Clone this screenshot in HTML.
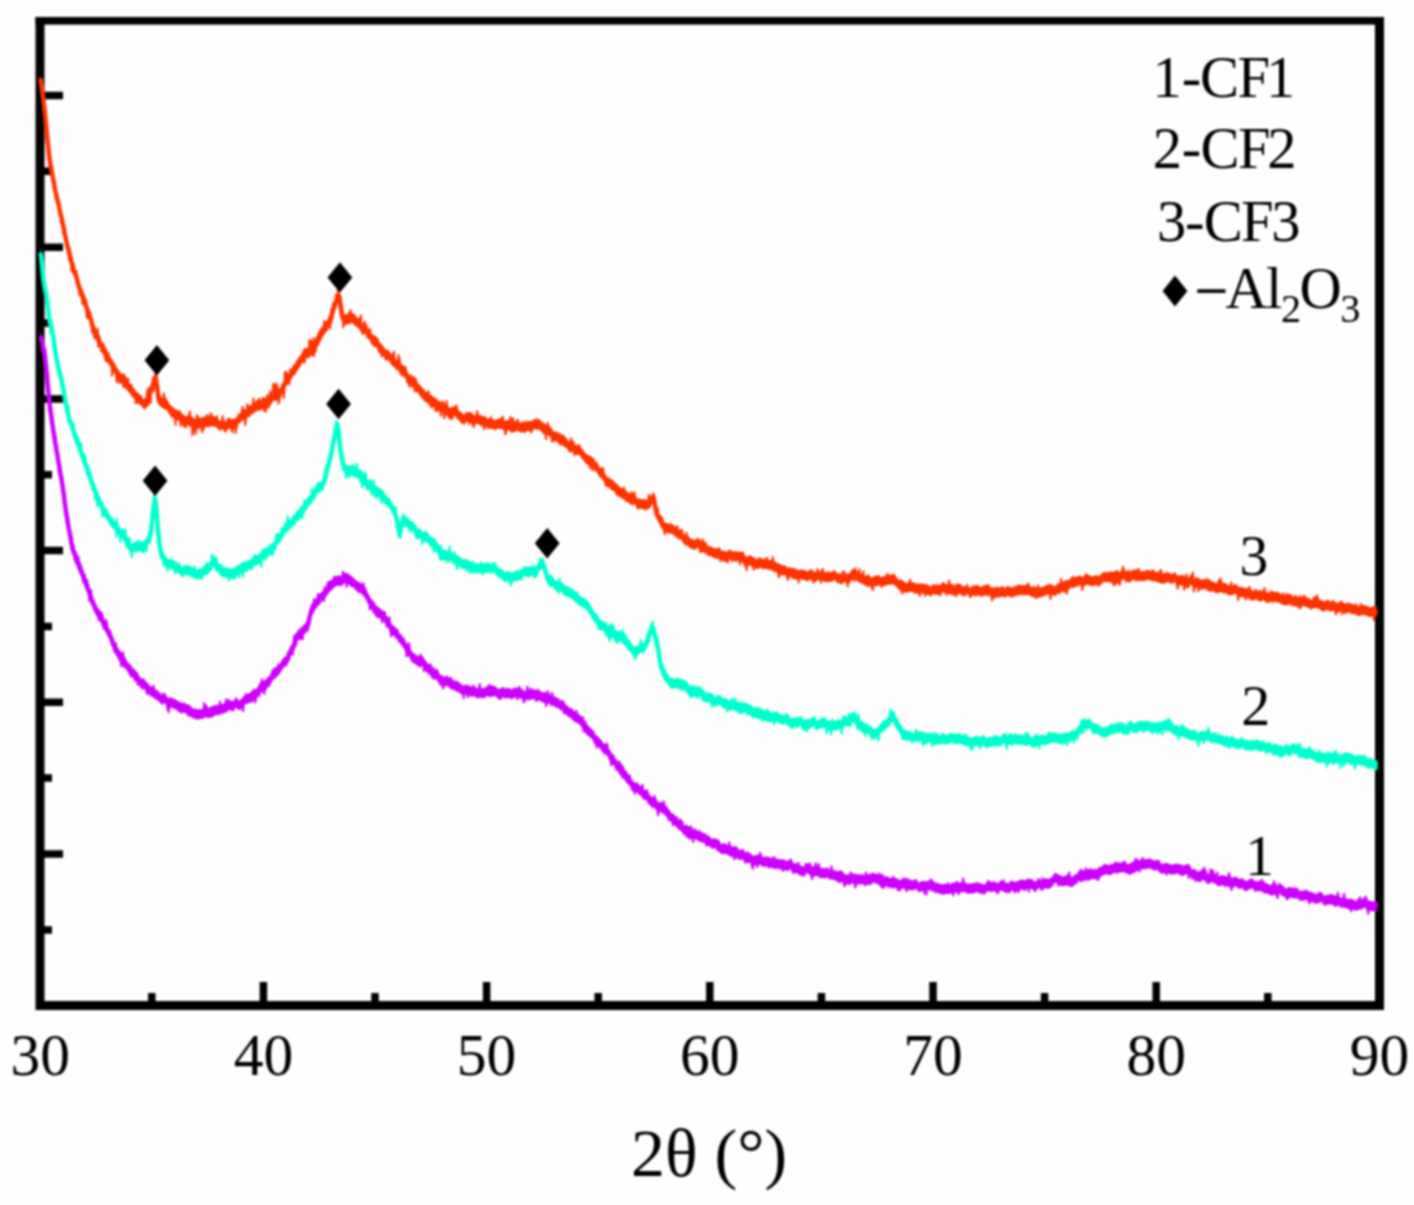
<!DOCTYPE html><html><head><meta charset="utf-8"><style>html,body{margin:0;padding:0;background:#fefefe;width:1414px;height:1205px;overflow:hidden}svg{position:absolute;left:0;top:0;will-change:transform;filter:blur(0.8px)}text{font-family:"Liberation Serif",serif}</style></head><body>
<svg width="1414" height="1205" viewBox="0 0 1414 1205">
<path d="M40 17V1009.9M1379.5 17V1009.9M35.5 1005.4H1384" fill="none" stroke="#000" stroke-width="9"/>
<rect x="35.5" y="17" width="1348.5" height="7.6" fill="#000"/>
<path d="M44 95.5H63 M44 171.3H52 M44 247.2H63 M44 323.0H52 M44 398.9H63 M44 474.8H52 M44 550.6H63 M44 626.4H52 M44 702.3H63 M44 778.1H52 M44 854.0H63 M44 929.9H52 M263.4 1001V982 M486.6 1001V982 M709.8 1001V982 M933.0 1001V982 M1156.2 1001V982 M151.8 1001V993 M375.0 1001V993 M598.2 1001V993 M821.4 1001V993 M1044.6 1001V993 M1267.8 1001V993" stroke="#000" stroke-width="7.5" fill="none"/>
<path d="M40.5 73.3 L40.7 75.6 L41.0 77.1 L41.2 78.1 L41.4 80.2 L41.6 80.9 L41.8 82.7 L42.1 84.2 L42.3 86.7 L42.5 86.7 L42.7 89.1 L42.9 90.7 L43.1 92.0 L43.3 93.8 L43.4 94.4 L43.6 95.4 L43.8 98.1 L44.0 99.2 L44.2 101.1 L44.4 102.2 L44.5 104.6 L44.7 106.0 L44.9 106.9 L45.1 109.0 L45.2 110.2 L45.4 111.6 L45.5 113.2 L45.7 114.6 L45.8 116.4 L45.9 117.8 L46.1 119.0 L46.2 121.0 L46.4 121.9 L46.5 123.7 L46.6 125.3 L46.8 127.2 L46.9 127.9 L47.0 130.3 L47.2 131.2 L47.3 132.1 L47.4 133.4 L47.6 135.4 L47.7 136.6 L47.8 137.7 L48.0 139.2 L48.1 140.9 L48.3 142.3 L48.4 144.5 L48.6 146.1 L48.7 147.4 L48.9 148.7 L49.1 149.9 L49.2 151.6 L49.4 153.4 L49.6 155.4 L49.8 156.4 L50.1 157.4 L50.3 159.0 L50.5 160.3 L50.8 160.2 L51.0 161.9 L51.3 163.5 L51.5 165.7 L51.8 166.4 L52.0 168.4 L52.3 170.1 L52.6 170.9 L52.9 173.0 L53.2 174.1 L53.5 175.1 L53.8 176.8 L54.1 178.2 L54.4 181.6 L54.7 183.0 L55.0 184.6 L55.3 186.2 L55.7 187.2 L56.0 189.0 L56.3 189.8 L56.7 192.0 L57.0 193.6 L57.4 194.9 L57.7 196.0 L58.0 197.6 L58.4 198.5 L58.7 200.2 L59.0 201.9 L59.3 203.6 L59.7 204.8 L60.0 207.2 L60.3 207.6 L60.6 209.5 L60.9 211.1 L61.2 211.1 L61.5 212.3 L61.8 213.6 L62.1 215.6 L62.4 217.5 L62.8 218.6 L63.1 220.0 L63.4 221.3 L63.7 223.1 L64.0 223.5 L64.3 226.9 L64.6 228.3 L65.0 229.2 L65.3 232.1 L65.6 232.1 L65.9 233.7 L66.2 235.1 L66.6 237.5 L66.9 238.2 L67.2 240.3 L67.6 241.7 L67.9 242.9 L68.3 243.7 L68.6 245.4 L69.0 247.8 L69.3 248.1 L69.7 249.7 L70.1 251.4 L70.5 253.3 L70.8 254.5 L71.2 256.1 L71.6 256.8 L72.0 259.1 L72.4 260.4 L72.9 260.9 L73.3 263.6 L73.7 265.4 L74.1 265.6 L74.6 267.1 L75.0 269.1 L75.5 269.4 L75.9 270.6 L76.4 272.3 L76.8 274.0 L77.3 275.4 L77.7 277.3 L78.2 279.1 L78.7 279.9 L79.2 282.1 L79.7 284.0 L80.1 285.2 L80.6 286.5 L81.1 287.5 L81.6 288.2 L82.1 288.8 L82.6 290.9 L83.1 292.0 L83.6 293.9 L84.1 295.1 L84.6 295.9 L85.1 298.3 L85.6 300.1 L86.1 300.6 L86.6 302.3 L87.0 303.6 L87.5 304.7 L88.0 307.1 L88.5 308.4 L89.0 309.6 L89.5 310.8 L90.0 312.1 L90.4 313.7 L90.9 314.7 L91.4 316.8 L91.9 319.2 L92.4 320.6 L92.9 321.4 L93.4 323.1 L93.9 324.4 L94.4 326.6 L94.9 326.8 L95.5 327.4 L96.0 329.7 L96.6 331.7 L97.1 332.6 L97.7 334.1 L98.3 334.8 L99.0 335.4 L99.6 336.8 L100.2 338.4 L100.9 340.2 L101.6 341.7 L102.2 342.8 L102.9 343.7 L103.6 345.5 L104.4 346.3 L105.1 347.5 L105.8 349.9 L106.6 350.5 L107.3 351.1 L108.1 353.0 L108.9 355.0 L109.7 355.0 L110.5 357.4 L111.3 358.6 L112.1 359.2 L113.0 360.4 L113.8 362.1 L114.7 363.3 L115.6 366.6 L116.4 367.5 L117.3 367.9 L118.3 369.4 L119.2 370.9 L120.1 372.6 L121.0 373.2 L121.9 374.3 L122.8 373.0 L123.7 373.4 L124.6 374.5 L125.5 375.8 L126.4 377.4 L127.3 379.7 L128.2 379.4 L129.1 382.8 L130.1 383.4 L131.0 385.2 L131.9 386.6 L132.9 387.1 L133.9 388.6 L134.9 389.7 L135.9 391.3 L136.9 393.0 L137.9 393.7 L139.1 394.2 L140.3 394.9 L141.6 395.6 L142.9 398.5 L144.4 398.7 L145.8 399.8 L146.7 395.3 L147.4 393.2 L148.0 391.7 L148.5 391.2 L149.1 388.3 L149.6 388.2 L150.2 387.3 L150.7 385.2 L151.2 383.9 L151.7 382.6 L152.1 381.5 L152.6 379.9 L153.0 380.7 L153.4 379.4 L153.7 377.7 L154.0 376.6 L154.3 374.4 L154.7 372.7 L155.5 371.9 L155.8 373.4 L156.1 374.1 L156.3 376.2 L156.5 377.4 L156.7 378.5 L156.9 379.8 L157.2 381.5 L157.4 383.1 L157.5 384.5 L157.7 385.6 L157.8 387.5 L158.0 389.6 L158.2 389.8 L158.3 392.1 L158.6 392.8 L159.1 395.1 L159.9 396.0 L161.0 396.6 L162.2 398.3 L163.5 398.7 L164.6 399.0 L165.6 400.5 L166.7 400.1 L167.7 400.3 L168.8 402.4 L169.9 404.8 L171.0 405.4 L172.1 407.3 L173.2 408.0 L174.4 408.7 L175.5 410.2 L176.7 409.2 L177.9 410.7 L179.2 410.9 L180.4 412.8 L181.7 412.9 L183.0 414.6 L184.4 415.3 L185.8 416.4 L187.2 415.2 L188.6 415.8 L190.1 416.7 L191.5 416.4 L193.0 417.4 L194.5 418.7 L195.9 418.7 L197.4 419.1 L198.9 418.7 L200.4 418.5 L201.8 417.5 L203.2 416.6 L204.6 416.8 L206.0 416.9 L207.5 417.1 L209.0 417.1 L210.5 415.5 L212.0 416.3 L213.5 417.1 L214.9 416.8 L216.3 417.1 L217.6 419.2 L218.9 419.3 L220.3 421.4 L221.8 419.1 L223.3 420.2 L224.8 421.4 L226.3 420.9 L227.8 418.8 L229.3 419.0 L230.8 418.1 L232.2 420.0 L233.6 419.4 L235.0 418.2 L236.3 417.6 L237.5 416.9 L238.5 414.0 L239.6 413.5 L240.7 411.7 L241.8 411.5 L242.9 410.6 L244.0 409.4 L245.1 409.5 L246.3 408.5 L247.4 407.7 L248.6 406.5 L249.9 405.8 L251.2 404.8 L252.6 402.7 L253.9 402.7 L255.3 401.9 L256.6 400.7 L258.0 400.7 L259.4 400.4 L260.7 400.4 L262.1 399.0 L263.5 398.4 L264.8 397.5 L266.1 398.2 L267.4 397.3 L268.7 397.2 L269.9 396.0 L271.2 394.6 L272.4 391.9 L273.6 390.7 L274.8 390.4 L275.9 391.4 L277.0 390.0 L278.1 388.6 L279.2 388.5 L280.2 387.7 L281.1 385.8 L282.0 383.9 L282.8 382.6 L283.6 381.1 L284.4 379.8 L285.1 378.8 L285.9 376.6 L286.6 375.3 L287.3 374.6 L288.1 373.1 L288.8 373.8 L289.5 371.4 L290.3 369.8 L291.1 369.6 L292.0 368.4 L292.8 366.0 L293.7 364.5 L294.7 363.9 L295.6 362.7 L296.6 362.1 L297.5 360.2 L298.5 359.8 L299.4 356.7 L300.2 356.2 L301.0 355.6 L301.8 353.6 L302.5 351.7 L303.3 349.8 L304.1 348.5 L305.2 347.2 L306.4 348.6 L307.8 347.5 L309.1 347.3 L310.5 345.4 L311.7 344.9 L312.7 345.1 L313.5 344.4 L314.1 343.2 L314.7 340.8 L315.2 339.2 L315.8 337.5 L316.4 336.9 L317.1 335.0 L317.9 333.5 L318.8 332.5 L319.8 328.7 L320.8 327.9 L321.8 327.9 L322.7 326.9 L323.7 325.6 L324.5 323.9 L325.3 323.3 L326.0 322.4 L326.6 321.7 L327.3 320.9 L327.9 319.3 L328.4 318.3 L329.0 316.7 L329.6 315.1 L330.2 313.4 L330.7 312.4 L331.3 310.7 L331.8 309.5 L332.3 308.1 L332.8 307.0 L333.3 303.9 L333.8 302.6 L334.3 301.7 L334.8 299.8 L335.3 298.4 L335.8 297.4 L336.3 295.7 L336.7 294.8 L337.1 293.4 L337.5 291.4 L338.0 290.7 L338.9 290.9 L339.3 292.1 L339.6 292.7 L339.8 295.3 L340.0 296.3 L340.2 298.1 L340.4 299.7 L340.6 300.7 L340.9 303.2 L341.1 304.1 L341.4 305.9 L341.7 307.3 L341.9 309.1 L342.2 310.5 L342.4 310.9 L342.7 313.0 L343.1 313.6 L344.2 315.0 L345.6 314.9 L346.9 314.6 L348.2 314.0 L349.6 312.9 L351.1 312.8 L352.5 313.3 L353.8 314.3 L354.9 315.3 L356.0 315.6 L357.1 318.1 L358.1 317.7 L359.2 318.6 L360.2 321.3 L361.2 322.5 L362.3 323.4 L363.3 324.0 L364.4 323.0 L365.4 323.6 L366.3 325.3 L367.3 328.3 L368.2 328.4 L369.1 329.7 L370.0 330.9 L371.0 332.7 L371.9 333.8 L372.9 335.1 L373.8 334.5 L374.8 336.1 L375.8 337.6 L376.9 337.6 L377.9 340.7 L379.0 342.0 L380.0 342.9 L381.1 343.0 L382.2 344.9 L383.2 345.7 L384.3 348.0 L385.4 348.4 L386.5 350.6 L387.5 350.0 L388.6 350.7 L389.7 351.9 L390.7 353.6 L391.8 355.7 L392.9 355.9 L394.0 356.9 L395.0 357.6 L396.1 359.8 L397.1 360.2 L398.2 360.5 L399.2 362.3 L400.2 362.8 L401.2 363.4 L402.2 364.7 L403.1 364.7 L404.1 366.5 L405.0 366.6 L406.0 368.3 L406.9 369.9 L407.8 373.1 L408.8 375.5 L409.7 375.8 L410.7 376.6 L411.7 376.5 L412.7 378.0 L413.7 378.2 L414.8 379.3 L415.8 379.9 L416.8 382.0 L417.9 382.6 L418.9 384.2 L420.0 385.9 L421.1 386.0 L422.2 387.1 L423.3 389.0 L424.4 389.2 L425.5 391.7 L426.7 392.2 L427.8 392.9 L428.9 393.3 L430.1 394.4 L431.3 395.1 L432.4 395.9 L433.6 396.8 L434.8 397.4 L436.1 398.2 L437.3 399.2 L438.6 401.1 L439.9 400.9 L441.2 402.7 L442.6 401.7 L443.9 401.8 L445.2 404.6 L446.6 405.5 L448.0 406.1 L449.3 407.6 L450.7 408.3 L452.0 406.2 L453.4 406.4 L454.7 406.3 L456.1 406.6 L457.5 407.6 L458.9 410.7 L460.3 411.7 L461.7 412.2 L463.1 414.1 L464.5 415.3 L466.0 411.4 L467.4 412.5 L468.9 412.0 L470.4 412.1 L471.9 412.9 L473.3 414.4 L474.8 415.2 L476.3 413.4 L477.8 414.2 L479.2 414.6 L480.6 415.3 L482.1 415.7 L483.5 416.1 L484.9 417.3 L486.3 417.8 L487.8 418.3 L489.2 419.3 L490.7 418.8 L492.2 418.8 L493.7 419.5 L495.2 420.4 L496.7 418.7 L498.2 419.0 L499.7 418.4 L501.2 419.4 L502.7 419.3 L504.1 420.4 L505.6 420.7 L507.1 420.0 L508.5 420.1 L510.0 421.3 L511.4 422.8 L512.9 422.6 L514.4 421.5 L515.9 421.1 L517.4 421.1 L518.9 421.0 L520.4 423.1 L521.9 422.1 L523.4 421.5 L524.9 421.2 L526.4 421.3 L527.9 421.1 L529.4 421.1 L530.8 421.0 L532.3 421.1 L533.8 418.7 L535.3 419.2 L536.8 420.2 L538.3 419.3 L539.7 420.1 L541.1 421.8 L542.3 421.9 L543.6 423.5 L544.7 423.4 L545.9 424.2 L547.0 425.4 L548.1 425.0 L549.2 426.6 L550.4 427.4 L551.6 430.4 L552.9 430.6 L554.2 431.6 L555.5 431.3 L556.8 432.1 L558.1 432.6 L559.4 433.1 L560.7 433.7 L561.9 434.9 L563.2 436.0 L564.5 437.1 L565.8 438.1 L567.0 438.3 L568.3 440.8 L569.5 442.8 L570.8 442.7 L572.0 441.3 L573.3 442.3 L574.5 444.6 L575.7 444.4 L576.9 445.6 L578.1 444.5 L579.3 445.4 L580.5 445.5 L581.7 449.3 L582.9 449.1 L584.0 451.3 L585.2 453.2 L586.3 454.1 L587.5 454.4 L588.6 455.2 L589.8 455.5 L590.9 456.3 L592.0 457.1 L593.1 458.2 L594.2 459.6 L595.2 461.7 L596.3 461.6 L597.3 463.3 L598.4 465.4 L599.4 466.2 L600.4 467.4 L601.5 467.7 L602.4 469.8 L603.4 469.9 L604.3 471.8 L605.2 474.7 L606.2 476.1 L607.1 476.7 L608.0 478.0 L609.0 477.0 L609.9 478.2 L610.9 480.0 L612.0 479.9 L613.1 480.8 L614.2 481.3 L615.3 483.3 L616.5 484.5 L617.7 484.8 L618.9 485.9 L620.1 487.6 L621.3 488.0 L622.5 488.8 L623.8 489.3 L625.1 490.3 L626.3 491.1 L627.6 492.5 L628.9 492.7 L630.2 494.4 L631.5 494.0 L632.9 493.3 L634.2 494.5 L635.4 494.9 L636.7 497.7 L638.0 498.8 L639.2 498.6 L640.6 498.4 L642.0 499.4 L643.5 499.2 L645.0 498.9 L646.4 500.5 L647.7 499.2 L648.9 498.4 L650.0 498.2 L650.8 497.2 L651.3 495.4 L651.8 494.7 L652.5 492.3 L653.5 492.1 L653.9 492.6 L654.2 494.4 L654.4 496.1 L654.6 498.3 L654.8 499.3 L655.0 500.2 L655.2 502.4 L655.5 503.3 L655.7 504.5 L655.9 506.2 L656.3 507.5 L656.8 509.3 L657.4 510.1 L658.1 511.8 L658.7 513.2 L659.5 513.4 L660.3 514.5 L661.2 515.5 L662.1 517.3 L663.2 521.2 L664.2 522.4 L665.4 523.0 L666.6 522.6 L667.8 523.0 L669.1 524.2 L670.5 523.3 L671.8 523.7 L673.2 525.0 L674.5 525.6 L675.7 526.8 L676.9 527.9 L678.1 528.2 L679.2 530.1 L680.3 529.3 L681.4 530.0 L682.6 531.7 L683.7 534.0 L685.0 534.9 L686.2 535.4 L687.6 535.7 L689.0 536.3 L690.4 539.0 L691.8 538.5 L693.2 539.3 L694.6 539.7 L696.0 539.5 L697.4 537.0 L698.7 539.2 L700.0 538.3 L701.4 542.3 L702.7 542.4 L704.0 541.6 L705.3 541.8 L706.7 542.9 L708.1 546.5 L709.5 546.1 L711.0 546.6 L712.4 546.9 L713.8 548.3 L715.3 547.7 L716.7 548.8 L718.2 547.6 L719.7 547.4 L721.1 549.8 L722.6 551.3 L724.1 550.6 L725.6 551.3 L727.0 552.1 L728.5 549.7 L730.0 549.2 L731.5 551.1 L732.9 551.2 L734.4 551.1 L735.9 552.0 L737.4 550.5 L738.8 552.6 L740.3 551.5 L741.7 552.1 L743.0 552.2 L744.4 556.9 L745.8 556.8 L747.1 557.1 L748.5 555.2 L750.0 555.6 L751.4 556.8 L752.9 557.0 L754.4 557.6 L755.8 558.9 L757.3 558.9 L758.8 557.3 L760.3 557.4 L761.7 558.4 L763.2 559.4 L764.7 558.8 L766.2 559.0 L767.7 559.6 L769.1 559.7 L770.6 560.1 L772.0 560.3 L773.4 560.4 L774.8 560.9 L776.2 562.5 L777.6 562.7 L779.0 563.5 L780.4 564.2 L781.8 565.0 L783.2 565.3 L784.6 565.2 L786.0 566.4 L787.5 567.2 L788.9 567.8 L790.4 567.0 L791.8 568.0 L793.3 569.0 L794.7 569.8 L796.2 569.0 L797.7 569.7 L799.1 569.8 L800.6 569.6 L802.1 569.4 L803.6 570.0 L805.1 570.2 L806.6 571.3 L808.1 571.2 L809.6 569.6 L811.0 570.3 L812.5 571.3 L814.0 571.2 L815.5 572.2 L817.1 570.6 L818.6 570.0 L820.1 571.4 L821.6 570.3 L823.1 571.3 L824.6 572.0 L826.1 571.9 L827.6 571.9 L829.0 572.1 L830.5 571.7 L832.0 571.8 L833.5 570.5 L835.0 570.0 L836.5 572.6 L838.0 573.5 L839.5 573.2 L841.0 573.7 L842.5 574.1 L844.0 572.1 L845.5 572.3 L846.9 574.7 L848.3 573.5 L849.6 573.2 L850.9 571.1 L852.3 570.2 L853.8 569.2 L855.3 569.1 L856.7 570.6 L858.1 571.9 L859.4 572.6 L860.7 572.8 L862.0 574.0 L863.3 574.1 L864.7 575.7 L866.1 575.7 L867.6 574.3 L869.1 574.6 L870.6 577.8 L872.1 579.0 L873.5 575.4 L875.0 576.2 L876.5 576.7 L878.0 575.6 L879.5 575.2 L881.0 577.9 L882.5 576.7 L884.0 575.6 L885.5 576.2 L887.0 574.9 L888.3 574.5 L889.7 575.2 L891.2 574.3 L892.6 574.5 L894.0 575.0 L895.2 576.1 L896.4 576.5 L897.6 578.8 L898.7 579.4 L900.0 580.2 L901.3 579.0 L902.7 580.5 L904.2 582.4 L905.6 582.7 L907.1 582.8 L908.6 581.7 L910.1 581.8 L911.6 582.0 L913.1 582.2 L914.5 583.1 L916.0 583.0 L917.5 584.0 L919.0 583.3 L920.5 583.9 L922.0 583.2 L923.5 584.1 L925.0 584.0 L926.4 584.2 L927.9 584.4 L929.3 585.3 L930.8 587.0 L932.3 584.4 L933.8 584.3 L935.3 584.9 L936.8 584.4 L938.2 585.3 L939.6 584.8 L941.1 584.2 L942.6 581.7 L944.1 582.6 L945.6 584.0 L947.1 584.2 L948.5 584.0 L950.0 584.4 L951.5 584.8 L953.0 585.3 L954.5 586.3 L956.0 583.4 L957.5 583.9 L959.0 584.5 L960.5 584.0 L962.0 585.6 L963.5 586.6 L965.0 586.7 L966.5 583.7 L968.0 584.4 L969.5 588.2 L971.0 588.0 L972.5 585.4 L974.0 585.2 L975.5 585.6 L977.0 584.6 L978.5 585.6 L980.0 586.5 L981.5 587.0 L983.0 585.2 L984.5 585.7 L986.0 584.3 L987.5 584.7 L989.0 583.9 L990.5 587.4 L991.9 587.2 L993.4 587.2 L994.9 588.1 L996.4 586.6 L997.9 587.1 L999.4 587.7 L1000.9 587.1 L1002.4 586.5 L1003.9 587.3 L1005.4 587.7 L1006.9 586.3 L1008.4 585.8 L1009.9 587.0 L1011.4 587.4 L1012.9 587.6 L1014.4 585.4 L1015.9 586.5 L1017.4 585.2 L1018.9 585.6 L1020.4 585.0 L1021.9 584.7 L1023.4 585.3 L1024.9 585.1 L1026.4 584.9 L1027.9 585.6 L1029.4 585.0 L1030.9 586.7 L1032.4 586.9 L1033.9 586.0 L1035.3 586.8 L1036.8 588.0 L1038.3 588.1 L1039.8 587.1 L1041.3 587.6 L1042.8 586.5 L1044.3 585.9 L1045.7 585.8 L1047.2 584.6 L1048.6 584.6 L1050.1 583.8 L1051.6 584.7 L1053.1 584.9 L1054.5 586.5 L1056.0 585.2 L1057.5 583.4 L1058.9 583.0 L1060.4 583.6 L1061.8 581.2 L1063.3 581.9 L1064.7 580.7 L1066.0 580.4 L1067.4 579.7 L1068.8 580.4 L1070.2 578.3 L1071.6 577.1 L1073.0 577.9 L1074.4 577.2 L1075.8 576.9 L1077.2 576.5 L1078.6 575.7 L1080.1 575.2 L1081.6 576.7 L1083.1 576.7 L1084.6 575.6 L1086.1 575.1 L1087.6 575.0 L1089.1 575.2 L1090.6 575.8 L1092.1 576.1 L1093.6 576.4 L1095.1 575.1 L1096.5 575.2 L1098.0 575.8 L1099.4 575.7 L1100.9 574.5 L1102.4 572.4 L1103.8 572.4 L1105.3 571.7 L1106.8 572.3 L1108.3 571.8 L1109.8 572.2 L1111.3 571.0 L1112.8 571.7 L1114.3 571.8 L1115.8 570.5 L1117.3 569.7 L1118.8 571.5 L1120.3 571.7 L1121.8 570.0 L1123.2 569.4 L1124.7 569.4 L1126.3 571.9 L1127.8 572.6 L1129.3 571.6 L1130.8 570.8 L1132.3 569.8 L1133.8 570.6 L1135.3 570.8 L1136.8 569.2 L1138.3 570.3 L1139.8 571.6 L1141.3 571.1 L1142.8 571.1 L1144.3 571.1 L1145.8 570.6 L1147.3 569.8 L1148.8 570.0 L1150.3 570.7 L1151.7 570.5 L1153.2 571.7 L1154.7 571.0 L1156.2 571.9 L1157.7 572.0 L1159.2 573.1 L1160.7 573.2 L1162.2 573.8 L1163.7 573.0 L1165.2 573.1 L1166.7 572.2 L1168.2 572.6 L1169.7 573.0 L1171.2 573.7 L1172.6 573.8 L1174.1 572.2 L1175.6 572.4 L1177.0 575.6 L1178.5 575.4 L1180.0 575.0 L1181.5 575.4 L1182.9 576.1 L1184.4 576.8 L1185.9 577.0 L1187.3 577.8 L1188.8 578.0 L1190.3 574.7 L1191.8 575.0 L1193.2 578.6 L1194.7 578.0 L1196.2 577.8 L1197.6 577.4 L1199.1 577.7 L1200.6 580.0 L1202.1 579.8 L1203.5 578.9 L1205.0 579.1 L1206.5 579.7 L1208.0 581.1 L1209.4 581.6 L1210.9 581.9 L1212.4 581.1 L1213.9 582.0 L1215.4 582.4 L1216.9 583.4 L1218.4 582.5 L1219.8 583.0 L1221.3 581.9 L1222.8 582.4 L1224.3 582.9 L1225.8 582.7 L1227.2 584.8 L1228.7 585.2 L1230.2 585.0 L1231.7 585.0 L1233.1 585.5 L1234.6 583.7 L1236.1 584.0 L1237.5 586.5 L1239.0 586.7 L1240.5 587.3 L1241.9 587.1 L1243.4 587.5 L1244.8 588.1 L1246.3 588.2 L1247.7 587.8 L1249.2 588.7 L1250.6 588.5 L1252.1 590.1 L1253.5 591.3 L1255.0 589.6 L1256.5 589.1 L1258.0 591.2 L1259.5 590.9 L1261.0 591.9 L1262.5 590.2 L1264.0 590.6 L1265.5 592.3 L1267.0 591.6 L1268.5 592.9 L1270.0 592.2 L1271.5 591.2 L1272.9 591.2 L1274.4 591.5 L1275.9 592.4 L1277.4 592.5 L1278.9 592.4 L1280.4 593.4 L1281.9 594.6 L1283.3 595.1 L1284.8 595.4 L1286.3 594.1 L1287.8 595.4 L1289.2 594.0 L1290.7 593.6 L1292.2 596.0 L1293.7 596.5 L1295.1 596.3 L1296.6 596.2 L1298.1 597.0 L1299.5 599.8 L1301.0 599.0 L1302.5 595.3 L1304.0 595.9 L1305.4 596.9 L1306.9 597.4 L1308.4 597.8 L1309.9 598.7 L1311.4 600.1 L1312.9 598.3 L1314.3 597.9 L1315.8 598.1 L1317.3 598.9 L1318.8 598.2 L1320.3 599.9 L1321.8 600.0 L1323.3 601.0 L1324.8 601.4 L1326.3 599.8 L1327.8 600.2 L1329.3 601.5 L1330.8 601.5 L1332.3 601.1 L1333.8 601.1 L1335.3 601.9 L1336.7 602.5 L1338.2 603.0 L1339.7 601.8 L1341.2 602.1 L1342.7 602.0 L1344.2 603.0 L1345.6 604.8 L1347.1 602.7 L1348.6 602.3 L1350.1 603.4 L1351.6 603.9 L1353.1 603.8 L1354.5 604.5 L1356.0 604.2 L1357.5 605.7 L1359.0 606.1 L1360.5 605.6 L1361.9 605.1 L1363.4 605.1 L1364.9 605.3 L1366.4 605.6 L1367.9 606.4 L1369.4 607.1 L1370.9 607.2 L1372.4 606.5 L1373.9 605.7 L1375.4 606.8 L1376.9 606.2 L1376.9 616.2 L1375.4 616.8 L1373.9 615.7 L1372.4 616.5 L1370.9 617.2 L1369.4 617.1 L1367.9 616.4 L1366.4 615.6 L1364.9 615.3 L1363.4 615.1 L1361.9 615.1 L1360.5 615.6 L1359.0 616.1 L1357.5 615.7 L1356.0 614.2 L1354.5 614.5 L1353.1 613.8 L1351.6 613.9 L1350.1 613.4 L1348.6 612.3 L1347.1 612.7 L1345.6 614.8 L1344.2 613.0 L1342.7 612.0 L1341.2 612.1 L1339.7 611.8 L1338.2 613.0 L1336.7 612.5 L1335.3 611.9 L1333.8 611.1 L1332.3 611.1 L1330.8 611.5 L1329.3 611.5 L1327.8 610.2 L1326.3 609.8 L1324.8 611.4 L1323.3 611.0 L1321.8 610.0 L1320.3 609.9 L1318.8 608.2 L1317.3 608.9 L1315.8 608.1 L1314.3 607.9 L1312.9 608.3 L1311.4 610.1 L1309.9 608.7 L1308.4 607.8 L1306.9 607.4 L1305.4 606.9 L1304.0 605.9 L1302.5 605.3 L1301.0 609.0 L1299.5 609.8 L1298.1 607.0 L1296.6 606.2 L1295.1 606.3 L1293.7 606.5 L1292.2 606.0 L1290.7 603.6 L1289.2 604.0 L1287.8 605.4 L1286.3 604.1 L1284.8 605.4 L1283.3 605.1 L1281.9 604.6 L1280.4 603.4 L1278.9 602.4 L1277.4 602.5 L1275.9 602.4 L1274.4 601.5 L1272.9 601.2 L1271.5 601.2 L1270.0 602.2 L1268.5 602.9 L1267.0 601.6 L1265.5 602.3 L1264.0 600.6 L1262.5 600.2 L1261.0 601.9 L1259.5 600.9 L1258.0 601.2 L1256.5 599.1 L1255.0 599.6 L1253.5 601.3 L1252.1 600.1 L1250.6 598.5 L1249.2 598.7 L1247.7 597.8 L1246.3 598.2 L1244.8 598.1 L1243.4 597.5 L1241.9 597.1 L1240.5 597.3 L1239.0 596.7 L1237.5 596.5 L1236.1 594.0 L1234.6 593.7 L1233.1 595.5 L1231.7 595.0 L1230.2 595.0 L1228.7 595.2 L1227.2 594.8 L1225.8 592.7 L1224.3 592.9 L1222.8 592.4 L1221.3 591.9 L1219.8 593.0 L1218.4 592.5 L1216.9 593.4 L1215.4 592.4 L1213.9 592.0 L1212.4 591.1 L1210.9 591.9 L1209.4 591.6 L1208.0 591.1 L1206.5 589.7 L1205.0 589.1 L1203.5 588.9 L1202.1 589.8 L1200.6 590.0 L1199.1 587.7 L1197.6 587.4 L1196.2 587.8 L1194.7 588.0 L1193.2 588.6 L1191.8 585.0 L1190.3 584.7 L1188.8 588.0 L1187.3 587.8 L1185.9 587.0 L1184.4 586.8 L1182.9 586.1 L1181.5 585.4 L1180.0 585.0 L1178.5 585.4 L1177.0 585.6 L1175.6 582.4 L1174.1 582.2 L1172.6 583.8 L1171.2 583.7 L1169.7 583.0 L1168.2 582.6 L1166.7 582.2 L1165.2 583.1 L1163.7 583.0 L1162.2 583.8 L1160.7 583.2 L1159.2 583.1 L1157.7 582.0 L1156.2 581.9 L1154.7 581.0 L1153.2 581.7 L1151.7 580.5 L1150.3 580.7 L1148.8 580.0 L1147.3 579.8 L1145.8 580.6 L1144.3 581.1 L1142.8 581.1 L1141.3 581.1 L1139.8 581.6 L1138.3 580.3 L1136.8 579.2 L1135.3 580.8 L1133.8 580.6 L1132.3 579.8 L1130.8 580.8 L1129.3 581.6 L1127.8 582.6 L1126.3 581.9 L1124.7 579.4 L1123.2 579.4 L1121.8 580.0 L1120.3 581.7 L1118.8 581.5 L1117.3 579.7 L1115.8 580.5 L1114.3 581.8 L1112.8 581.7 L1111.3 581.0 L1109.8 582.2 L1108.3 581.8 L1106.8 582.3 L1105.3 581.7 L1103.8 582.4 L1102.4 582.4 L1100.9 584.5 L1099.4 585.7 L1098.0 585.8 L1096.5 585.2 L1095.1 585.1 L1093.6 586.4 L1092.1 586.1 L1090.6 585.8 L1089.1 585.2 L1087.6 585.0 L1086.1 585.1 L1084.6 585.6 L1083.1 586.7 L1081.6 586.7 L1080.1 585.2 L1078.6 585.7 L1077.2 586.5 L1075.8 586.9 L1074.4 587.2 L1073.0 587.9 L1071.6 587.1 L1070.2 588.3 L1068.8 590.4 L1067.4 589.7 L1066.0 590.4 L1064.7 590.7 L1063.3 591.9 L1061.8 591.2 L1060.4 593.6 L1058.9 593.0 L1057.5 593.4 L1056.0 595.2 L1054.5 596.5 L1053.1 594.9 L1051.6 594.7 L1050.1 593.8 L1048.6 594.6 L1047.2 594.6 L1045.7 595.8 L1044.3 595.9 L1042.8 596.5 L1041.3 597.6 L1039.8 597.1 L1038.3 598.1 L1036.8 598.0 L1035.3 596.8 L1033.9 596.0 L1032.4 596.9 L1030.9 596.7 L1029.4 595.0 L1027.9 595.6 L1026.4 594.9 L1024.9 595.1 L1023.4 595.3 L1021.9 594.7 L1020.4 595.0 L1018.9 595.6 L1017.4 595.2 L1015.9 596.5 L1014.4 595.4 L1012.9 597.6 L1011.4 597.4 L1009.9 597.0 L1008.4 595.8 L1006.9 596.3 L1005.4 597.7 L1003.9 597.3 L1002.4 596.5 L1000.9 597.1 L999.4 597.7 L997.9 597.1 L996.4 596.6 L994.9 598.1 L993.4 597.2 L991.9 597.2 L990.5 597.4 L989.0 593.9 L987.5 594.7 L986.0 594.3 L984.5 595.7 L983.0 595.2 L981.5 597.0 L980.0 596.5 L978.5 595.6 L977.0 594.6 L975.5 595.6 L974.0 595.2 L972.5 595.4 L971.0 598.0 L969.5 598.2 L968.0 594.4 L966.5 593.7 L965.0 596.7 L963.5 596.6 L962.0 595.6 L960.5 594.0 L959.0 594.5 L957.5 593.9 L956.0 593.4 L954.5 596.3 L953.0 595.3 L951.5 594.8 L950.0 594.4 L948.5 594.0 L947.1 594.2 L945.6 594.0 L944.1 592.6 L942.6 591.7 L941.1 594.2 L939.6 594.8 L938.2 595.3 L936.8 594.4 L935.3 594.9 L933.8 594.3 L932.3 594.4 L930.8 597.0 L929.3 595.3 L927.9 594.4 L926.4 594.2 L925.0 594.0 L923.5 594.1 L922.0 593.2 L920.5 593.9 L919.0 593.3 L917.5 594.0 L916.0 593.0 L914.5 593.1 L913.1 592.2 L911.6 592.0 L910.1 591.8 L908.6 591.7 L907.1 592.8 L905.6 592.7 L904.2 592.4 L902.7 590.5 L901.3 589.0 L900.0 590.2 L898.7 589.4 L897.6 588.8 L896.4 586.5 L895.2 586.1 L894.0 585.0 L892.6 584.5 L891.2 584.3 L889.7 585.2 L888.3 584.5 L887.0 584.9 L885.5 586.2 L884.0 585.6 L882.5 586.7 L881.0 587.9 L879.5 585.2 L878.0 585.6 L876.5 586.7 L875.0 586.2 L873.5 585.4 L872.1 589.0 L870.6 587.8 L869.1 584.6 L867.6 584.3 L866.1 585.7 L864.7 585.7 L863.3 584.1 L862.0 584.0 L860.7 582.8 L859.4 582.6 L858.1 581.9 L856.7 580.6 L855.3 579.1 L853.8 579.2 L852.3 580.2 L850.9 581.1 L849.6 583.2 L848.3 583.5 L846.9 584.7 L845.5 582.3 L844.0 582.1 L842.5 584.1 L841.0 583.7 L839.5 583.2 L838.0 583.5 L836.5 582.6 L835.0 580.0 L833.5 580.5 L832.0 581.8 L830.5 581.7 L829.0 582.1 L827.6 581.9 L826.1 581.9 L824.6 582.0 L823.1 581.3 L821.6 580.3 L820.1 581.4 L818.6 580.0 L817.1 580.6 L815.5 582.2 L814.0 581.2 L812.5 581.3 L811.0 580.3 L809.6 579.6 L808.1 581.2 L806.6 581.3 L805.1 580.2 L803.6 580.0 L802.1 579.4 L800.6 579.6 L799.1 579.8 L797.7 579.7 L796.2 579.0 L794.7 579.8 L793.3 579.0 L791.8 578.0 L790.4 577.0 L788.9 577.8 L787.5 577.2 L786.0 576.4 L784.6 575.2 L783.2 575.3 L781.8 575.0 L780.4 574.2 L779.0 573.5 L777.6 572.7 L776.2 572.5 L774.8 570.9 L773.4 570.4 L772.0 570.3 L770.6 570.1 L769.1 569.7 L767.7 569.6 L766.2 569.0 L764.7 568.8 L763.2 569.4 L761.7 568.4 L760.3 567.4 L758.8 567.3 L757.3 568.9 L755.8 568.9 L754.4 567.6 L752.9 567.0 L751.4 566.8 L750.0 565.6 L748.5 565.2 L747.1 567.1 L745.8 566.8 L744.4 566.9 L743.0 562.2 L741.7 562.1 L740.3 561.5 L738.8 562.6 L737.4 560.5 L735.9 562.0 L734.4 561.1 L732.9 561.2 L731.5 561.1 L730.0 559.2 L728.5 559.7 L727.0 562.1 L725.6 561.3 L724.1 560.6 L722.6 561.3 L721.1 559.8 L719.7 557.4 L718.2 557.6 L716.7 558.8 L715.3 557.7 L713.8 558.3 L712.4 556.9 L711.0 556.6 L709.5 556.1 L708.1 556.5 L706.7 552.9 L705.3 551.8 L704.0 551.6 L702.7 552.4 L701.4 552.3 L700.0 548.3 L698.7 549.2 L697.4 547.0 L696.0 549.5 L694.6 549.7 L693.2 549.3 L691.8 548.5 L690.4 549.0 L689.0 546.3 L687.6 545.7 L686.2 545.4 L685.0 544.9 L683.7 544.0 L682.6 541.7 L681.4 540.0 L680.3 539.3 L679.2 540.1 L678.1 538.2 L676.9 537.9 L675.7 536.8 L674.5 535.6 L673.2 535.0 L671.8 533.7 L670.5 533.3 L669.1 534.2 L667.8 533.0 L666.6 532.6 L665.4 533.0 L664.2 532.4 L663.2 531.2 L662.1 527.3 L661.2 525.5 L660.3 524.5 L659.5 523.4 L658.7 523.2 L658.1 521.8 L657.4 520.1 L656.8 519.3 L656.3 517.5 L655.9 516.2 L655.7 514.5 L655.5 513.3 L655.2 512.4 L655.0 510.2 L654.8 509.3 L654.6 508.3 L654.4 506.1 L654.2 504.4 L653.9 502.6 L653.5 502.1 L652.5 502.3 L651.8 504.7 L651.3 505.4 L650.8 507.2 L650.0 508.2 L648.9 508.4 L647.7 509.2 L646.4 510.5 L645.0 508.9 L643.5 509.2 L642.0 509.4 L640.6 508.4 L639.2 508.6 L638.0 508.8 L636.7 507.7 L635.4 504.9 L634.2 504.5 L632.9 503.3 L631.5 504.0 L630.2 504.4 L628.9 502.7 L627.6 502.5 L626.3 501.1 L625.1 500.3 L623.8 499.3 L622.5 498.8 L621.3 498.0 L620.1 497.6 L618.9 495.9 L617.7 494.8 L616.5 494.5 L615.3 493.3 L614.2 491.3 L613.1 490.8 L612.0 489.9 L610.9 490.0 L609.9 488.2 L609.0 487.0 L608.0 488.0 L607.1 486.7 L606.2 486.1 L605.2 484.7 L604.3 481.8 L603.4 479.9 L602.4 479.8 L601.5 477.7 L600.4 477.4 L599.4 476.2 L598.4 475.4 L597.3 473.3 L596.3 471.6 L595.2 471.7 L594.2 469.6 L593.1 468.2 L592.0 467.1 L590.9 466.3 L589.8 465.5 L588.6 465.2 L587.5 464.4 L586.3 464.1 L585.2 463.2 L584.0 461.3 L582.9 459.1 L581.7 459.3 L580.5 455.5 L579.3 455.4 L578.1 454.5 L576.9 455.6 L575.7 454.4 L574.5 454.6 L573.3 452.3 L572.0 451.3 L570.8 452.7 L569.5 452.8 L568.3 450.8 L567.0 448.3 L565.8 448.1 L564.5 447.1 L563.2 446.0 L561.9 444.9 L560.7 443.7 L559.4 443.1 L558.1 442.6 L556.8 442.1 L555.5 441.3 L554.2 441.6 L552.9 440.6 L551.6 440.4 L550.4 437.4 L549.2 436.6 L548.1 435.0 L547.0 435.4 L545.9 434.2 L544.7 433.4 L543.6 433.5 L542.3 431.9 L541.1 431.8 L539.7 430.1 L538.3 429.3 L536.8 430.2 L535.3 429.2 L533.8 428.7 L532.3 431.1 L530.8 431.0 L529.4 431.1 L527.9 431.1 L526.4 431.3 L524.9 431.2 L523.4 431.5 L521.9 432.1 L520.4 433.1 L518.9 431.0 L517.4 431.1 L515.9 431.1 L514.4 431.5 L512.9 432.6 L511.4 432.8 L510.0 431.3 L508.5 430.1 L507.1 430.0 L505.6 430.7 L504.1 430.4 L502.7 429.3 L501.2 429.4 L499.7 428.4 L498.2 429.0 L496.7 428.7 L495.2 430.4 L493.7 429.5 L492.2 428.8 L490.7 428.8 L489.2 429.3 L487.8 428.3 L486.3 427.8 L484.9 427.3 L483.5 426.1 L482.1 425.7 L480.6 425.3 L479.2 424.6 L477.8 424.2 L476.3 423.4 L474.8 425.2 L473.3 424.4 L471.9 422.9 L470.4 422.1 L468.9 422.0 L467.4 422.5 L466.0 421.4 L464.5 425.3 L463.1 424.1 L461.7 422.2 L460.3 421.7 L458.9 420.7 L457.5 417.6 L456.1 416.6 L454.7 416.3 L453.4 416.4 L452.0 416.2 L450.7 418.3 L449.3 417.6 L448.0 416.1 L446.6 415.5 L445.2 414.6 L443.9 411.8 L442.6 411.7 L441.2 412.7 L439.9 410.9 L438.6 411.1 L437.3 409.2 L436.1 408.2 L434.8 407.4 L433.6 406.8 L432.4 405.9 L431.3 405.1 L430.1 404.4 L428.9 403.3 L427.8 402.9 L426.7 402.2 L425.5 401.7 L424.4 399.2 L423.3 399.0 L422.2 397.1 L421.1 396.0 L420.0 395.9 L418.9 394.2 L417.9 392.6 L416.8 392.0 L415.8 389.9 L414.8 389.3 L413.7 388.2 L412.7 388.0 L411.7 386.5 L410.7 386.6 L409.7 385.8 L408.8 385.5 L407.8 383.1 L406.9 379.9 L406.0 378.3 L405.0 376.6 L404.1 376.5 L403.1 374.7 L402.2 374.7 L401.2 373.4 L400.2 372.8 L399.2 372.3 L398.2 370.5 L397.1 370.2 L396.1 369.8 L395.0 367.6 L394.0 366.9 L392.9 365.9 L391.8 365.7 L390.7 363.6 L389.7 361.9 L388.6 360.7 L387.5 360.0 L386.5 360.6 L385.4 358.4 L384.3 358.0 L383.2 355.7 L382.2 354.9 L381.1 353.0 L380.0 352.9 L379.0 352.0 L377.9 350.7 L376.9 347.6 L375.8 347.6 L374.8 346.1 L373.8 344.5 L372.9 345.1 L371.9 343.8 L371.0 342.7 L370.0 340.9 L369.1 339.7 L368.2 338.4 L367.3 338.3 L366.3 335.3 L365.4 333.6 L364.4 333.0 L363.3 334.0 L362.3 333.4 L361.2 332.5 L360.2 331.3 L359.2 328.6 L358.1 327.7 L357.1 328.1 L356.0 325.6 L354.9 325.3 L353.8 324.3 L352.5 323.3 L351.1 322.8 L349.6 322.9 L348.2 324.0 L346.9 324.6 L345.6 324.9 L344.2 325.0 L343.1 323.6 L342.7 323.0 L342.4 320.9 L342.2 320.5 L341.9 319.1 L341.7 317.3 L341.4 315.9 L341.1 314.1 L340.9 313.2 L340.6 310.7 L340.4 309.7 L340.2 308.1 L340.0 306.3 L339.8 305.3 L339.6 302.7 L339.3 302.1 L338.9 300.9 L338.0 300.7 L337.5 301.4 L337.1 303.4 L336.7 304.8 L336.3 305.7 L335.8 307.4 L335.3 308.4 L334.8 309.8 L334.3 311.7 L333.8 312.6 L333.3 313.9 L332.8 317.0 L332.3 318.1 L331.8 319.5 L331.3 320.7 L330.7 322.4 L330.2 323.4 L329.6 325.1 L329.0 326.7 L328.4 328.3 L327.9 329.3 L327.3 330.9 L326.6 331.7 L326.0 332.4 L325.3 333.3 L324.5 333.9 L323.7 335.6 L322.7 336.9 L321.8 337.9 L320.8 337.9 L319.8 338.7 L318.8 342.5 L317.9 343.5 L317.1 345.0 L316.4 346.9 L315.8 347.5 L315.2 349.2 L314.7 350.8 L314.1 353.2 L313.5 354.4 L312.7 355.1 L311.7 354.9 L310.5 355.4 L309.1 357.3 L307.8 357.5 L306.4 358.6 L305.2 357.2 L304.1 358.5 L303.3 359.8 L302.5 361.7 L301.8 363.6 L301.0 365.6 L300.2 366.2 L299.4 366.7 L298.5 369.8 L297.5 370.2 L296.6 372.1 L295.6 372.7 L294.7 373.9 L293.7 374.5 L292.8 376.0 L292.0 378.4 L291.1 379.6 L290.3 379.8 L289.5 381.4 L288.8 383.8 L288.1 383.1 L287.3 384.6 L286.6 385.3 L285.9 386.6 L285.1 388.8 L284.4 389.8 L283.6 391.1 L282.8 392.6 L282.0 393.9 L281.1 395.8 L280.2 397.7 L279.2 398.5 L278.1 398.6 L277.0 400.0 L275.9 401.4 L274.8 400.4 L273.6 400.7 L272.4 401.9 L271.2 404.6 L269.9 406.0 L268.7 407.2 L267.4 407.3 L266.1 408.2 L264.8 407.5 L263.5 408.4 L262.1 409.0 L260.7 410.4 L259.4 410.4 L258.0 410.7 L256.6 410.7 L255.3 411.9 L253.9 412.7 L252.6 412.7 L251.2 414.8 L249.9 415.8 L248.6 416.5 L247.4 417.7 L246.3 418.5 L245.1 419.5 L244.0 419.4 L242.9 420.6 L241.8 421.5 L240.7 421.7 L239.6 423.5 L238.5 424.0 L237.5 426.9 L236.3 427.6 L235.0 428.2 L233.6 429.4 L232.2 430.0 L230.8 428.1 L229.3 429.0 L227.8 428.8 L226.3 430.9 L224.8 431.4 L223.3 430.2 L221.8 429.1 L220.3 431.4 L218.9 429.3 L217.6 429.2 L216.3 427.1 L214.9 426.8 L213.5 427.1 L212.0 426.3 L210.5 425.5 L209.0 427.1 L207.5 427.1 L206.0 426.9 L204.6 426.8 L203.2 426.6 L201.8 427.5 L200.4 428.5 L198.9 428.7 L197.4 429.1 L195.9 428.7 L194.5 428.7 L193.0 427.4 L191.5 426.4 L190.1 426.7 L188.6 425.8 L187.2 425.2 L185.8 426.4 L184.4 425.3 L183.0 424.6 L181.7 422.9 L180.4 422.8 L179.2 420.9 L177.9 420.7 L176.7 419.2 L175.5 420.2 L174.4 418.7 L173.2 418.0 L172.1 417.3 L171.0 415.4 L169.9 414.8 L168.8 412.4 L167.7 410.3 L166.7 410.1 L165.6 410.5 L164.6 409.0 L163.5 408.7 L162.2 408.3 L161.0 406.6 L159.9 406.0 L159.1 405.1 L158.6 402.8 L158.3 402.1 L158.2 399.8 L158.0 399.6 L157.8 397.5 L157.7 395.6 L157.5 394.5 L157.4 393.1 L157.2 391.5 L156.9 389.8 L156.7 388.5 L156.5 387.4 L156.3 386.2 L156.1 384.1 L155.8 383.4 L155.5 381.9 L154.7 382.7 L154.3 384.4 L154.0 386.6 L153.7 387.7 L153.4 389.4 L153.0 390.7 L152.6 389.9 L152.1 391.5 L151.7 392.6 L151.2 393.9 L150.7 395.2 L150.2 397.3 L149.6 398.2 L149.1 398.3 L148.5 401.2 L148.0 401.7 L147.4 403.2 L146.7 405.3 L145.8 409.8 L144.4 408.7 L142.9 408.5 L141.6 405.6 L140.3 404.9 L139.1 404.2 L137.9 403.7 L136.9 403.0 L135.9 401.3 L134.9 399.7 L133.9 398.6 L132.9 397.1 L131.9 396.6 L131.0 395.2 L130.1 393.4 L129.1 392.8 L128.2 389.4 L127.3 389.7 L126.4 387.4 L125.5 385.8 L124.6 384.5 L123.7 383.4 L122.8 383.0 L121.9 384.3 L121.0 383.2 L120.1 382.6 L119.2 380.9 L118.3 379.4 L117.3 377.9 L116.4 377.5 L115.6 376.6 L114.7 373.3 L113.8 372.1 L113.0 370.4 L112.1 369.2 L111.3 368.6 L110.5 367.4 L109.7 365.0 L108.9 365.0 L108.1 363.0 L107.3 361.1 L106.6 360.5 L105.8 359.9 L105.1 357.5 L104.4 356.3 L103.6 355.5 L102.9 353.7 L102.2 352.8 L101.6 351.7 L100.9 350.2 L100.2 348.4 L99.6 346.8 L99.0 345.4 L98.3 344.8 L97.7 344.1 L97.1 342.6 L96.6 341.7 L96.0 339.7 L95.5 337.4 L94.9 336.8 L94.4 336.6 L93.9 334.4 L93.4 333.1 L92.9 331.4 L92.4 330.6 L91.9 329.2 L91.4 326.8 L90.9 324.7 L90.4 323.7 L90.0 322.1 L89.5 320.8 L89.0 319.6 L88.5 318.4 L88.0 317.1 L87.5 314.7 L87.0 313.6 L86.6 312.3 L86.1 310.6 L85.6 310.1 L85.1 308.3 L84.6 305.9 L84.1 305.1 L83.6 303.9 L83.1 302.0 L82.6 300.9 L82.1 298.8 L81.6 298.2 L81.1 297.5 L80.6 296.5 L80.1 295.2 L79.7 294.0 L79.2 292.1 L78.7 289.9 L78.2 289.1 L77.7 287.3 L77.3 285.4 L76.8 284.0 L76.4 282.3 L75.9 280.6 L75.5 279.4 L75.0 279.1 L74.6 277.1 L74.1 275.6 L73.7 275.4 L73.3 273.6 L72.9 270.9 L72.4 270.4 L72.0 269.1 L71.6 266.8 L71.2 266.1 L70.8 264.5 L70.5 263.3 L70.1 261.4 L69.7 259.7 L69.3 258.1 L69.0 257.8 L68.6 255.4 L68.3 253.7 L67.9 252.9 L67.6 251.7 L67.2 250.3 L66.9 248.2 L66.6 247.5 L66.2 245.1 L65.9 243.7 L65.6 242.1 L65.3 242.1 L65.0 239.2 L64.6 238.3 L64.3 236.9 L64.0 233.5 L63.7 233.1 L63.4 231.3 L63.1 230.0 L62.8 228.6 L62.4 227.5 L62.1 225.6 L61.8 223.6 L61.5 222.3 L61.2 221.1 L60.9 221.1 L60.6 219.5 L60.3 217.6 L60.0 217.2 L59.7 214.8 L59.3 213.6 L59.0 211.9 L58.7 210.2 L58.4 208.5 L58.0 207.6 L57.7 206.0 L57.4 204.9 L57.0 203.6 L56.7 202.0 L56.3 199.8 L56.0 199.0 L55.7 197.2 L55.3 196.2 L55.0 194.6 L54.7 193.0 L54.4 191.6 L54.1 188.2 L53.8 186.8 L53.5 185.1 L53.2 184.1 L52.9 183.0 L52.6 180.9 L52.3 180.1 L52.0 178.4 L51.8 176.4 L51.5 175.7 L51.3 173.5 L51.0 171.9 L50.8 170.2 L50.5 170.3 L50.3 169.0 L50.1 167.4 L49.8 166.4 L49.6 165.4 L49.4 163.4 L49.2 161.6 L49.1 159.9 L48.9 158.7 L48.7 157.4 L48.6 156.1 L48.4 154.5 L48.3 152.3 L48.1 150.9 L48.0 149.2 L47.8 147.7 L47.7 146.6 L47.6 145.4 L47.4 143.4 L47.3 142.1 L47.2 141.2 L47.0 140.3 L46.9 137.9 L46.8 137.2 L46.6 135.3 L46.5 133.7 L46.4 131.9 L46.2 131.0 L46.1 129.0 L45.9 127.8 L45.8 126.4 L45.7 124.6 L45.5 123.2 L45.4 121.6 L45.2 120.2 L45.1 119.0 L44.9 116.9 L44.7 116.0 L44.5 114.6 L44.4 112.2 L44.2 111.1 L44.0 109.2 L43.8 108.1 L43.6 105.4 L43.4 104.4 L43.3 103.8 L43.1 102.0 L42.9 100.7 L42.7 99.1 L42.5 96.7 L42.3 96.7 L42.1 94.2 L41.8 92.7 L41.6 90.9 L41.4 90.2 L41.2 88.1 L41.0 87.1 L40.7 85.6 L40.5 83.3Z" fill="#ff3300"/>
<path d="M40.5 78.3 L40.7 80.6 L41.0 82.1 L41.2 83.1 L41.4 85.2 L41.6 85.9 L41.8 87.7 L42.1 89.2 L42.3 91.7 L42.5 91.7 L42.7 94.1 L42.9 95.7 L43.1 97.0 L43.3 98.8 L43.4 99.4 L43.6 100.4 L43.8 103.1 L44.0 104.2 L44.2 106.1 L44.4 107.2 L44.5 109.6 L44.7 111.0 L44.9 111.9 L45.1 114.0 L45.2 115.2 L45.4 116.6 L45.5 118.2 L45.7 119.6 L45.8 121.4 L45.9 122.8 L46.1 124.0 L46.2 126.0 L46.4 126.9 L46.5 128.7 L46.6 130.3 L46.8 132.2 L46.9 132.9 L47.0 135.3 L47.2 136.2 L47.3 137.1 L47.4 138.4 L47.6 140.4 L47.7 141.6 L47.8 142.7 L48.0 144.2 L48.1 145.9 L48.3 147.3 L48.4 149.5 L48.6 151.1 L48.7 152.4 L48.9 153.7 L49.1 154.9 L49.2 156.6 L49.4 158.4 L49.6 160.4 L49.8 161.4 L50.1 162.4 L50.3 164.0 L50.5 165.3 L50.8 165.2 L51.0 166.9 L51.3 168.5 L51.5 170.7 L51.8 171.4 L52.0 173.4 L52.3 175.1 L52.6 175.9 L52.9 178.0 L53.2 179.1 L53.5 180.1 L53.8 181.8 L54.1 183.2 L54.4 186.6 L54.7 188.0 L55.0 189.6 L55.3 191.2 L55.7 192.2 L56.0 194.0 L56.3 194.8 L56.7 197.0 L57.0 198.6 L57.4 199.9 L57.7 201.0 L58.0 202.6 L58.4 203.5 L58.7 205.2 L59.0 206.9 L59.3 208.6 L59.7 209.8 L60.0 212.2 L60.3 212.6 L60.6 214.5 L60.9 216.1 L61.2 216.1 L61.5 217.3 L61.8 218.6 L62.1 220.6 L62.4 222.5 L62.8 223.6 L63.1 225.0 L63.4 226.3 L63.7 228.1 L64.0 228.5 L64.3 231.9 L64.6 233.3 L65.0 234.2 L65.3 237.1 L65.6 237.1 L65.9 238.7 L66.2 240.1 L66.6 242.5 L66.9 243.2 L67.2 245.3 L67.6 246.7 L67.9 247.9 L68.3 248.7 L68.6 250.4 L69.0 252.8 L69.3 253.1 L69.7 254.7 L70.1 256.4 L70.5 258.3 L70.8 259.5 L71.2 261.1 L71.6 261.8 L72.0 264.1 L72.4 265.4 L72.9 265.9 L73.3 268.6 L73.7 270.4 L74.1 270.6 L74.6 272.1 L75.0 274.1 L75.5 274.4 L75.9 275.6 L76.4 277.3 L76.8 279.0 L77.3 280.4 L77.7 282.3 L78.2 284.1 L78.7 284.9 L79.2 287.1 L79.7 289.0 L80.1 290.2 L80.6 291.5 L81.1 292.5 L81.6 293.2 L82.1 293.8 L82.6 295.9 L83.1 297.0 L83.6 298.9 L84.1 300.1 L84.6 300.9 L85.1 303.3 L85.6 305.1 L86.1 305.6 L86.6 307.3 L87.0 308.6 L87.5 309.7 L88.0 312.1 L88.5 313.4 L89.0 314.6 L89.5 315.8 L90.0 317.1 L90.4 318.7 L90.9 319.7 L91.4 321.8 L91.9 324.2 L92.4 325.6 L92.9 326.4 L93.4 328.1 L93.9 329.4 L94.4 331.6 L94.9 331.8 L95.5 332.4 L96.0 334.7 L96.6 336.7 L97.1 337.6 L97.7 339.1 L98.3 339.8 L99.0 340.4 L99.6 341.8 L100.2 343.4 L100.9 345.2 L101.6 346.7 L102.2 347.8 L102.9 348.7 L103.6 350.5 L104.4 351.3 L105.1 352.5 L105.8 354.9 L106.6 355.5 L107.3 356.1 L108.1 358.0 L108.9 360.0 L109.7 360.0 L110.5 362.4 L111.3 363.6 L112.1 364.2 L113.0 365.4 L113.8 367.1 L114.7 368.3 L115.6 371.6 L116.4 372.5 L117.3 372.9 L118.3 374.4 L119.2 375.9 L120.1 377.6 L121.0 378.2 L121.9 379.3 L122.8 378.0 L123.7 378.4 L124.6 379.5 L125.5 380.8 L126.4 382.4 L127.3 384.7 L128.2 384.4 L129.1 387.8 L130.1 388.4 L131.0 390.2 L131.9 391.6 L132.9 392.1 L133.9 393.6 L134.9 394.7 L135.9 396.3 L136.9 398.0 L137.9 398.7 L139.1 399.2 L140.3 399.9 L141.6 400.6 L142.9 403.5 L144.4 403.7 L145.8 404.8 L146.7 400.3 L147.4 398.2 L148.0 396.7 L148.5 396.2 L149.1 393.3 L149.6 393.2 L150.2 392.3 L150.7 390.2 L151.2 388.9 L151.7 387.6 L152.1 386.5 L152.6 384.9 L153.0 385.7 L153.4 384.4 L153.7 382.7 L154.0 381.6 L154.3 379.4 L154.7 377.7 L155.5 376.9 L155.8 378.4 L156.1 379.1 L156.3 381.2 L156.5 382.4 L156.7 383.5 L156.9 384.8 L157.2 386.5 L157.4 388.1 L157.5 389.5 L157.7 390.6 L157.8 392.5 L158.0 394.6 L158.2 394.8 L158.3 397.1 L158.6 397.8 L159.1 400.1 L159.9 401.0 L161.0 401.6 L162.2 403.3 L163.5 403.7 L164.6 404.0 L165.6 405.5 L166.7 405.1 L167.7 405.3 L168.8 407.4 L169.9 409.8 L171.0 410.4 L172.1 412.3 L173.2 413.0 L174.4 413.7 L175.5 415.2 L176.7 414.2 L177.9 415.7 L179.2 415.9 L180.4 417.8 L181.7 417.9 L183.0 419.6 L184.4 420.3 L185.8 421.4 L187.2 420.2 L188.6 420.8 L190.1 421.7 L191.5 421.4 L193.0 422.4 L194.5 423.7 L195.9 423.7 L197.4 424.1 L198.9 423.7 L200.4 423.5 L201.8 422.5 L203.2 421.6 L204.6 421.8 L206.0 421.9 L207.5 422.1 L209.0 422.1 L210.5 420.5 L212.0 421.3 L213.5 422.1 L214.9 421.8 L216.3 422.1 L217.6 424.2 L218.9 424.3 L220.3 426.4 L221.8 424.1 L223.3 425.2 L224.8 426.4 L226.3 425.9 L227.8 423.8 L229.3 424.0 L230.8 423.1 L232.2 425.0 L233.6 424.4 L235.0 423.2 L236.3 422.6 L237.5 421.9 L238.5 419.0 L239.6 418.5 L240.7 416.7 L241.8 416.5 L242.9 415.6 L244.0 414.4 L245.1 414.5 L246.3 413.5 L247.4 412.7 L248.6 411.5 L249.9 410.8 L251.2 409.8 L252.6 407.7 L253.9 407.7 L255.3 406.9 L256.6 405.7 L258.0 405.7 L259.4 405.4 L260.7 405.4 L262.1 404.0 L263.5 403.4 L264.8 402.5 L266.1 403.2 L267.4 402.3 L268.7 402.2 L269.9 401.0 L271.2 399.6 L272.4 396.9 L273.6 395.7 L274.8 395.4 L275.9 396.4 L277.0 395.0 L278.1 393.6 L279.2 393.5 L280.2 392.7 L281.1 390.8 L282.0 388.9 L282.8 387.6 L283.6 386.1 L284.4 384.8 L285.1 383.8 L285.9 381.6 L286.6 380.3 L287.3 379.6 L288.1 378.1 L288.8 378.8 L289.5 376.4 L290.3 374.8 L291.1 374.6 L292.0 373.4 L292.8 371.0 L293.7 369.5 L294.7 368.9 L295.6 367.7 L296.6 367.1 L297.5 365.2 L298.5 364.8 L299.4 361.7 L300.2 361.2 L301.0 360.6 L301.8 358.6 L302.5 356.7 L303.3 354.8 L304.1 353.5 L305.2 352.2 L306.4 353.6 L307.8 352.5 L309.1 352.3 L310.5 350.4 L311.7 349.9 L312.7 350.1 L313.5 349.4 L314.1 348.2 L314.7 345.8 L315.2 344.2 L315.8 342.5 L316.4 341.9 L317.1 340.0 L317.9 338.5 L318.8 337.5 L319.8 333.7 L320.8 332.9 L321.8 332.9 L322.7 331.9 L323.7 330.6 L324.5 328.9 L325.3 328.3 L326.0 327.4 L326.6 326.7 L327.3 325.9 L327.9 324.3 L328.4 323.3 L329.0 321.7 L329.6 320.1 L330.2 318.4 L330.7 317.4 L331.3 315.7 L331.8 314.5 L332.3 313.1 L332.8 312.0 L333.3 308.9 L333.8 307.6 L334.3 306.7 L334.8 304.8 L335.3 303.4 L335.8 302.4 L336.3 300.7 L336.7 299.8 L337.1 298.4 L337.5 296.4 L338.0 295.7 L338.9 295.9 L339.3 297.1 L339.6 297.7 L339.8 300.3 L340.0 301.3 L340.2 303.1 L340.4 304.7 L340.6 305.7 L340.9 308.2 L341.1 309.1 L341.4 310.9 L341.7 312.3 L341.9 314.1 L342.2 315.5 L342.4 315.9 L342.7 318.0 L343.1 318.6 L344.2 320.0 L345.6 319.9 L346.9 319.6 L348.2 319.0 L349.6 317.9 L351.1 317.8 L352.5 318.3 L353.8 319.3 L354.9 320.3 L356.0 320.6 L357.1 323.1 L358.1 322.7 L359.2 323.6 L360.2 326.3 L361.2 327.5 L362.3 328.4 L363.3 329.0 L364.4 328.0 L365.4 328.6 L366.3 330.3 L367.3 333.3 L368.2 333.4 L369.1 334.7 L370.0 335.9 L371.0 337.7 L371.9 338.8 L372.9 340.1 L373.8 339.5 L374.8 341.1 L375.8 342.6 L376.9 342.6 L377.9 345.7 L379.0 347.0 L380.0 347.9 L381.1 348.0 L382.2 349.9 L383.2 350.7 L384.3 353.0 L385.4 353.4 L386.5 355.6 L387.5 355.0 L388.6 355.7 L389.7 356.9 L390.7 358.6 L391.8 360.7 L392.9 360.9 L394.0 361.9 L395.0 362.6 L396.1 364.8 L397.1 365.2 L398.2 365.5 L399.2 367.3 L400.2 367.8 L401.2 368.4 L402.2 369.7 L403.1 369.7 L404.1 371.5 L405.0 371.6 L406.0 373.3 L406.9 374.9 L407.8 378.1 L408.8 380.5 L409.7 380.8 L410.7 381.6 L411.7 381.5 L412.7 383.0 L413.7 383.2 L414.8 384.3 L415.8 384.9 L416.8 387.0 L417.9 387.6 L418.9 389.2 L420.0 390.9 L421.1 391.0 L422.2 392.1 L423.3 394.0 L424.4 394.2 L425.5 396.7 L426.7 397.2 L427.8 397.9 L428.9 398.3 L430.1 399.4 L431.3 400.1 L432.4 400.9 L433.6 401.8 L434.8 402.4 L436.1 403.2 L437.3 404.2 L438.6 406.1 L439.9 405.9 L441.2 407.7 L442.6 406.7 L443.9 406.8 L445.2 409.6 L446.6 410.5 L448.0 411.1 L449.3 412.6 L450.7 413.3 L452.0 411.2 L453.4 411.4 L454.7 411.3 L456.1 411.6 L457.5 412.6 L458.9 415.7 L460.3 416.7 L461.7 417.2 L463.1 419.1 L464.5 420.3 L466.0 416.4 L467.4 417.5 L468.9 417.0 L470.4 417.1 L471.9 417.9 L473.3 419.4 L474.8 420.2 L476.3 418.4 L477.8 419.2 L479.2 419.6 L480.6 420.3 L482.1 420.7 L483.5 421.1 L484.9 422.3 L486.3 422.8 L487.8 423.3 L489.2 424.3 L490.7 423.8 L492.2 423.8 L493.7 424.5 L495.2 425.4 L496.7 423.7 L498.2 424.0 L499.7 423.4 L501.2 424.4 L502.7 424.3 L504.1 425.4 L505.6 425.7 L507.1 425.0 L508.5 425.1 L510.0 426.3 L511.4 427.8 L512.9 427.6 L514.4 426.5 L515.9 426.1 L517.4 426.1 L518.9 426.0 L520.4 428.1 L521.9 427.1 L523.4 426.5 L524.9 426.2 L526.4 426.3 L527.9 426.1 L529.4 426.1 L530.8 426.0 L532.3 426.1 L533.8 423.7 L535.3 424.2 L536.8 425.2 L538.3 424.3 L539.7 425.1 L541.1 426.8 L542.3 426.9 L543.6 428.5 L544.7 428.4 L545.9 429.2 L547.0 430.4 L548.1 430.0 L549.2 431.6 L550.4 432.4 L551.6 435.4 L552.9 435.6 L554.2 436.6 L555.5 436.3 L556.8 437.1 L558.1 437.6 L559.4 438.1 L560.7 438.7 L561.9 439.9 L563.2 441.0 L564.5 442.1 L565.8 443.1 L567.0 443.3 L568.3 445.8 L569.5 447.8 L570.8 447.7 L572.0 446.3 L573.3 447.3 L574.5 449.6 L575.7 449.4 L576.9 450.6 L578.1 449.5 L579.3 450.4 L580.5 450.5 L581.7 454.3 L582.9 454.1 L584.0 456.3 L585.2 458.2 L586.3 459.1 L587.5 459.4 L588.6 460.2 L589.8 460.5 L590.9 461.3 L592.0 462.1 L593.1 463.2 L594.2 464.6 L595.2 466.7 L596.3 466.6 L597.3 468.3 L598.4 470.4 L599.4 471.2 L600.4 472.4 L601.5 472.7 L602.4 474.8 L603.4 474.9 L604.3 476.8 L605.2 479.7 L606.2 481.1 L607.1 481.7 L608.0 483.0 L609.0 482.0 L609.9 483.2 L610.9 485.0 L612.0 484.9 L613.1 485.8 L614.2 486.3 L615.3 488.3 L616.5 489.5 L617.7 489.8 L618.9 490.9 L620.1 492.6 L621.3 493.0 L622.5 493.8 L623.8 494.3 L625.1 495.3 L626.3 496.1 L627.6 497.5 L628.9 497.7 L630.2 499.4 L631.5 499.0 L632.9 498.3 L634.2 499.5 L635.4 499.9 L636.7 502.7 L638.0 503.8 L639.2 503.6 L640.6 503.4 L642.0 504.4 L643.5 504.2 L645.0 503.9 L646.4 505.5 L647.7 504.2 L648.9 503.4 L650.0 503.2 L650.8 502.2 L651.3 500.4 L651.8 499.7 L652.5 497.3 L653.5 497.1 L653.9 497.6 L654.2 499.4 L654.4 501.1 L654.6 503.3 L654.8 504.3 L655.0 505.2 L655.2 507.4 L655.5 508.3 L655.7 509.5 L655.9 511.2 L656.3 512.5 L656.8 514.3 L657.4 515.1 L658.1 516.8 L658.7 518.2 L659.5 518.4 L660.3 519.5 L661.2 520.5 L662.1 522.3 L663.2 526.2 L664.2 527.4 L665.4 528.0 L666.6 527.6 L667.8 528.0 L669.1 529.2 L670.5 528.3 L671.8 528.7 L673.2 530.0 L674.5 530.6 L675.7 531.8 L676.9 532.9 L678.1 533.2 L679.2 535.1 L680.3 534.3 L681.4 535.0 L682.6 536.7 L683.7 539.0 L685.0 539.9 L686.2 540.4 L687.6 540.7 L689.0 541.3 L690.4 544.0 L691.8 543.5 L693.2 544.3 L694.6 544.7 L696.0 544.5 L697.4 542.0 L698.7 544.2 L700.0 543.3 L701.4 547.3 L702.7 547.4 L704.0 546.6 L705.3 546.8 L706.7 547.9 L708.1 551.5 L709.5 551.1 L711.0 551.6 L712.4 551.9 L713.8 553.3 L715.3 552.7 L716.7 553.8 L718.2 552.6 L719.7 552.4 L721.1 554.8 L722.6 556.3 L724.1 555.6 L725.6 556.3 L727.0 557.1 L728.5 554.7 L730.0 554.2 L731.5 556.1 L732.9 556.2 L734.4 556.1 L735.9 557.0 L737.4 555.5 L738.8 557.6 L740.3 556.5 L741.7 557.1 L743.0 557.2 L744.4 561.9 L745.8 561.8 L747.1 562.1 L748.5 560.2 L750.0 560.6 L751.4 561.8 L752.9 562.0 L754.4 562.6 L755.8 563.9 L757.3 563.9 L758.8 562.3 L760.3 562.4 L761.7 563.4 L763.2 564.4 L764.7 563.8 L766.2 564.0 L767.7 564.6 L769.1 564.7 L770.6 565.1 L772.0 565.3 L773.4 565.4 L774.8 565.9 L776.2 567.5 L777.6 567.7 L779.0 568.5 L780.4 569.2 L781.8 570.0 L783.2 570.3 L784.6 570.2 L786.0 571.4 L787.5 572.2 L788.9 572.8 L790.4 572.0 L791.8 573.0 L793.3 574.0 L794.7 574.8 L796.2 574.0 L797.7 574.7 L799.1 574.8 L800.6 574.6 L802.1 574.4 L803.6 575.0 L805.1 575.2 L806.6 576.3 L808.1 576.2 L809.6 574.6 L811.0 575.3 L812.5 576.3 L814.0 576.2 L815.5 577.2 L817.1 575.6 L818.6 575.0 L820.1 576.4 L821.6 575.3 L823.1 576.3 L824.6 577.0 L826.1 576.9 L827.6 576.9 L829.0 577.1 L830.5 576.7 L832.0 576.8 L833.5 575.5 L835.0 575.0 L836.5 577.6 L838.0 578.5 L839.5 578.2 L841.0 578.7 L842.5 579.1 L844.0 577.1 L845.5 577.3 L846.9 579.7 L848.3 578.5 L849.6 578.2 L850.9 576.1 L852.3 575.2 L853.8 574.2 L855.3 574.1 L856.7 575.6 L858.1 576.9 L859.4 577.6 L860.7 577.8 L862.0 579.0 L863.3 579.1 L864.7 580.7 L866.1 580.7 L867.6 579.3 L869.1 579.6 L870.6 582.8 L872.1 584.0 L873.5 580.4 L875.0 581.2 L876.5 581.7 L878.0 580.6 L879.5 580.2 L881.0 582.9 L882.5 581.7 L884.0 580.6 L885.5 581.2 L887.0 579.9 L888.3 579.5 L889.7 580.2 L891.2 579.3 L892.6 579.5 L894.0 580.0 L895.2 581.1 L896.4 581.5 L897.6 583.8 L898.7 584.4 L900.0 585.2 L901.3 584.0 L902.7 585.5 L904.2 587.4 L905.6 587.7 L907.1 587.8 L908.6 586.7 L910.1 586.8 L911.6 587.0 L913.1 587.2 L914.5 588.1 L916.0 588.0 L917.5 589.0 L919.0 588.3 L920.5 588.9 L922.0 588.2 L923.5 589.1 L925.0 589.0 L926.4 589.2 L927.9 589.4 L929.3 590.3 L930.8 592.0 L932.3 589.4 L933.8 589.3 L935.3 589.9 L936.8 589.4 L938.2 590.3 L939.6 589.8 L941.1 589.2 L942.6 586.7 L944.1 587.6 L945.6 589.0 L947.1 589.2 L948.5 589.0 L950.0 589.4 L951.5 589.8 L953.0 590.3 L954.5 591.3 L956.0 588.4 L957.5 588.9 L959.0 589.5 L960.5 589.0 L962.0 590.6 L963.5 591.6 L965.0 591.7 L966.5 588.7 L968.0 589.4 L969.5 593.2 L971.0 593.0 L972.5 590.4 L974.0 590.2 L975.5 590.6 L977.0 589.6 L978.5 590.6 L980.0 591.5 L981.5 592.0 L983.0 590.2 L984.5 590.7 L986.0 589.3 L987.5 589.7 L989.0 588.9 L990.5 592.4 L991.9 592.2 L993.4 592.2 L994.9 593.1 L996.4 591.6 L997.9 592.1 L999.4 592.7 L1000.9 592.1 L1002.4 591.5 L1003.9 592.3 L1005.4 592.7 L1006.9 591.3 L1008.4 590.8 L1009.9 592.0 L1011.4 592.4 L1012.9 592.6 L1014.4 590.4 L1015.9 591.5 L1017.4 590.2 L1018.9 590.6 L1020.4 590.0 L1021.9 589.7 L1023.4 590.3 L1024.9 590.1 L1026.4 589.9 L1027.9 590.6 L1029.4 590.0 L1030.9 591.7 L1032.4 591.9 L1033.9 591.0 L1035.3 591.8 L1036.8 593.0 L1038.3 593.1 L1039.8 592.1 L1041.3 592.6 L1042.8 591.5 L1044.3 590.9 L1045.7 590.8 L1047.2 589.6 L1048.6 589.6 L1050.1 588.8 L1051.6 589.7 L1053.1 589.9 L1054.5 591.5 L1056.0 590.2 L1057.5 588.4 L1058.9 588.0 L1060.4 588.6 L1061.8 586.2 L1063.3 586.9 L1064.7 585.7 L1066.0 585.4 L1067.4 584.7 L1068.8 585.4 L1070.2 583.3 L1071.6 582.1 L1073.0 582.9 L1074.4 582.2 L1075.8 581.9 L1077.2 581.5 L1078.6 580.7 L1080.1 580.2 L1081.6 581.7 L1083.1 581.7 L1084.6 580.6 L1086.1 580.1 L1087.6 580.0 L1089.1 580.2 L1090.6 580.8 L1092.1 581.1 L1093.6 581.4 L1095.1 580.1 L1096.5 580.2 L1098.0 580.8 L1099.4 580.7 L1100.9 579.5 L1102.4 577.4 L1103.8 577.4 L1105.3 576.7 L1106.8 577.3 L1108.3 576.8 L1109.8 577.2 L1111.3 576.0 L1112.8 576.7 L1114.3 576.8 L1115.8 575.5 L1117.3 574.7 L1118.8 576.5 L1120.3 576.7 L1121.8 575.0 L1123.2 574.4 L1124.7 574.4 L1126.3 576.9 L1127.8 577.6 L1129.3 576.6 L1130.8 575.8 L1132.3 574.8 L1133.8 575.6 L1135.3 575.8 L1136.8 574.2 L1138.3 575.3 L1139.8 576.6 L1141.3 576.1 L1142.8 576.1 L1144.3 576.1 L1145.8 575.6 L1147.3 574.8 L1148.8 575.0 L1150.3 575.7 L1151.7 575.5 L1153.2 576.7 L1154.7 576.0 L1156.2 576.9 L1157.7 577.0 L1159.2 578.1 L1160.7 578.2 L1162.2 578.8 L1163.7 578.0 L1165.2 578.1 L1166.7 577.2 L1168.2 577.6 L1169.7 578.0 L1171.2 578.7 L1172.6 578.8 L1174.1 577.2 L1175.6 577.4 L1177.0 580.6 L1178.5 580.4 L1180.0 580.0 L1181.5 580.4 L1182.9 581.1 L1184.4 581.8 L1185.9 582.0 L1187.3 582.8 L1188.8 583.0 L1190.3 579.7 L1191.8 580.0 L1193.2 583.6 L1194.7 583.0 L1196.2 582.8 L1197.6 582.4 L1199.1 582.7 L1200.6 585.0 L1202.1 584.8 L1203.5 583.9 L1205.0 584.1 L1206.5 584.7 L1208.0 586.1 L1209.4 586.6 L1210.9 586.9 L1212.4 586.1 L1213.9 587.0 L1215.4 587.4 L1216.9 588.4 L1218.4 587.5 L1219.8 588.0 L1221.3 586.9 L1222.8 587.4 L1224.3 587.9 L1225.8 587.7 L1227.2 589.8 L1228.7 590.2 L1230.2 590.0 L1231.7 590.0 L1233.1 590.5 L1234.6 588.7 L1236.1 589.0 L1237.5 591.5 L1239.0 591.7 L1240.5 592.3 L1241.9 592.1 L1243.4 592.5 L1244.8 593.1 L1246.3 593.2 L1247.7 592.8 L1249.2 593.7 L1250.6 593.5 L1252.1 595.1 L1253.5 596.3 L1255.0 594.6 L1256.5 594.1 L1258.0 596.2 L1259.5 595.9 L1261.0 596.9 L1262.5 595.2 L1264.0 595.6 L1265.5 597.3 L1267.0 596.6 L1268.5 597.9 L1270.0 597.2 L1271.5 596.2 L1272.9 596.2 L1274.4 596.5 L1275.9 597.4 L1277.4 597.5 L1278.9 597.4 L1280.4 598.4 L1281.9 599.6 L1283.3 600.1 L1284.8 600.4 L1286.3 599.1 L1287.8 600.4 L1289.2 599.0 L1290.7 598.6 L1292.2 601.0 L1293.7 601.5 L1295.1 601.3 L1296.6 601.2 L1298.1 602.0 L1299.5 604.8 L1301.0 604.0 L1302.5 600.3 L1304.0 600.9 L1305.4 601.9 L1306.9 602.4 L1308.4 602.8 L1309.9 603.7 L1311.4 605.1 L1312.9 603.3 L1314.3 602.9 L1315.8 603.1 L1317.3 603.9 L1318.8 603.2 L1320.3 604.9 L1321.8 605.0 L1323.3 606.0 L1324.8 606.4 L1326.3 604.8 L1327.8 605.2 L1329.3 606.5 L1330.8 606.5 L1332.3 606.1 L1333.8 606.1 L1335.3 606.9 L1336.7 607.5 L1338.2 608.0 L1339.7 606.8 L1341.2 607.1 L1342.7 607.0 L1344.2 608.0 L1345.6 609.8 L1347.1 607.7 L1348.6 607.3 L1350.1 608.4 L1351.6 608.9 L1353.1 608.8 L1354.5 609.5 L1356.0 609.2 L1357.5 610.7 L1359.0 611.1 L1360.5 610.6 L1361.9 610.1 L1363.4 610.1 L1364.9 610.3 L1366.4 610.6 L1367.9 611.4 L1369.4 612.1 L1370.9 612.2 L1372.4 611.5 L1373.9 610.7 L1375.4 611.8 L1376.9 611.2" fill="none" stroke="#ff3300" stroke-width="4.4" stroke-linejoin="round"/>
<path d="M40.5 79.6 L40.6 81.1 L40.8 80.5 L40.9 81.3 L41.1 82.6 L41.2 83.8 L41.3 83.7 L41.5 86.0 L41.6 86.7 L41.7 87.4 L41.8 87.6 L42.0 89.5 L42.1 90.4 L42.2 89.6 L42.3 93.3 L42.5 92.1 L42.6 93.6 L42.7 93.6 L42.8 95.5 L42.9 97.3 L43.1 95.9 L43.2 95.6 L43.3 98.0 L43.4 97.7 L43.5 99.3 L43.6 101.1 L43.7 102.1 L43.9 105.2 L44.0 102.7 L44.1 105.9 L44.2 105.3 L44.3 109.6 L44.4 112.5 L44.5 109.5 L44.6 113.1 L44.7 109.6 L44.8 108.2 L44.9 109.8 L45.0 109.9 L45.1 112.1 L45.2 114.6 L45.3 118.7 L45.4 118.6 L45.5 119.0 L45.6 117.7 L45.7 117.8 L45.7 120.6 L45.8 121.8 L45.9 123.0 L46.0 124.2 L46.1 123.8 L46.2 119.7 L46.3 122.8 L46.3 124.5 L46.4 132.6 L46.5 127.4 L46.6 131.5 L46.7 134.8 L46.7 132.3 L46.8 131.0 L46.9 132.2 L47.0 130.8 L47.1 135.9 L47.1 139.4 L47.2 138.6 L47.3 139.7 L47.4 140.4 L47.5 145.8 L47.5 137.6 L47.6 141.3 L47.7 144.1 L47.8 147.0 L47.9 134.8 L48.0 142.4 L48.0 144.4 L48.1 142.3 L48.2 150.2 L48.3 148.7 L48.4 147.3 L48.5 143.3 L48.6 145.4 L48.7 147.6 L48.8 154.2 L48.9 148.5 L49.0 146.0 L49.1 149.4 L49.2 153.6 L49.3 163.4 L49.4 167.2 L49.5 156.7 L49.6 163.3 L49.8 166.0 L49.9 166.4 L50.0 161.8 L50.2 158.0 L50.3 162.1 L50.4 157.5 L50.6 166.7 L50.7 168.3 L50.9 158.6 L51.0 166.8 L51.2 169.0 L51.3 173.7 L51.5 175.1 L51.6 173.7 L51.8 168.7 L51.9 170.8 L52.1 178.0 L52.2 171.7 L52.4 174.8 L52.6 182.1 L52.7 177.2 L52.9 172.1 L53.1 177.3 L53.3 181.9 L53.5 179.5 L53.6 185.8 L53.8 187.2 L54.0 180.3 L54.2 183.8 L54.4 186.2 L54.6 182.7 L54.8 189.9 L54.9 188.6 L55.1 193.3 L55.3 188.6 L55.5 188.4 L55.7 200.2 L55.9 190.1 L56.1 192.2 L56.3 192.5 L56.5 195.1 L56.7 193.5 L57.0 197.9 L57.2 196.1 L57.4 198.1 L57.6 201.8 L57.8 204.0 L58.0 204.0 L58.2 199.9 L58.4 205.4 L58.6 204.2 L58.8 205.1 L59.0 199.4 L59.1 210.1 L59.3 207.6 L59.5 216.1 L59.7 212.6 L59.9 206.3 L60.1 206.1 L60.3 217.3 L60.5 209.9 L60.6 217.2 L60.8 214.0 L61.0 223.9 L61.2 216.5 L61.4 223.2 L61.6 223.4 L61.8 216.9 L61.9 218.3 L62.1 226.7 L62.3 221.5 L62.5 218.8 L62.7 228.2 L62.9 234.0 L63.1 224.9 L63.3 231.7 L63.4 226.1 L63.6 233.3 L63.8 227.6 L64.0 235.0 L64.2 232.6 L64.4 231.5 L64.6 234.1 L64.8 231.8 L65.0 230.3 L65.1 231.4 L65.3 236.5 L65.5 233.2 L65.7 240.3 L65.9 241.6 L66.1 242.3 L66.3 239.1 L66.5 242.3 L66.7 242.8 L66.9 249.4 L67.1 241.3 L67.3 244.0 L67.5 245.5 L67.7 246.6 L67.9 244.9 L68.1 246.3 L68.3 254.1 L68.5 248.0 L68.8 255.4 L69.0 261.0 L69.2 258.7 L69.4 246.5 L69.6 258.3 L69.8 258.0 L70.1 259.1 L70.3 250.8 L70.5 261.8 L70.8 254.8 L71.0 265.8 L71.2 265.6 L71.5 271.9 L71.7 261.2 L72.0 257.2 L72.2 269.0 L72.4 269.1 L72.7 264.6 L72.9 273.0 L73.2 270.9 L73.5 263.3 L73.7 268.2 L74.0 268.7 L74.2 271.0 L74.5 273.1 L74.8 269.9 L75.0 272.9 L75.3 277.2 L75.5 275.2 L75.8 275.2 L76.1 275.9 L76.4 277.6 L76.6 270.6 L76.9 280.5 L77.2 276.2 L77.5 282.0 L77.7 276.0 L78.0 287.7 L78.3 285.6 L78.6 279.5 L78.9 287.3 L79.2 283.8 L79.5 295.8 L79.7 291.0 L80.0 286.2 L80.3 291.5 L80.6 291.2 L80.9 297.5 L81.2 294.7 L81.5 295.0 L81.8 288.7 L82.1 298.0 L82.4 304.6 L82.7 299.0 L83.0 296.9 L83.3 298.6 L83.6 294.5 L83.9 300.4 L84.2 295.6 L84.5 301.5 L84.8 301.0 L85.1 299.8 L85.4 307.0 L85.7 298.6 L86.0 305.9 L86.3 301.0 L86.6 316.0 L86.8 317.5 L87.1 313.3 L87.4 318.9 L87.7 313.9 L88.0 314.5 L88.3 310.7 L88.6 309.4 L88.9 314.9 L89.2 312.8 L89.5 314.0 L89.8 320.2 L90.1 317.1 L90.3 311.5 L90.6 318.4 L90.9 316.8 L91.2 319.8 L91.5 318.0 L91.8 329.3 L92.1 333.3 L92.4 320.4 L92.7 329.3 L93.0 329.9 L93.3 323.1 L93.6 329.4 L93.9 336.2 L94.2 334.5 L94.5 338.9 L94.8 326.9 L95.1 329.2 L95.5 334.8 L95.8 335.9 L96.1 335.2 L96.5 334.2 L96.8 334.9 L97.1 334.8 L97.5 340.5 L97.8 327.9 L98.2 347.5 L98.6 338.1 L99.0 334.8 L99.3 344.8 L99.7 336.5 L100.1 345.7 L100.5 342.8 L100.9 348.2 L101.3 350.0 L101.7 352.7 L102.1 345.1 L102.5 346.8 L102.9 349.0 L103.4 343.1 L103.8 353.4 L104.2 352.0 L104.7 345.8 L105.1 358.7 L105.5 360.7 L106.0 348.7 L106.4 358.5 L106.9 362.5 L107.3 361.3 L107.8 353.4 L108.3 352.2 L108.7 359.3 L109.2 358.2 L109.7 361.4 L110.2 361.7 L110.6 365.5 L111.1 361.0 L111.6 363.6 L112.1 376.4 L112.6 365.0 L113.1 370.0 L113.6 368.5 L114.2 368.9 L114.7 364.2 L115.2 371.9 L115.7 371.2 L116.3 376.2 L116.8 383.0 L117.3 374.5 L117.9 378.1 L118.4 370.0 L119.0 376.1 L119.5 383.9 L120.1 376.6 L120.6 374.5 L121.2 379.4 L121.7 378.2 L122.3 375.4 L122.8 375.5 L123.4 388.0 L123.9 374.4 L124.4 377.4 L125.0 377.4 L125.5 387.8 L126.1 380.8 L126.6 389.6 L127.1 384.5 L127.7 384.3 L128.2 377.7 L128.8 392.0 L129.3 390.9 L129.9 390.9 L130.4 388.9 L131.0 388.1 L131.6 384.4 L132.1 396.5 L132.7 393.5 L133.3 390.9 L133.9 390.2 L134.5 394.7 L135.1 394.3 L135.7 404.0 L136.3 400.7 L136.9 394.3 L137.5 392.3 L138.1 397.4 L138.8 394.5 L139.6 400.2 L140.3 402.4 L141.1 404.1 L141.9 403.4 L142.7 402.3 L143.5 406.9 L144.4 399.2 L145.2 403.6 L146.0 405.0 L146.6 401.5 L147.0 392.4 L147.4 392.2 L147.8 388.9 L148.1 406.4 L148.4 387.6 L148.7 394.3 L149.1 404.1 L149.4 399.9 L149.7 400.3 L150.1 389.7 L150.4 395.6 L150.7 403.5 L151.0 389.7 L151.3 391.2 L151.6 386.5 L151.9 387.2 L152.1 388.5 L152.4 393.1 L152.6 379.9 L152.9 378.3 L153.2 385.3 L153.4 385.4 L153.6 391.1 L153.8 386.4 L153.9 378.3 L154.1 383.8 L154.3 385.9 L154.5 380.6 L154.8 376.3 L155.3 381.2 L155.6 376.5 L155.8 369.2 L156.0 387.4 L156.2 372.8 L156.3 378.9 L156.4 379.9 L156.5 380.7 L156.7 381.8 L156.8 376.5 L156.9 388.0 L157.0 386.2 L157.2 387.1 L157.3 393.6 L157.4 394.6 L157.5 396.8 L157.6 400.5 L157.7 393.8 L157.8 384.0 L157.9 394.3 L158.0 394.1 L158.1 395.3 L158.2 392.6 L158.3 391.9 L158.4 401.9 L158.5 403.8 L158.7 393.4 L159.1 403.1 L159.5 400.1 L160.1 399.6 L160.7 406.0 L161.4 402.6 L162.2 400.4 L163.0 403.1 L163.7 392.5 L164.4 400.7 L165.0 402.2 L165.6 397.6 L166.3 406.8 L166.9 406.9 L167.5 402.8 L168.2 405.8 L168.8 411.0 L169.4 413.7 L170.1 406.1 L170.8 412.7 L171.4 417.0 L172.1 411.9 L172.8 408.4 L173.4 409.0 L174.1 412.0 L174.8 408.7 L175.5 425.7 L176.2 412.3 L176.9 416.8 L177.7 416.3 L178.4 419.2 L179.2 414.2 L179.9 410.2 L180.7 426.6 L181.5 417.7 L182.3 419.2 L183.0 420.1 L183.9 426.8 L184.7 424.5 L185.5 427.0 L186.4 425.4 L187.2 421.3 L188.1 422.2 L188.9 417.1 L189.8 410.9 L190.6 421.0 L191.5 416.7 L192.4 435.7 L193.3 431.3 L194.2 429.6 L195.1 420.4 L195.9 434.7 L196.8 414.5 L197.7 417.2 L198.6 419.6 L199.5 418.7 L200.4 424.0 L201.3 424.0 L202.1 433.0 L202.9 427.6 L203.7 429.5 L204.6 424.8 L205.4 421.4 L206.3 418.3 L207.2 414.2 L208.1 417.6 L209.0 420.3 L209.9 426.6 L210.8 412.9 L211.7 414.7 L212.6 423.4 L213.5 416.6 L214.4 423.3 L215.2 419.6 L216.0 418.1 L216.8 415.5 L217.6 424.0 L218.3 421.0 L219.2 422.0 L220.0 422.2 L220.9 425.6 L221.8 425.4 L222.7 415.3 L223.6 423.7 L224.5 427.9 L225.4 431.4 L226.3 430.0 L227.2 426.9 L228.1 417.9 L229.0 419.8 L229.9 428.7 L230.8 419.8 L231.6 430.6 L232.5 431.7 L233.3 418.7 L234.2 426.5 L235.0 422.3 L235.8 433.5 L236.5 426.5 L237.2 418.7 L237.9 421.9 L238.5 414.2 L239.2 417.7 L239.8 418.9 L240.5 418.0 L241.1 419.1 L241.8 411.9 L242.5 406.2 L243.1 413.7 L243.8 410.2 L244.5 410.6 L245.1 425.7 L245.8 419.8 L246.5 412.0 L247.2 404.6 L247.9 404.8 L248.6 413.4 L249.4 416.8 L250.2 409.0 L251.0 410.9 L251.8 410.0 L252.6 413.9 L253.4 397.7 L254.2 408.3 L255.0 409.1 L255.8 411.6 L256.6 408.3 L257.4 399.8 L258.3 403.4 L259.1 398.0 L259.9 406.9 L260.7 406.5 L261.6 407.2 L262.4 398.9 L263.2 397.6 L264.0 411.5 L264.8 403.9 L265.6 412.5 L266.4 405.0 L267.2 394.4 L267.9 406.1 L268.7 408.4 L269.4 398.9 L270.2 390.5 L270.9 403.8 L271.7 399.0 L272.4 398.5 L273.1 383.7 L273.8 398.4 L274.5 382.6 L275.2 391.9 L275.9 400.6 L276.6 385.6 L277.2 384.8 L277.9 391.7 L278.5 403.1 L279.2 402.3 L279.8 389.8 L280.4 397.7 L280.9 394.7 L281.5 392.3 L282.0 390.7 L282.5 384.2 L283.0 391.5 L283.4 392.2 L283.9 398.5 L284.4 389.8 L284.8 371.5 L285.3 377.0 L285.7 383.9 L286.2 381.7 L286.6 370.8 L287.0 379.1 L287.5 377.1 L287.9 378.0 L288.3 376.8 L288.8 382.9 L289.2 385.0 L289.7 380.1 L290.2 369.9 L290.6 370.4 L291.1 370.7 L291.6 373.2 L292.1 370.0 L292.7 369.7 L293.2 366.0 L293.7 375.1 L294.3 373.9 L294.9 373.7 L295.4 367.6 L296.0 370.3 L296.6 362.4 L297.2 361.2 L297.7 362.9 L298.3 368.2 L298.8 363.6 L299.4 356.5 L299.9 362.3 L300.4 363.3 L300.9 361.2 L301.3 356.0 L301.8 359.1 L302.2 355.7 L302.6 354.4 L303.1 354.9 L303.6 358.6 L304.1 363.4 L304.7 361.4 L305.4 355.9 L306.2 351.3 L307.0 351.3 L307.8 351.2 L308.6 358.2 L309.4 339.0 L310.2 352.4 L311.0 340.2 L311.7 350.0 L312.3 356.4 L312.9 345.1 L313.4 337.2 L313.8 355.0 L314.1 355.3 L314.5 349.2 L314.8 352.3 L315.1 340.8 L315.5 350.2 L315.8 352.1 L316.1 345.2 L316.5 342.5 L316.9 347.0 L317.4 345.4 L317.9 334.9 L318.4 345.1 L319.0 341.2 L319.6 335.8 L320.2 341.1 L320.8 338.4 L321.4 336.8 L322.0 329.7 L322.5 335.9 L323.1 325.6 L323.7 329.9 L324.2 321.1 L324.7 320.3 L325.1 330.6 L325.6 327.1 L326.0 327.2 L326.4 330.9 L326.8 328.8 L327.1 321.6 L327.5 325.7 L327.9 324.2 L328.2 321.0 L328.6 322.2 L328.9 320.1 L329.2 317.8 L329.6 318.5 L329.9 320.6 L330.3 329.2 L330.6 313.5 L330.9 319.5 L331.3 308.5 L331.6 323.3 L331.9 312.6 L332.2 314.2 L332.5 319.2 L332.8 316.9 L333.1 302.0 L333.4 311.7 L333.7 306.9 L334.0 310.4 L334.3 307.1 L334.6 309.3 L334.9 306.1 L335.2 303.1 L335.5 309.0 L335.8 294.1 L336.1 299.0 L336.3 296.0 L336.6 299.3 L336.8 297.0 L337.1 297.6 L337.3 294.9 L337.6 294.2 L337.9 287.3 L338.4 294.8 L338.9 297.0 L339.2 293.2 L339.4 293.8 L339.5 294.8 L339.7 307.6 L339.8 301.2 L339.9 303.1 L340.0 300.5 L340.2 300.4 L340.3 299.3 L340.4 312.6 L340.5 296.9 L340.7 308.0 L340.8 307.3 L341.0 306.9 L341.1 301.1 L341.3 303.7 L341.5 316.0 L341.6 308.3 L341.8 317.2 L341.9 317.0 L342.1 317.4 L342.2 319.3 L342.4 310.0 L342.5 314.7 L342.7 321.5 L342.9 312.4 L343.2 328.3 L343.9 317.3 L344.8 319.7 L345.6 314.4 L346.4 321.0 L347.1 315.3 L347.9 317.4 L348.7 312.5 L349.6 324.2 L350.5 309.3 L351.4 320.1 L352.2 319.4 L353.0 320.8 L353.8 313.6 L354.5 324.6 L355.2 324.8 L355.8 321.3 L356.5 322.7 L357.1 320.8 L357.7 325.5 L358.3 318.8 L359.0 326.4 L359.6 326.3 L360.2 318.9 L360.8 314.6 L361.4 326.8 L362.1 327.2 L362.7 334.8 L363.3 329.6 L364.0 324.5 L364.6 320.8 L365.2 327.9 L365.7 326.1 L366.3 324.1 L366.9 329.8 L367.4 338.3 L368.0 334.2 L368.6 329.1 L369.1 336.8 L369.7 330.3 L370.2 328.6 L370.8 339.9 L371.3 335.4 L371.9 344.4 L372.5 341.1 L373.0 336.2 L373.6 342.0 L374.2 346.8 L374.8 340.0 L375.4 336.3 L376.1 338.9 L376.7 338.8 L377.3 339.2 L377.9 339.3 L378.6 348.6 L379.2 352.6 L379.8 345.9 L380.5 352.3 L381.1 352.6 L381.7 357.2 L382.4 348.4 L383.0 348.2 L383.7 352.7 L384.3 353.1 L385.0 354.8 L385.6 360.4 L386.2 352.4 L386.9 356.2 L387.5 350.0 L388.2 354.7 L388.8 352.8 L389.4 353.0 L390.1 356.3 L390.7 356.5 L391.4 361.2 L392.0 364.0 L392.7 353.2 L393.3 366.3 L394.0 350.9 L394.6 364.3 L395.2 367.2 L395.9 361.1 L396.5 363.8 L397.1 361.7 L397.8 369.9 L398.4 354.2 L399.0 362.0 L399.6 357.9 L400.2 369.1 L400.8 375.2 L401.4 374.2 L402.0 372.3 L402.6 371.0 L403.1 366.6 L403.7 377.1 L404.3 374.9 L404.8 367.8 L405.4 366.3 L406.0 370.3 L406.5 379.4 L407.1 380.9 L407.6 383.4 L408.2 375.3 L408.8 378.0 L409.4 387.3 L409.9 382.3 L410.5 385.6 L411.1 374.4 L411.7 379.7 L412.3 382.2 L412.9 381.2 L413.5 381.5 L414.1 376.2 L414.8 392.3 L415.4 385.7 L416.0 378.5 L416.6 391.6 L417.3 387.3 L417.9 391.1 L418.5 388.1 L419.2 385.8 L419.8 386.6 L420.4 392.6 L421.1 395.4 L421.7 394.3 L422.4 395.7 L423.1 399.0 L423.7 395.1 L424.4 399.2 L425.1 401.3 L425.8 397.9 L426.4 396.7 L427.1 395.6 L427.8 392.4 L428.5 390.6 L429.2 405.1 L429.9 399.3 L430.6 397.2 L431.3 408.1 L432.0 405.7 L432.7 401.9 L433.4 407.0 L434.1 401.8 L434.8 405.0 L435.6 411.9 L436.3 408.7 L437.1 402.8 L437.9 407.9 L438.6 411.8 L439.4 406.0 L440.2 405.0 L441.0 416.5 L441.8 405.1 L442.6 400.6 L443.4 408.1 L444.2 418.9 L445.0 411.3 L445.8 414.9 L446.6 400.2 L447.4 408.4 L448.2 417.3 L449.0 410.8 L449.9 419.4 L450.7 415.8 L451.5 415.8 L452.3 419.6 L453.1 409.5 L453.9 410.1 L454.7 413.2 L455.6 413.3 L456.4 404.5 L457.2 418.9 L458.0 414.5 L458.9 415.7 L459.7 419.8 L460.5 415.3 L461.4 423.2 L462.2 419.8 L463.1 423.2 L463.9 415.8 L464.8 419.0 L465.7 419.1 L466.6 413.1 L467.4 414.6 L468.3 417.7 L469.2 423.1 L470.1 421.6 L471.0 422.4 L471.9 419.7 L472.8 424.3 L473.6 427.5 L474.5 421.2 L475.4 422.6 L476.3 422.2 L477.2 410.4 L478.0 419.4 L478.9 422.1 L479.8 424.2 L480.6 419.5 L481.5 425.8 L482.3 418.6 L483.2 421.2 L484.0 430.0 L484.9 416.3 L485.7 422.5 L486.6 423.2 L487.5 423.7 L488.4 421.8 L489.2 427.4 L490.1 418.9 L491.0 417.8 L491.9 426.2 L492.8 419.2 L493.7 426.5 L494.6 424.9 L495.5 421.8 L496.4 423.0 L497.3 424.2 L498.2 426.7 L499.1 421.9 L500.0 423.3 L500.9 417.8 L501.8 423.2 L502.7 415.9 L503.6 424.9 L504.4 423.3 L505.3 434.9 L506.2 431.5 L507.1 424.7 L507.9 429.8 L508.8 427.0 L509.7 420.8 L510.6 416.2 L511.4 432.1 L512.3 429.1 L513.2 417.7 L514.1 429.3 L515.0 430.5 L515.9 423.4 L516.8 429.9 L517.7 418.8 L518.6 425.3 L519.5 426.4 L520.4 431.9 L521.3 430.0 L522.2 429.2 L523.1 430.5 L524.0 423.7 L524.9 433.0 L525.8 424.9 L526.7 429.7 L527.6 426.1 L528.5 424.9 L529.4 428.4 L530.2 428.2 L531.1 432.0 L532.0 430.6 L532.9 423.4 L533.8 427.1 L534.7 425.2 L535.6 421.3 L536.5 419.9 L537.4 425.9 L538.3 422.6 L539.2 419.2 L540.0 425.0 L540.8 427.4 L541.6 427.3 L542.3 422.2 L543.1 425.4 L543.8 434.2 L544.5 425.6 L545.2 428.1 L545.9 439.9 L546.5 432.1 L547.2 427.8 L547.9 422.2 L548.6 432.4 L549.2 425.8 L549.9 432.2 L550.7 430.9 L551.4 428.0 L552.1 442.6 L552.9 435.7 L553.7 440.5 L554.4 438.9 L555.2 433.1 L556.0 437.0 L556.8 435.6 L557.5 441.2 L558.3 439.4 L559.1 436.6 L559.9 445.5 L560.7 441.1 L561.4 441.5 L562.2 436.7 L563.0 442.2 L563.7 434.8 L564.5 443.8 L565.3 438.5 L566.0 443.6 L566.8 442.2 L567.5 446.6 L568.3 447.6 L569.0 446.4 L569.8 446.9 L570.5 441.4 L571.3 437.7 L572.0 451.4 L572.8 449.0 L573.5 441.0 L574.2 455.6 L575.0 446.4 L575.7 452.0 L576.4 452.2 L577.2 451.4 L577.9 452.0 L578.6 444.3 L579.3 450.4 L580.0 450.0 L580.7 452.0 L581.5 453.0 L582.2 452.0 L582.9 452.2 L583.6 459.5 L584.3 452.9 L585.0 459.2 L585.7 459.8 L586.3 458.5 L587.0 461.2 L587.7 462.3 L588.4 457.4 L589.1 461.6 L589.8 468.7 L590.4 457.0 L591.1 460.8 L591.8 459.1 L592.4 471.1 L593.1 457.8 L593.7 464.2 L594.4 468.6 L595.0 462.6 L595.7 466.3 L596.3 464.5 L596.9 462.6 L597.6 468.4 L598.2 471.8 L598.8 468.8 L599.4 471.8 L600.0 474.6 L600.6 477.3 L601.3 468.1 L601.9 476.2 L602.4 471.9 L603.0 467.4 L603.6 472.6 L604.1 479.1 L604.7 478.5 L605.2 474.7 L605.8 486.4 L606.3 482.2 L606.9 481.0 L607.4 479.8 L608.0 484.4 L608.6 480.2 L609.1 487.1 L609.7 484.4 L610.3 486.3 L610.9 483.3 L611.6 479.2 L612.2 487.2 L612.9 481.6 L613.5 485.9 L614.2 486.8 L614.9 484.3 L615.6 492.1 L616.3 483.3 L617.0 495.6 L617.7 487.8 L618.4 494.6 L619.1 496.5 L619.8 488.4 L620.6 489.4 L621.3 496.6 L622.1 494.3 L622.8 494.4 L623.5 487.2 L624.3 488.5 L625.1 497.7 L625.8 501.6 L626.6 493.5 L627.4 493.4 L628.1 498.1 L628.9 499.8 L629.7 500.6 L630.5 497.0 L631.3 491.5 L632.1 505.4 L632.9 496.5 L633.7 503.9 L634.4 491.4 L635.2 501.3 L635.9 500.6 L636.7 498.8 L637.4 507.4 L638.2 509.1 L639.0 500.9 L639.8 506.2 L640.6 499.8 L641.4 501.9 L642.3 503.7 L643.2 502.9 L644.1 506.7 L645.0 499.3 L645.8 509.2 L646.6 508.8 L647.4 503.7 L648.2 499.4 L648.9 494.2 L649.6 503.3 L650.2 500.1 L650.7 502.6 L651.0 497.2 L651.3 500.5 L651.6 499.4 L652.0 498.8 L652.3 499.1 L652.8 497.6 L653.5 500.3 L653.8 494.3 L654.0 501.1 L654.1 499.8 L654.3 498.4 L654.4 497.1 L654.5 507.5 L654.7 503.7 L654.8 501.6 L654.9 504.8 L655.0 505.4 L655.2 504.3 L655.3 501.8 L655.4 508.7 L655.5 508.3 L655.7 508.8 L655.8 514.6 L656.0 506.3 L656.2 508.5 L656.5 513.7 L656.8 517.1 L657.2 517.1 L657.5 518.4 L657.9 507.9 L658.3 519.1 L658.7 519.6 L659.2 521.4 L659.6 515.9 L660.1 521.3 L660.6 523.9 L661.2 527.0 L661.7 522.5 L662.3 517.0 L662.9 526.1 L663.6 529.1 L664.2 529.2 L664.9 535.2 L665.6 527.6 L666.3 523.5 L667.1 525.5 L667.8 531.0 L668.6 525.8 L669.4 525.3 L670.2 524.7 L671.0 532.9 L671.8 529.6 L672.6 527.8 L673.4 533.1 L674.2 532.9 L675.0 527.1 L675.7 534.5 L676.4 533.5 L677.2 525.3 L677.8 529.2 L678.5 535.3 L679.2 536.8 L679.9 533.0 L680.5 530.9 L681.2 536.2 L681.9 528.9 L682.6 538.6 L683.3 538.0 L684.0 539.0 L684.7 537.2 L685.5 543.3 L686.2 531.8 L687.1 537.1 L687.9 543.0 L688.7 538.5 L689.5 547.1 L690.4 545.0 L691.2 540.8 L692.1 548.2 L692.9 544.0 L693.8 546.6 L694.6 542.4 L695.4 542.8 L696.3 548.1 L697.1 543.0 L697.9 540.2 L698.7 540.2 L699.5 546.3 L700.3 553.2 L701.1 543.9 L701.9 550.0 L702.7 538.6 L703.5 543.1 L704.3 549.8 L705.1 553.6 L705.9 548.3 L706.7 550.4 L707.6 552.1 L708.4 555.3 L709.3 547.7 L710.1 554.5 L711.0 549.9 L711.8 550.5 L712.7 552.0 L713.6 551.5 L714.4 550.0 L715.3 552.2 L716.2 549.8 L717.0 559.1 L717.9 555.0 L718.8 551.0 L719.7 558.7 L720.5 560.4 L721.4 557.5 L722.3 553.9 L723.2 557.0 L724.1 558.5 L725.0 561.8 L725.9 556.0 L726.7 554.8 L727.6 562.9 L728.5 559.7 L729.4 555.8 L730.3 551.3 L731.2 558.1 L732.1 560.6 L732.9 559.4 L733.8 559.8 L734.7 556.1 L735.6 560.4 L736.5 554.0 L737.4 554.8 L738.2 555.4 L739.1 555.1 L740.0 565.1 L740.8 551.7 L741.7 558.1 L742.5 553.9 L743.3 553.3 L744.1 558.7 L744.9 555.7 L745.8 561.6 L746.6 570.9 L747.4 562.2 L748.2 562.2 L749.1 557.5 L750.0 562.8 L750.8 555.6 L751.7 562.7 L752.6 561.7 L753.5 570.5 L754.4 562.1 L755.2 562.0 L756.1 561.4 L757.0 559.1 L757.9 565.7 L758.8 568.4 L759.7 561.7 L760.6 565.9 L761.5 562.4 L762.3 565.4 L763.2 565.8 L764.1 558.8 L765.0 561.2 L765.9 567.8 L766.8 557.2 L767.7 564.6 L768.5 563.9 L769.4 561.8 L770.3 565.7 L771.2 566.9 L772.0 567.1 L772.9 556.2 L773.7 572.1 L774.6 564.2 L775.4 571.0 L776.2 566.9 L777.0 565.6 L777.9 567.9 L778.7 577.8 L779.5 575.0 L780.4 568.1 L781.2 570.6 L782.0 574.1 L782.9 572.4 L783.8 570.8 L784.6 570.0 L785.5 567.3 L786.3 574.5 L787.2 576.1 L788.0 580.6 L788.9 570.0 L789.8 574.8 L790.7 572.4 L791.5 577.6 L792.4 573.6 L793.3 571.7 L794.2 567.9 L795.0 577.3 L795.9 574.4 L796.8 578.2 L797.7 572.1 L798.6 583.4 L799.4 572.0 L800.3 576.8 L801.2 576.5 L802.1 578.8 L803.0 574.1 L803.9 571.4 L804.8 571.2 L805.7 578.3 L806.6 575.8 L807.5 576.8 L808.4 572.5 L809.3 575.6 L810.1 575.9 L811.0 577.5 L811.9 569.7 L812.8 573.9 L813.7 583.4 L814.6 575.4 L815.5 576.5 L816.5 573.9 L817.4 569.7 L818.3 571.3 L819.2 577.1 L820.1 573.2 L821.0 583.4 L821.9 570.0 L822.8 569.3 L823.7 575.2 L824.6 572.1 L825.5 582.0 L826.4 575.2 L827.3 578.9 L828.1 571.6 L829.0 579.7 L829.9 579.0 L830.8 581.4 L831.7 577.6 L832.6 578.8 L833.5 576.2 L834.4 579.1 L835.3 574.2 L836.2 580.1 L837.1 576.0 L838.0 580.9 L838.9 577.3 L839.8 575.8 L840.7 575.8 L841.6 584.1 L842.5 572.7 L843.4 571.5 L844.3 579.6 L845.2 573.4 L846.1 575.3 L846.9 576.9 L847.7 587.1 L848.5 575.5 L849.3 574.9 L850.1 574.4 L850.9 576.3 L851.7 577.0 L852.6 569.2 L853.5 576.0 L854.4 581.7 L855.3 567.7 L856.1 576.9 L857.0 579.1 L857.8 577.1 L858.6 576.2 L859.4 568.4 L860.2 582.1 L860.9 576.8 L861.7 577.7 L862.5 583.6 L863.3 570.4 L864.1 579.8 L865.0 582.7 L865.8 583.4 L866.7 581.5 L867.6 587.1 L868.5 580.5 L869.4 583.5 L870.3 585.7 L871.2 577.3 L872.1 580.1 L872.9 591.0 L873.8 580.0 L874.7 580.8 L875.6 576.1 L876.5 579.8 L877.4 575.3 L878.3 578.0 L879.2 582.4 L880.1 577.1 L881.0 579.8 L881.9 587.2 L882.8 583.9 L883.7 583.1 L884.6 584.9 L885.5 578.9 L886.4 579.3 L887.2 573.2 L888.0 583.4 L888.9 579.4 L889.7 579.9 L890.6 574.9 L891.5 581.4 L892.3 581.5 L893.2 580.2 L894.0 574.1 L894.7 577.4 L895.5 581.0 L896.2 578.6 L896.9 583.8 L897.6 587.0 L898.3 580.8 L899.0 583.6 L899.7 582.2 L900.5 589.2 L901.3 588.2 L902.2 594.2 L903.0 585.3 L903.9 581.9 L904.8 588.5 L905.6 586.3 L906.5 588.1 L907.4 592.3 L908.3 585.6 L909.2 589.6 L910.1 578.9 L911.0 590.7 L911.9 587.4 L912.8 586.1 L913.6 585.2 L914.5 593.4 L915.4 586.2 L916.3 593.0 L917.2 586.4 L918.1 588.9 L919.0 590.1 L919.9 596.6 L920.8 589.9 L921.7 589.4 L922.6 588.3 L923.5 587.6 L924.4 586.6 L925.3 595.4 L926.1 594.3 L927.0 586.3 L927.9 589.8 L928.8 586.3 L929.6 594.5 L930.5 593.8 L931.4 589.6 L932.3 586.2 L933.2 592.3 L934.1 591.7 L935.0 589.3 L935.9 592.6 L936.8 584.5 L937.6 587.1 L938.5 586.5 L939.4 590.3 L940.2 595.9 L941.1 589.5 L942.0 592.2 L942.9 587.6 L943.8 586.1 L944.7 591.5 L945.6 591.0 L946.5 594.3 L947.4 592.7 L948.2 586.0 L949.1 580.0 L950.0 589.8 L950.9 584.9 L951.8 585.0 L952.7 584.9 L953.6 588.2 L954.5 589.9 L955.4 589.2 L956.3 597.0 L957.2 584.8 L958.1 589.4 L959.0 585.1 L959.9 586.2 L960.8 590.3 L961.7 591.7 L962.6 586.2 L963.5 595.5 L964.4 587.7 L965.3 594.9 L966.2 588.5 L967.1 592.2 L968.0 590.9 L968.9 592.1 L969.8 595.0 L970.7 588.1 L971.6 588.2 L972.5 588.9 L973.4 595.5 L974.3 587.4 L975.2 588.0 L976.1 596.6 L977.0 590.4 L977.9 590.3 L978.8 586.3 L979.7 591.9 L980.6 593.9 L981.5 591.5 L982.4 593.8 L983.3 592.1 L984.2 594.9 L985.1 594.0 L986.0 588.8 L986.9 592.6 L987.8 596.2 L988.7 590.6 L989.6 587.0 L990.5 592.5 L991.4 591.2 L992.2 601.2 L993.1 595.3 L994.0 588.3 L994.9 591.9 L995.8 598.3 L996.7 587.2 L997.6 589.7 L998.5 591.6 L999.4 591.2 L1000.3 589.5 L1001.2 592.2 L1002.1 586.4 L1003.0 590.2 L1003.9 590.1 L1004.8 591.3 L1005.7 591.3 L1006.6 591.1 L1007.5 589.8 L1008.4 589.5 L1009.3 592.4 L1010.2 595.6 L1011.1 595.7 L1012.0 587.6 L1012.9 592.5 L1013.8 594.3 L1014.7 590.3 L1015.6 593.0 L1016.5 589.5 L1017.4 591.7 L1018.3 584.4 L1019.2 592.0 L1020.1 587.7 L1021.0 586.8 L1021.9 588.4 L1022.8 593.3 L1023.7 594.2 L1024.6 591.6 L1025.5 593.9 L1026.4 589.1 L1027.3 585.3 L1028.2 582.9 L1029.1 589.9 L1030.0 591.2 L1030.9 591.9 L1031.8 592.1 L1032.7 596.6 L1033.6 587.9 L1034.4 588.5 L1035.3 598.9 L1036.2 594.7 L1037.1 591.3 L1038.0 584.8 L1038.9 589.3 L1039.8 591.2 L1040.7 591.7 L1041.6 592.6 L1042.5 590.9 L1043.4 596.0 L1044.3 587.0 L1045.2 590.2 L1046.0 588.5 L1046.9 593.8 L1047.8 590.4 L1048.6 592.5 L1049.5 589.5 L1050.4 599.6 L1051.3 592.9 L1052.2 587.2 L1053.1 589.8 L1053.9 589.2 L1054.8 593.4 L1055.7 594.1 L1056.6 591.7 L1057.5 587.5 L1058.4 585.4 L1059.2 593.9 L1060.1 591.8 L1061.0 578.1 L1061.8 587.1 L1062.7 583.4 L1063.5 584.8 L1064.4 592.7 L1065.2 581.6 L1066.0 581.6 L1066.9 594.4 L1067.7 582.8 L1068.5 583.3 L1069.3 588.2 L1070.2 581.6 L1071.0 583.2 L1071.9 583.7 L1072.7 587.8 L1073.5 576.0 L1074.4 579.4 L1075.2 581.7 L1076.1 585.3 L1076.9 579.1 L1077.7 582.6 L1078.6 578.7 L1079.5 578.9 L1080.4 585.0 L1081.3 580.7 L1082.2 590.7 L1083.1 583.0 L1084.0 585.9 L1084.9 583.1 L1085.8 574.4 L1086.7 574.4 L1087.6 582.2 L1088.5 576.4 L1089.4 578.5 L1090.3 579.3 L1091.2 577.7 L1092.1 585.7 L1093.0 584.1 L1093.9 581.8 L1094.8 582.0 L1095.6 576.3 L1096.5 582.9 L1097.4 576.1 L1098.3 586.6 L1099.1 577.9 L1100.0 578.1 L1100.9 584.4 L1101.8 580.4 L1102.7 574.1 L1103.5 579.9 L1104.4 577.5 L1105.3 577.3 L1106.2 579.5 L1107.1 579.4 L1108.0 580.8 L1108.9 579.1 L1109.8 578.4 L1110.7 576.7 L1111.6 582.9 L1112.5 574.2 L1113.4 584.3 L1114.3 585.3 L1115.2 584.0 L1116.1 575.1 L1117.0 583.5 L1117.9 579.8 L1118.8 580.6 L1119.7 585.5 L1120.6 577.1 L1121.5 578.4 L1122.3 569.9 L1123.2 566.2 L1124.1 575.7 L1125.1 576.3 L1126.0 580.1 L1126.9 578.5 L1127.8 569.8 L1128.7 577.5 L1129.6 580.3 L1130.5 582.0 L1131.4 572.5 L1132.3 572.2 L1133.2 572.9 L1134.1 573.1 L1135.0 569.4 L1135.9 572.7 L1136.8 581.3 L1137.7 571.3 L1138.6 568.2 L1139.5 574.7 L1140.4 573.8 L1141.3 578.3 L1142.2 573.1 L1143.1 575.2 L1144.0 572.7 L1144.9 572.2 L1145.8 576.6 L1146.7 575.6 L1147.6 575.0 L1148.5 577.2 L1149.4 572.3 L1150.3 575.6 L1151.2 576.5 L1152.0 580.3 L1152.9 569.4 L1153.8 575.3 L1154.7 578.5 L1155.6 574.7 L1156.5 577.0 L1157.4 579.3 L1158.3 578.5 L1159.2 571.5 L1160.1 573.5 L1161.0 569.0 L1161.9 580.6 L1162.8 579.2 L1163.7 583.5 L1164.6 578.6 L1165.5 574.1 L1166.4 581.6 L1167.3 572.6 L1168.2 577.7 L1169.1 577.1 L1170.0 581.4 L1170.9 582.1 L1171.8 577.2 L1172.6 576.2 L1173.5 577.4 L1174.4 575.6 L1175.3 581.6 L1176.2 581.4 L1177.0 585.4 L1177.9 589.4 L1178.8 577.1 L1179.7 577.7 L1180.6 582.0 L1181.5 581.9 L1182.3 579.2 L1183.2 574.7 L1184.1 590.5 L1185.0 581.9 L1185.9 577.3 L1186.8 573.8 L1187.6 588.5 L1188.5 584.5 L1189.4 583.5 L1190.3 576.2 L1191.2 579.9 L1192.0 579.0 L1192.9 571.6 L1193.8 592.3 L1194.7 585.0 L1195.6 582.2 L1196.5 580.0 L1197.3 580.3 L1198.2 592.0 L1199.1 584.5 L1200.0 579.6 L1200.9 588.3 L1201.8 586.9 L1202.6 587.2 L1203.5 583.2 L1204.4 583.2 L1205.3 584.8 L1206.2 583.4 L1207.1 579.6 L1208.0 581.4 L1208.9 585.4 L1209.7 579.4 L1210.6 585.7 L1211.5 585.2 L1212.4 589.3 L1213.3 587.3 L1214.2 586.0 L1215.1 586.1 L1216.0 589.0 L1216.9 591.1 L1217.8 583.0 L1218.7 581.4 L1219.5 584.6 L1220.4 577.9 L1221.3 583.9 L1222.2 590.2 L1223.1 591.0 L1224.0 593.5 L1224.9 588.0 L1225.8 588.5 L1226.7 585.8 L1227.5 587.5 L1228.4 590.8 L1229.3 593.3 L1230.2 591.7 L1231.1 581.6 L1232.0 591.5 L1232.8 589.8 L1233.7 587.7 L1234.6 589.2 L1235.5 592.3 L1236.4 589.5 L1237.2 586.4 L1238.1 600.8 L1239.0 589.4 L1239.9 593.8 L1240.8 596.7 L1241.6 588.8 L1242.5 594.4 L1243.4 589.3 L1244.2 592.2 L1245.1 590.5 L1246.0 600.5 L1246.8 588.7 L1247.7 595.1 L1248.6 593.5 L1249.4 586.0 L1250.3 600.4 L1251.2 592.9 L1252.1 594.2 L1253.0 596.3 L1253.8 592.1 L1254.7 591.1 L1255.6 594.0 L1256.5 590.9 L1257.4 594.8 L1258.3 600.8 L1259.2 592.1 L1260.1 590.1 L1261.0 595.7 L1261.9 596.9 L1262.8 598.0 L1263.7 591.3 L1264.6 587.6 L1265.5 600.1 L1266.4 599.5 L1267.3 602.6 L1268.2 593.5 L1269.1 599.5 L1270.0 601.3 L1270.9 590.5 L1271.8 600.1 L1272.6 601.6 L1273.5 598.5 L1274.4 598.5 L1275.3 600.0 L1276.2 596.3 L1277.1 591.9 L1278.0 594.0 L1278.9 597.1 L1279.8 594.7 L1280.7 602.0 L1281.6 597.7 L1282.4 598.9 L1283.3 592.7 L1284.2 601.2 L1285.1 596.7 L1286.0 605.3 L1286.9 593.1 L1287.8 601.1 L1288.7 596.7 L1289.5 597.1 L1290.4 605.1 L1291.3 602.5 L1292.2 597.2 L1293.1 606.0 L1294.0 598.4 L1294.8 604.1 L1295.7 594.9 L1296.6 600.5 L1297.5 600.8 L1298.4 600.8 L1299.2 597.4 L1300.1 596.4 L1301.0 603.8 L1301.9 606.3 L1302.8 600.9 L1303.7 599.6 L1304.6 595.3 L1305.4 601.2 L1306.3 600.2 L1307.2 599.8 L1308.1 603.3 L1309.0 605.2 L1309.9 606.2 L1310.8 603.8 L1311.7 601.7 L1312.6 601.9 L1313.5 601.6 L1314.3 596.6 L1315.2 601.7 L1316.1 596.9 L1317.0 595.9 L1317.9 600.3 L1318.8 601.1 L1319.7 607.9 L1320.6 604.1 L1321.5 607.4 L1322.4 611.4 L1323.3 606.5 L1324.2 607.5 L1325.1 603.5 L1326.0 607.8 L1326.9 605.0 L1327.8 605.1 L1328.7 600.7 L1329.6 602.6 L1330.5 603.6 L1331.4 606.7 L1332.3 610.5 L1333.2 600.3 L1334.1 604.8 L1335.0 605.1 L1335.8 615.1 L1336.7 607.0 L1337.6 605.9 L1338.5 610.9 L1339.4 602.6 L1340.3 609.0 L1341.2 600.7 L1342.1 614.9 L1343.0 608.1 L1343.9 606.8 L1344.8 603.5 L1345.6 608.1 L1346.5 607.4 L1347.4 604.5 L1348.3 611.9 L1349.2 606.3 L1350.1 608.7 L1351.0 609.5 L1351.9 613.8 L1352.8 607.3 L1353.6 609.3 L1354.5 610.3 L1355.4 611.6 L1356.3 603.6 L1357.2 615.1 L1358.1 610.4 L1359.0 608.3 L1359.9 610.5 L1360.8 603.5 L1361.6 608.0 L1362.5 611.8 L1363.4 615.1 L1364.3 609.8 L1365.2 611.7 L1366.1 609.2 L1367.0 614.9 L1367.9 610.2 L1368.8 613.6 L1369.7 610.6 L1370.6 608.4 L1371.5 608.3 L1372.4 609.7 L1373.3 615.9 L1374.2 620.7 L1375.1 610.8 L1376.0 608.8 L1376.9 613.5" fill="none" stroke="#ff3300" stroke-width="2.0" stroke-linejoin="miter" stroke-miterlimit="3"/>
<path d="M40.5 247.9 L40.7 249.3 L41.0 250.6 L41.2 253.1 L41.4 254.4 L41.6 255.1 L41.7 257.8 L41.9 258.7 L42.0 259.7 L42.2 261.7 L42.3 263.1 L42.4 264.3 L42.6 265.3 L42.7 267.6 L42.8 269.2 L43.0 269.5 L43.1 272.3 L43.3 273.8 L43.5 274.9 L43.7 276.6 L43.9 277.3 L44.1 278.5 L44.4 280.2 L44.7 282.4 L44.9 282.7 L45.2 284.9 L45.5 286.3 L45.8 287.4 L46.1 289.0 L46.4 290.1 L46.6 291.8 L46.9 293.6 L47.1 295.2 L47.3 296.2 L47.5 299.4 L47.7 299.5 L47.8 301.2 L48.0 302.6 L48.2 304.0 L48.4 306.2 L48.5 307.0 L48.7 309.2 L48.9 310.6 L49.1 311.2 L49.3 313.5 L49.5 314.3 L49.7 317.2 L50.0 317.4 L50.3 318.7 L50.5 319.7 L50.8 319.6 L51.1 321.4 L51.5 322.7 L51.8 324.1 L52.1 325.8 L52.4 327.4 L52.7 329.5 L53.0 329.8 L53.3 331.7 L53.6 333.0 L53.9 334.3 L54.1 339.7 L54.4 341.3 L54.6 343.4 L54.9 344.5 L55.2 345.9 L55.4 347.8 L55.7 349.2 L55.9 350.4 L56.2 352.2 L56.5 353.1 L56.8 355.2 L57.1 356.6 L57.4 357.7 L57.7 358.3 L58.0 360.9 L58.3 361.7 L58.6 364.4 L59.0 364.4 L59.3 366.4 L59.6 367.4 L60.0 369.1 L60.3 370.8 L60.6 371.7 L60.9 372.1 L61.2 373.7 L61.5 375.1 L61.8 376.8 L62.1 378.4 L62.4 379.8 L62.6 381.1 L62.9 382.3 L63.2 383.5 L63.5 385.1 L63.7 386.7 L64.0 388.6 L64.3 389.7 L64.6 391.8 L64.8 394.0 L65.1 394.9 L65.4 396.4 L65.7 398.1 L66.0 399.9 L66.3 400.2 L66.6 402.2 L66.9 404.2 L67.2 405.4 L67.5 406.7 L67.9 407.8 L68.3 410.0 L68.6 410.8 L69.0 412.7 L69.4 414.2 L69.9 415.1 L70.3 416.9 L70.7 418.0 L71.2 418.6 L71.7 419.8 L72.1 422.0 L72.6 423.0 L73.1 424.3 L73.6 425.5 L74.1 428.1 L74.6 430.4 L75.1 431.5 L75.7 432.7 L76.2 433.8 L76.7 435.9 L77.2 437.3 L77.7 438.1 L78.2 439.3 L78.7 440.6 L79.2 441.3 L79.7 442.9 L80.2 444.4 L80.7 446.0 L81.2 447.3 L81.6 448.1 L82.1 450.8 L82.6 451.8 L83.1 453.6 L83.6 455.0 L84.1 455.8 L84.6 457.4 L85.1 458.6 L85.6 460.0 L86.1 461.1 L86.6 462.3 L87.1 464.0 L87.6 465.1 L88.2 467.7 L88.7 468.5 L89.2 470.8 L89.7 471.7 L90.3 473.3 L90.8 474.9 L91.4 476.5 L91.9 478.0 L92.4 478.7 L93.0 479.5 L93.5 481.5 L94.0 482.6 L94.5 484.4 L95.1 486.0 L95.6 487.4 L96.2 488.9 L96.7 490.2 L97.3 491.1 L97.8 493.0 L98.4 493.6 L99.0 495.5 L99.6 496.3 L100.2 497.6 L100.8 499.3 L101.5 500.7 L102.1 503.1 L102.8 504.0 L103.6 505.1 L104.3 506.9 L105.1 507.4 L106.0 507.8 L106.8 509.3 L107.6 509.8 L108.5 513.1 L109.4 514.1 L110.3 515.6 L111.3 516.7 L112.2 517.4 L113.2 518.6 L114.1 519.9 L115.1 521.0 L116.1 521.9 L117.0 522.8 L118.0 525.0 L119.0 526.3 L119.9 526.7 L120.8 528.3 L121.7 528.7 L122.5 528.6 L123.4 530.4 L124.3 532.3 L125.1 532.5 L126.0 535.4 L126.9 537.6 L127.8 537.4 L128.7 539.6 L129.7 541.8 L130.8 542.6 L131.9 543.8 L133.1 542.3 L134.4 541.6 L135.8 542.3 L137.3 542.3 L138.8 541.7 L140.1 540.9 L141.4 541.3 L142.6 542.1 L143.9 540.5 L145.1 540.0 L146.2 538.8 L147.2 537.6 L147.9 535.6 L148.5 534.8 L149.0 533.5 L149.4 532.9 L149.8 531.5 L150.2 529.2 L150.5 529.2 L150.8 527.0 L151.1 526.2 L151.3 525.1 L151.5 522.4 L151.7 520.5 L151.8 519.9 L152.0 517.9 L152.1 516.3 L152.3 514.6 L152.4 514.2 L152.6 511.9 L152.7 509.7 L152.9 508.5 L153.1 506.8 L153.2 505.8 L153.4 504.1 L153.5 502.3 L153.7 501.5 L153.8 499.5 L154.0 498.6 L154.2 497.3 L154.4 495.1 L154.7 493.6 L155.3 494.9 L155.5 496.7 L155.7 497.8 L155.9 499.3 L156.0 500.8 L156.2 501.9 L156.3 503.6 L156.5 504.5 L156.6 506.1 L156.7 507.8 L156.9 509.0 L157.0 510.8 L157.1 512.5 L157.2 513.8 L157.3 515.0 L157.4 516.5 L157.5 519.0 L157.6 520.1 L157.7 520.8 L157.9 522.4 L158.0 525.0 L158.1 526.4 L158.2 527.3 L158.3 529.2 L158.5 529.7 L158.7 531.7 L158.9 533.5 L159.0 534.0 L159.2 535.9 L159.4 538.0 L159.6 539.7 L159.8 540.5 L160.0 542.4 L160.2 544.4 L160.5 545.1 L160.8 546.2 L161.1 548.1 L161.6 549.4 L162.3 551.4 L163.0 551.9 L163.8 552.8 L164.7 555.3 L165.6 555.3 L166.7 557.6 L167.9 558.7 L169.1 559.6 L170.3 558.4 L171.6 559.3 L173.0 559.7 L174.3 560.4 L175.7 561.5 L177.1 562.7 L178.5 563.4 L179.8 564.2 L181.1 566.1 L182.4 567.5 L183.8 565.9 L185.3 564.8 L186.7 565.7 L188.2 565.6 L189.7 565.1 L191.2 567.0 L192.7 566.8 L194.1 568.6 L195.6 568.9 L197.0 569.0 L198.5 569.3 L199.9 568.7 L201.4 569.8 L202.8 569.0 L204.1 565.5 L205.4 564.4 L206.6 563.8 L207.4 564.9 L208.2 564.1 L209.0 563.0 L209.9 561.6 L210.9 560.7 L211.9 560.2 L213.0 557.3 L214.4 556.0 L215.4 556.9 L216.1 558.2 L217.0 559.1 L217.8 562.4 L218.6 563.5 L219.6 564.5 L220.8 566.5 L222.1 567.0 L223.5 566.9 L224.9 567.7 L226.4 567.4 L227.9 567.9 L229.4 568.3 L230.9 569.1 L232.4 568.4 L233.9 569.4 L235.4 566.1 L236.7 566.0 L238.0 564.9 L239.3 564.6 L240.6 563.8 L241.9 562.3 L243.3 561.3 L244.7 562.1 L246.1 562.1 L247.4 561.8 L248.8 559.9 L250.2 558.8 L251.5 558.8 L252.8 557.4 L254.0 556.6 L255.2 555.8 L256.4 555.3 L257.7 554.2 L258.9 554.3 L260.1 553.6 L261.3 552.4 L262.6 548.9 L263.9 548.4 L265.2 548.0 L266.5 547.2 L267.8 547.3 L269.0 544.7 L270.1 543.6 L271.1 542.9 L272.0 545.0 L272.8 543.3 L273.6 542.3 L274.4 540.4 L275.2 538.2 L276.0 537.8 L276.8 535.4 L277.6 535.1 L278.4 533.7 L279.3 533.8 L280.2 532.7 L281.1 531.4 L282.0 527.8 L283.0 527.0 L283.9 526.0 L284.9 525.5 L285.9 522.9 L286.9 521.9 L287.8 520.9 L288.8 521.6 L289.8 519.3 L290.9 518.2 L291.9 517.9 L292.9 515.2 L294.0 515.2 L295.1 513.9 L296.2 511.3 L297.3 510.8 L298.3 509.4 L299.3 509.1 L300.2 508.0 L301.0 507.2 L301.8 505.3 L302.5 506.4 L303.2 504.8 L303.9 503.7 L304.7 502.9 L305.6 500.5 L306.6 499.1 L307.6 497.5 L308.6 496.6 L309.6 495.7 L310.6 494.8 L311.6 493.4 L312.5 491.9 L313.3 490.3 L314.0 488.9 L314.7 487.5 L315.4 486.3 L316.2 484.9 L317.1 483.4 L318.1 482.3 L319.3 482.3 L320.6 481.9 L321.7 480.2 L322.6 480.1 L323.3 477.2 L323.9 476.7 L324.5 476.0 L324.9 473.2 L325.4 472.4 L325.8 470.6 L326.2 468.2 L326.6 466.7 L327.0 465.8 L327.3 464.6 L327.7 462.8 L328.1 460.6 L328.4 459.3 L328.8 458.2 L329.1 457.3 L329.5 455.4 L329.9 454.6 L330.2 453.5 L330.6 451.4 L330.9 450.0 L331.2 448.5 L331.5 446.4 L331.8 445.8 L332.1 444.3 L332.4 443.1 L332.7 440.7 L333.0 438.7 L333.3 437.9 L333.6 436.2 L333.9 435.2 L334.2 432.8 L334.5 431.8 L334.7 429.9 L335.0 428.8 L335.2 427.0 L335.5 426.0 L335.7 424.7 L336.0 423.1 L336.3 421.6 L336.7 421.2 L337.5 419.9 L337.9 420.7 L338.1 422.3 L338.3 424.1 L338.5 425.8 L338.6 426.9 L338.8 427.9 L338.9 430.2 L339.0 431.6 L339.2 434.0 L339.3 434.0 L339.5 437.1 L339.7 438.2 L339.8 440.0 L340.1 442.0 L340.3 442.9 L340.5 444.7 L340.7 445.5 L341.0 447.3 L341.2 448.4 L341.4 449.6 L341.7 451.7 L341.9 453.0 L342.1 455.0 L342.4 456.7 L342.6 457.6 L342.9 459.2 L343.2 458.9 L343.6 459.7 L344.0 461.9 L344.5 463.2 L345.8 463.9 L347.2 466.0 L348.7 466.0 L350.1 465.1 L351.6 465.5 L353.1 466.2 L354.5 467.3 L355.9 468.1 L357.1 467.6 L358.2 468.9 L359.3 469.5 L360.3 471.5 L361.3 472.7 L362.2 474.6 L363.2 474.8 L364.2 475.5 L365.2 477.7 L366.2 478.0 L367.3 478.9 L368.4 479.7 L369.6 480.4 L370.8 482.0 L372.0 482.6 L373.2 483.0 L374.4 484.2 L375.6 484.9 L376.8 486.3 L377.9 486.7 L379.0 487.5 L380.1 488.6 L381.3 489.0 L382.4 490.3 L383.5 490.8 L384.7 493.3 L385.8 494.5 L386.9 496.3 L387.9 497.4 L388.9 497.0 L389.9 499.1 L390.8 500.8 L391.6 502.3 L392.5 504.1 L393.2 505.1 L394.0 505.2 L394.6 507.3 L395.2 508.6 L395.7 510.2 L396.0 512.0 L396.4 512.5 L396.7 514.8 L397.1 515.2 L397.4 517.3 L397.8 520.5 L398.0 522.8 L398.3 523.1 L398.5 524.2 L398.8 526.6 L399.1 527.5 L399.6 529.8 L400.2 527.6 L400.5 526.1 L400.7 525.5 L400.9 521.6 L401.2 520.5 L401.9 518.2 L402.9 518.3 L404.2 516.7 L405.7 516.6 L407.1 516.4 L408.4 519.1 L409.6 520.5 L410.7 521.7 L411.7 520.7 L412.8 521.3 L413.8 522.6 L414.8 525.5 L415.8 527.6 L416.8 527.1 L417.9 529.0 L419.0 527.7 L420.2 528.8 L421.4 530.5 L422.7 532.0 L424.0 531.7 L425.3 530.4 L426.6 531.6 L427.9 531.9 L429.2 536.0 L430.5 536.9 L431.7 536.2 L432.9 537.7 L434.0 538.1 L435.1 538.7 L435.9 540.0 L436.7 542.0 L437.5 542.5 L438.2 543.5 L439.1 547.1 L440.1 549.0 L441.4 548.7 L442.6 549.2 L444.0 549.9 L445.3 549.1 L446.7 550.4 L448.1 551.6 L449.5 551.1 L450.9 551.2 L452.3 553.1 L453.6 553.7 L454.9 555.0 L456.3 554.5 L457.6 555.4 L458.9 557.1 L460.2 557.7 L461.6 558.5 L462.9 559.1 L464.3 559.6 L465.6 558.5 L467.0 559.6 L468.3 560.0 L469.6 560.9 L471.0 561.8 L472.3 562.9 L473.7 563.6 L475.2 563.2 L476.6 563.3 L478.1 563.5 L479.6 563.6 L481.1 562.7 L482.5 562.5 L484.0 563.3 L485.4 562.9 L486.9 563.0 L488.4 562.2 L489.9 563.7 L491.3 563.8 L492.7 562.0 L494.0 562.7 L495.2 563.0 L496.3 566.2 L497.5 566.2 L498.7 568.1 L499.9 568.1 L501.2 568.6 L502.6 569.7 L504.0 571.6 L505.5 572.4 L506.9 571.0 L508.4 571.1 L509.9 571.7 L511.3 572.6 L512.8 572.4 L514.3 571.0 L515.8 570.9 L517.3 570.7 L518.6 570.9 L519.9 570.2 L521.2 569.3 L522.5 568.2 L523.9 567.0 L525.2 566.1 L526.7 567.3 L528.2 567.3 L529.7 567.1 L531.2 565.5 L532.6 566.3 L534.1 568.5 L535.5 567.8 L536.4 567.3 L537.2 564.5 L537.9 563.1 L538.6 562.1 L539.4 560.2 L540.1 559.7 L540.7 559.8 L541.5 559.1 L542.7 559.1 L543.2 560.1 L543.7 561.8 L544.0 560.8 L544.4 562.2 L544.8 564.1 L545.3 565.4 L545.8 567.3 L546.2 568.5 L546.6 570.2 L547.1 572.8 L547.7 574.1 L548.4 575.4 L549.4 576.3 L550.5 577.3 L551.6 577.0 L552.9 576.3 L554.2 579.3 L555.6 580.5 L556.9 580.9 L558.2 580.8 L559.5 581.2 L560.8 581.6 L562.1 582.7 L563.4 583.1 L564.7 585.2 L566.0 586.1 L567.3 586.1 L568.6 587.0 L569.9 587.4 L571.2 588.3 L572.4 589.6 L573.6 590.0 L574.9 591.7 L576.1 592.9 L577.3 594.0 L578.4 595.1 L579.6 595.4 L580.8 596.5 L581.9 596.9 L583.0 598.0 L584.1 597.7 L585.2 598.4 L586.3 600.1 L587.3 600.4 L588.2 602.6 L589.1 604.1 L590.0 604.2 L590.8 606.1 L591.6 608.1 L592.4 609.3 L593.2 610.0 L594.0 612.0 L594.8 611.1 L595.7 612.9 L596.6 614.0 L597.6 614.7 L598.7 618.6 L599.8 619.2 L601.0 620.2 L602.2 619.9 L603.4 621.3 L604.6 622.6 L605.9 623.1 L607.1 623.9 L608.4 625.5 L609.7 626.3 L611.0 627.6 L612.2 627.3 L613.5 629.5 L614.8 629.4 L616.1 630.7 L617.4 631.0 L618.7 630.0 L620.0 631.2 L621.3 631.8 L622.6 633.9 L623.7 634.9 L624.8 635.5 L625.7 636.7 L626.6 638.0 L627.4 638.8 L628.3 640.5 L629.1 640.8 L630.0 642.1 L631.0 643.2 L632.1 644.0 L633.4 646.9 L634.9 645.8 L636.4 645.9 L637.8 645.7 L639.3 643.5 L640.7 643.0 L642.1 642.4 L643.4 643.3 L644.7 642.9 L645.6 640.9 L646.2 638.7 L646.7 636.4 L647.1 636.5 L647.6 635.0 L648.0 632.7 L648.4 631.2 L648.9 629.3 L649.3 630.2 L649.7 629.4 L650.1 627.8 L650.4 625.9 L650.8 624.8 L651.2 623.3 L652.0 622.6 L652.9 623.5 L653.4 624.6 L653.8 626.1 L654.2 627.5 L654.6 628.2 L654.9 630.5 L655.3 631.9 L655.7 633.7 L656.0 632.4 L656.3 634.9 L656.6 635.8 L656.9 637.6 L657.2 639.5 L657.5 639.9 L657.8 641.4 L658.0 643.8 L658.3 644.5 L658.5 646.0 L658.7 648.1 L659.0 649.3 L659.2 651.2 L659.4 652.6 L659.7 654.0 L659.9 655.9 L660.2 657.8 L660.5 658.4 L660.8 660.5 L661.1 661.8 L661.5 662.9 L662.1 664.4 L662.7 666.1 L663.3 667.6 L664.0 669.3 L664.7 670.5 L665.5 672.3 L666.4 672.2 L667.3 673.8 L668.3 674.7 L669.5 677.4 L670.9 678.7 L672.2 678.3 L673.7 678.8 L675.1 678.6 L676.6 678.1 L678.1 679.0 L679.5 679.0 L680.9 680.7 L682.2 681.3 L683.4 679.6 L684.7 680.4 L685.9 680.7 L687.1 684.1 L688.4 685.2 L689.7 685.9 L691.2 686.2 L692.6 687.5 L694.1 686.7 L695.6 686.2 L697.1 686.0 L698.6 686.9 L700.0 686.3 L701.5 688.3 L702.9 689.1 L704.2 691.1 L705.4 692.0 L706.6 693.0 L707.8 691.9 L709.1 692.8 L710.3 693.5 L711.7 692.7 L713.1 693.7 L714.5 696.7 L715.9 696.9 L717.4 695.1 L718.8 695.0 L720.3 695.6 L721.7 696.8 L723.2 698.7 L724.7 698.0 L726.1 697.5 L727.6 699.9 L729.1 699.8 L730.6 700.3 L732.1 699.4 L733.5 699.1 L734.9 701.1 L736.3 702.0 L737.7 701.2 L739.1 702.0 L740.4 702.6 L741.8 701.4 L743.2 702.7 L744.6 702.8 L746.1 702.6 L747.5 703.8 L749.0 704.6 L750.4 705.4 L751.9 707.5 L753.3 708.4 L754.8 707.6 L756.2 707.9 L757.6 708.7 L759.0 708.9 L760.5 709.6 L761.9 708.9 L763.4 709.0 L764.8 710.7 L766.3 711.6 L767.7 711.7 L769.2 711.9 L770.7 712.1 L772.2 712.2 L773.7 712.6 L775.1 711.1 L776.6 712.1 L778.1 711.6 L779.5 714.2 L781.0 714.0 L782.5 715.2 L784.0 714.7 L785.4 713.8 L786.9 713.1 L788.3 714.1 L789.7 717.7 L791.2 717.9 L792.6 717.8 L794.0 717.6 L795.5 717.6 L797.0 716.9 L798.5 717.2 L799.9 715.6 L801.4 716.9 L802.9 719.5 L804.4 719.3 L805.9 719.2 L807.4 718.9 L808.9 719.2 L810.4 718.5 L811.9 717.5 L813.4 717.0 L814.9 716.1 L816.4 720.4 L817.9 720.6 L819.4 718.8 L820.9 718.2 L822.4 718.0 L823.9 717.8 L825.4 718.6 L826.9 720.7 L828.4 720.9 L829.9 720.5 L831.4 720.8 L832.9 720.4 L834.4 721.0 L835.9 720.6 L837.4 719.4 L838.9 719.0 L840.4 719.9 L841.8 719.6 L843.3 717.2 L844.7 716.4 L846.0 716.1 L847.3 717.2 L848.5 715.9 L849.6 714.6 L850.9 713.3 L852.2 712.3 L853.7 713.3 L854.9 713.4 L856.0 714.2 L857.0 716.1 L857.9 716.3 L858.9 717.8 L859.9 720.5 L861.1 721.6 L862.4 722.1 L863.7 722.7 L865.1 723.8 L866.5 723.3 L867.8 723.6 L869.1 725.8 L870.4 726.7 L871.7 727.8 L872.7 728.4 L873.8 728.6 L875.2 729.4 L876.6 727.8 L877.9 727.4 L879.0 725.8 L880.0 724.3 L881.0 723.3 L882.0 722.5 L883.0 720.6 L884.0 720.8 L885.1 720.7 L886.1 719.1 L887.0 718.1 L888.0 717.3 L889.0 716.4 L889.9 715.5 L890.8 713.5 L891.7 712.3 L892.9 712.0 L894.1 712.9 L894.8 713.5 L895.4 715.2 L895.9 716.9 L896.4 718.8 L897.1 719.4 L897.7 719.2 L898.3 720.7 L899.0 721.8 L899.7 723.1 L900.4 724.6 L901.4 726.9 L902.3 727.9 L903.3 728.7 L904.4 729.7 L905.7 729.9 L907.1 731.2 L908.6 730.6 L910.1 730.4 L911.6 732.5 L913.1 733.9 L914.6 731.1 L916.1 731.9 L917.6 732.1 L919.1 731.5 L920.6 730.8 L922.1 731.7 L923.6 731.7 L925.1 732.6 L926.5 733.3 L928.0 732.7 L929.4 732.7 L930.9 732.8 L932.4 733.9 L933.9 735.6 L935.4 733.4 L936.9 732.7 L938.4 734.4 L939.9 734.9 L941.4 734.3 L942.9 733.3 L944.4 734.6 L945.9 734.5 L947.4 734.4 L948.9 733.9 L950.4 732.6 L951.9 733.2 L953.4 733.2 L954.9 734.2 L956.4 733.6 L957.9 733.7 L959.4 733.7 L960.9 734.1 L962.4 735.0 L963.8 735.3 L965.3 735.7 L966.8 736.7 L968.3 736.1 L969.8 737.6 L971.3 738.0 L972.8 737.1 L974.3 736.8 L975.8 735.5 L977.3 736.3 L978.8 735.9 L980.3 737.7 L981.8 736.9 L983.3 735.0 L984.8 736.0 L986.3 738.3 L987.8 737.7 L989.3 737.0 L990.8 736.8 L992.3 737.4 L993.8 734.9 L995.3 734.7 L996.8 736.3 L998.3 735.8 L999.8 737.1 L1001.3 737.0 L1002.8 733.1 L1004.3 733.8 L1005.8 733.6 L1007.4 734.9 L1008.9 735.0 L1010.4 735.6 L1011.9 734.8 L1013.4 733.8 L1014.9 734.0 L1016.4 734.8 L1017.9 734.6 L1019.4 734.7 L1020.9 734.9 L1022.4 734.2 L1023.9 735.8 L1025.4 735.4 L1026.9 736.0 L1028.4 734.8 L1029.9 735.2 L1031.4 737.6 L1032.9 737.2 L1034.4 734.6 L1035.9 734.5 L1037.4 736.2 L1038.9 735.6 L1040.4 735.1 L1041.9 735.1 L1043.4 734.5 L1044.9 735.4 L1046.4 735.0 L1047.9 733.9 L1049.4 733.9 L1050.9 732.8 L1052.3 731.9 L1053.8 733.3 L1055.3 732.2 L1056.8 732.3 L1058.2 734.4 L1059.7 733.5 L1061.2 734.6 L1062.7 733.8 L1064.2 732.8 L1065.7 732.2 L1067.2 732.9 L1068.7 732.1 L1070.1 732.2 L1071.6 730.6 L1073.1 730.3 L1074.5 731.8 L1075.6 730.6 L1076.4 729.4 L1077.2 727.9 L1077.9 725.8 L1078.7 725.6 L1079.5 724.9 L1080.4 723.3 L1081.6 721.4 L1083.1 720.2 L1084.5 719.6 L1086.0 719.3 L1087.5 719.8 L1089.0 718.7 L1090.4 718.9 L1091.8 722.1 L1093.1 722.2 L1094.3 723.6 L1095.6 723.1 L1096.9 724.0 L1098.2 724.8 L1099.5 725.1 L1100.7 726.4 L1102.1 727.5 L1103.6 727.0 L1105.1 728.1 L1106.5 726.4 L1108.0 726.5 L1109.5 725.7 L1110.9 724.1 L1112.4 724.5 L1113.9 724.2 L1115.3 723.4 L1116.8 723.3 L1118.3 723.0 L1119.8 722.1 L1121.2 722.2 L1122.7 723.2 L1124.1 723.1 L1125.6 724.7 L1127.1 724.9 L1128.6 721.6 L1130.1 720.8 L1131.6 720.8 L1133.1 723.3 L1134.6 723.2 L1136.1 722.8 L1137.5 722.9 L1139.0 721.4 L1140.5 721.0 L1141.9 721.3 L1143.4 721.1 L1144.9 721.4 L1146.4 720.9 L1147.9 720.3 L1149.4 721.7 L1150.9 722.6 L1152.3 721.8 L1153.8 722.6 L1155.3 722.2 L1156.8 723.0 L1158.2 721.7 L1159.7 722.2 L1161.1 722.4 L1162.6 720.2 L1164.1 720.6 L1165.6 720.2 L1167.0 720.7 L1168.4 720.5 L1169.9 722.4 L1171.3 722.0 L1172.7 723.7 L1174.1 725.5 L1175.5 725.2 L1176.9 724.9 L1178.3 725.9 L1179.7 726.8 L1181.1 726.4 L1182.5 727.3 L1183.9 727.0 L1185.4 727.4 L1186.8 729.0 L1188.3 729.0 L1189.7 730.0 L1191.2 730.5 L1192.7 730.4 L1194.1 730.0 L1195.6 730.4 L1197.1 732.6 L1198.6 732.7 L1200.1 730.9 L1201.6 731.2 L1203.1 731.4 L1204.6 730.9 L1206.1 731.1 L1207.6 730.0 L1209.1 731.1 L1210.5 732.6 L1212.0 733.7 L1213.5 732.2 L1215.0 732.9 L1216.5 733.4 L1218.0 733.4 L1219.4 734.8 L1220.9 734.5 L1222.3 734.7 L1223.8 736.5 L1225.2 736.5 L1226.7 737.2 L1228.1 736.8 L1229.6 737.9 L1231.1 736.6 L1232.5 736.9 L1234.0 737.2 L1235.5 738.4 L1237.0 738.7 L1238.5 738.8 L1240.0 738.9 L1241.5 737.0 L1242.9 737.7 L1244.4 740.4 L1245.9 739.9 L1247.4 739.6 L1248.9 740.6 L1250.4 740.6 L1251.9 740.7 L1253.3 741.1 L1254.8 739.6 L1256.3 740.3 L1257.8 740.8 L1259.3 741.3 L1260.8 741.9 L1262.2 740.5 L1263.7 740.5 L1265.1 742.8 L1266.6 743.0 L1268.0 742.5 L1269.5 742.3 L1270.9 743.1 L1272.4 744.4 L1273.8 744.9 L1275.3 744.2 L1276.8 744.7 L1278.3 745.1 L1279.8 745.2 L1281.3 745.7 L1282.8 746.2 L1284.3 746.4 L1285.8 744.6 L1287.3 744.7 L1288.8 746.1 L1290.3 746.4 L1291.8 743.4 L1293.3 743.6 L1294.8 744.5 L1296.3 744.3 L1297.7 744.0 L1299.2 747.1 L1300.7 746.9 L1302.1 747.6 L1303.6 748.3 L1305.1 748.6 L1306.5 749.1 L1308.0 748.7 L1309.4 748.2 L1310.9 748.2 L1312.3 749.7 L1313.8 749.8 L1315.2 751.6 L1316.7 751.7 L1318.1 752.0 L1319.6 753.5 L1321.1 753.5 L1322.6 752.0 L1324.1 753.0 L1325.5 753.4 L1327.0 753.9 L1328.5 754.5 L1330.0 753.5 L1331.5 752.6 L1333.0 753.5 L1334.5 754.1 L1336.0 753.6 L1337.5 753.7 L1339.0 753.9 L1340.5 754.8 L1342.0 754.2 L1343.5 752.8 L1345.0 752.4 L1346.5 752.6 L1348.0 752.2 L1349.5 753.0 L1351.0 753.6 L1352.5 753.6 L1354.0 755.4 L1355.5 756.0 L1356.9 754.4 L1358.4 755.0 L1359.8 755.0 L1361.2 755.3 L1362.7 756.1 L1364.1 755.9 L1365.5 756.6 L1367.0 758.2 L1368.5 759.1 L1369.9 758.2 L1371.4 757.9 L1372.9 758.9 L1374.4 760.0 L1375.8 760.6 L1377.3 760.0 L1377.3 770.0 L1375.8 770.6 L1374.4 770.0 L1372.9 768.9 L1371.4 767.9 L1369.9 768.2 L1368.5 769.1 L1367.0 768.2 L1365.5 766.6 L1364.1 765.9 L1362.7 766.1 L1361.2 765.3 L1359.8 765.0 L1358.4 765.0 L1356.9 764.4 L1355.5 766.0 L1354.0 765.4 L1352.5 763.6 L1351.0 763.6 L1349.5 763.0 L1348.0 762.2 L1346.5 762.6 L1345.0 762.4 L1343.5 762.8 L1342.0 764.2 L1340.5 764.8 L1339.0 763.9 L1337.5 763.7 L1336.0 763.6 L1334.5 764.1 L1333.0 763.5 L1331.5 762.6 L1330.0 763.5 L1328.5 764.5 L1327.0 763.9 L1325.5 763.4 L1324.1 763.0 L1322.6 762.0 L1321.1 763.5 L1319.6 763.5 L1318.1 762.0 L1316.7 761.7 L1315.2 761.6 L1313.8 759.8 L1312.3 759.7 L1310.9 758.2 L1309.4 758.2 L1308.0 758.7 L1306.5 759.1 L1305.1 758.6 L1303.6 758.3 L1302.1 757.6 L1300.7 756.9 L1299.2 757.1 L1297.7 754.0 L1296.3 754.3 L1294.8 754.5 L1293.3 753.6 L1291.8 753.4 L1290.3 756.4 L1288.8 756.1 L1287.3 754.7 L1285.8 754.6 L1284.3 756.4 L1282.8 756.2 L1281.3 755.7 L1279.8 755.2 L1278.3 755.1 L1276.8 754.7 L1275.3 754.2 L1273.8 754.9 L1272.4 754.4 L1270.9 753.1 L1269.5 752.3 L1268.0 752.5 L1266.6 753.0 L1265.1 752.8 L1263.7 750.5 L1262.2 750.5 L1260.8 751.9 L1259.3 751.3 L1257.8 750.8 L1256.3 750.3 L1254.8 749.6 L1253.3 751.1 L1251.9 750.7 L1250.4 750.6 L1248.9 750.6 L1247.4 749.6 L1245.9 749.9 L1244.4 750.4 L1242.9 747.7 L1241.5 747.0 L1240.0 748.9 L1238.5 748.8 L1237.0 748.7 L1235.5 748.4 L1234.0 747.2 L1232.5 746.9 L1231.1 746.6 L1229.6 747.9 L1228.1 746.8 L1226.7 747.2 L1225.2 746.5 L1223.8 746.5 L1222.3 744.7 L1220.9 744.5 L1219.4 744.8 L1218.0 743.4 L1216.5 743.4 L1215.0 742.9 L1213.5 742.2 L1212.0 743.7 L1210.5 742.6 L1209.1 741.1 L1207.6 740.0 L1206.1 741.1 L1204.6 740.9 L1203.1 741.4 L1201.6 741.2 L1200.1 740.9 L1198.6 742.7 L1197.1 742.6 L1195.6 740.4 L1194.1 740.0 L1192.7 740.4 L1191.2 740.5 L1189.7 740.0 L1188.3 739.0 L1186.8 739.0 L1185.4 737.4 L1183.9 737.0 L1182.5 737.3 L1181.1 736.4 L1179.7 736.8 L1178.3 735.9 L1176.9 734.9 L1175.5 735.2 L1174.1 735.5 L1172.7 733.7 L1171.3 732.0 L1169.9 732.4 L1168.4 730.5 L1167.0 730.7 L1165.6 730.2 L1164.1 730.6 L1162.6 730.2 L1161.1 732.4 L1159.7 732.2 L1158.2 731.7 L1156.8 733.0 L1155.3 732.2 L1153.8 732.6 L1152.3 731.8 L1150.9 732.6 L1149.4 731.7 L1147.9 730.3 L1146.4 730.9 L1144.9 731.4 L1143.4 731.1 L1141.9 731.3 L1140.5 731.0 L1139.0 731.4 L1137.5 732.9 L1136.1 732.8 L1134.6 733.2 L1133.1 733.3 L1131.6 730.8 L1130.1 730.8 L1128.6 731.6 L1127.1 734.9 L1125.6 734.7 L1124.1 733.1 L1122.7 733.2 L1121.2 732.2 L1119.8 732.1 L1118.3 733.0 L1116.8 733.3 L1115.3 733.4 L1113.9 734.2 L1112.4 734.5 L1110.9 734.1 L1109.5 735.7 L1108.0 736.5 L1106.5 736.4 L1105.1 738.1 L1103.6 737.0 L1102.1 737.5 L1100.7 736.4 L1099.5 735.1 L1098.2 734.8 L1096.9 734.0 L1095.6 733.1 L1094.3 733.6 L1093.1 732.2 L1091.8 732.1 L1090.4 728.9 L1089.0 728.7 L1087.5 729.8 L1086.0 729.3 L1084.5 729.6 L1083.1 730.2 L1081.6 731.4 L1080.4 733.3 L1079.5 734.9 L1078.7 735.6 L1077.9 735.8 L1077.2 737.9 L1076.4 739.4 L1075.6 740.6 L1074.5 741.8 L1073.1 740.3 L1071.6 740.6 L1070.1 742.2 L1068.7 742.1 L1067.2 742.9 L1065.7 742.2 L1064.2 742.8 L1062.7 743.8 L1061.2 744.6 L1059.7 743.5 L1058.2 744.4 L1056.8 742.3 L1055.3 742.2 L1053.8 743.3 L1052.3 741.9 L1050.9 742.8 L1049.4 743.9 L1047.9 743.9 L1046.4 745.0 L1044.9 745.4 L1043.4 744.5 L1041.9 745.1 L1040.4 745.1 L1038.9 745.6 L1037.4 746.2 L1035.9 744.5 L1034.4 744.6 L1032.9 747.2 L1031.4 747.6 L1029.9 745.2 L1028.4 744.8 L1026.9 746.0 L1025.4 745.4 L1023.9 745.8 L1022.4 744.2 L1020.9 744.9 L1019.4 744.7 L1017.9 744.6 L1016.4 744.8 L1014.9 744.0 L1013.4 743.8 L1011.9 744.8 L1010.4 745.6 L1008.9 745.0 L1007.4 744.9 L1005.8 743.6 L1004.3 743.8 L1002.8 743.1 L1001.3 747.0 L999.8 747.1 L998.3 745.8 L996.8 746.3 L995.3 744.7 L993.8 744.9 L992.3 747.4 L990.8 746.8 L989.3 747.0 L987.8 747.7 L986.3 748.3 L984.8 746.0 L983.3 745.0 L981.8 746.9 L980.3 747.7 L978.8 745.9 L977.3 746.3 L975.8 745.5 L974.3 746.8 L972.8 747.1 L971.3 748.0 L969.8 747.6 L968.3 746.1 L966.8 746.7 L965.3 745.7 L963.8 745.3 L962.4 745.0 L960.9 744.1 L959.4 743.7 L957.9 743.7 L956.4 743.6 L954.9 744.2 L953.4 743.2 L951.9 743.2 L950.4 742.6 L948.9 743.9 L947.4 744.4 L945.9 744.5 L944.4 744.6 L942.9 743.3 L941.4 744.3 L939.9 744.9 L938.4 744.4 L936.9 742.7 L935.4 743.4 L933.9 745.6 L932.4 743.9 L930.9 742.8 L929.4 742.7 L928.0 742.7 L926.5 743.3 L925.1 742.6 L923.6 741.7 L922.1 741.7 L920.6 740.8 L919.1 741.5 L917.6 742.1 L916.1 741.9 L914.6 741.1 L913.1 743.9 L911.6 742.5 L910.1 740.4 L908.6 740.6 L907.1 741.2 L905.7 739.9 L904.4 739.7 L903.3 738.7 L902.3 737.9 L901.4 736.9 L900.4 734.6 L899.7 733.1 L899.0 731.8 L898.3 730.7 L897.7 729.2 L897.1 729.4 L896.4 728.8 L895.9 726.9 L895.4 725.2 L894.8 723.5 L894.1 722.9 L892.9 722.0 L891.7 722.3 L890.8 723.5 L889.9 725.5 L889.0 726.4 L888.0 727.3 L887.0 728.1 L886.1 729.1 L885.1 730.7 L884.0 730.8 L883.0 730.6 L882.0 732.5 L881.0 733.3 L880.0 734.3 L879.0 735.8 L877.9 737.4 L876.6 737.8 L875.2 739.4 L873.8 738.6 L872.7 738.4 L871.7 737.8 L870.4 736.7 L869.1 735.8 L867.8 733.6 L866.5 733.3 L865.1 733.8 L863.7 732.7 L862.4 732.1 L861.1 731.6 L859.9 730.5 L858.9 727.8 L857.9 726.3 L857.0 726.1 L856.0 724.2 L854.9 723.4 L853.7 723.3 L852.2 722.3 L850.9 723.3 L849.6 724.6 L848.5 725.9 L847.3 727.2 L846.0 726.1 L844.7 726.4 L843.3 727.2 L841.8 729.6 L840.4 729.9 L838.9 729.0 L837.4 729.4 L835.9 730.6 L834.4 731.0 L832.9 730.4 L831.4 730.8 L829.9 730.5 L828.4 730.9 L826.9 730.7 L825.4 728.6 L823.9 727.8 L822.4 728.0 L820.9 728.2 L819.4 728.8 L817.9 730.6 L816.4 730.4 L814.9 726.1 L813.4 727.0 L811.9 727.5 L810.4 728.5 L808.9 729.2 L807.4 728.9 L805.9 729.2 L804.4 729.3 L802.9 729.5 L801.4 726.9 L799.9 725.6 L798.5 727.2 L797.0 726.9 L795.5 727.6 L794.0 727.6 L792.6 727.8 L791.2 727.9 L789.7 727.7 L788.3 724.1 L786.9 723.1 L785.4 723.8 L784.0 724.7 L782.5 725.2 L781.0 724.0 L779.5 724.2 L778.1 721.6 L776.6 722.1 L775.1 721.1 L773.7 722.6 L772.2 722.2 L770.7 722.1 L769.2 721.9 L767.7 721.7 L766.3 721.6 L764.8 720.7 L763.4 719.0 L761.9 718.9 L760.5 719.6 L759.0 718.9 L757.6 718.7 L756.2 717.9 L754.8 717.6 L753.3 718.4 L751.9 717.5 L750.4 715.4 L749.0 714.6 L747.5 713.8 L746.1 712.6 L744.6 712.8 L743.2 712.7 L741.8 711.4 L740.4 712.6 L739.1 712.0 L737.7 711.2 L736.3 712.0 L734.9 711.1 L733.5 709.1 L732.1 709.4 L730.6 710.3 L729.1 709.8 L727.6 709.9 L726.1 707.5 L724.7 708.0 L723.2 708.7 L721.7 706.8 L720.3 705.6 L718.8 705.0 L717.4 705.1 L715.9 706.9 L714.5 706.7 L713.1 703.7 L711.7 702.7 L710.3 703.5 L709.1 702.8 L707.8 701.9 L706.6 703.0 L705.4 702.0 L704.2 701.1 L702.9 699.1 L701.5 698.3 L700.0 696.3 L698.6 696.9 L697.1 696.0 L695.6 696.2 L694.1 696.7 L692.6 697.5 L691.2 696.2 L689.7 695.9 L688.4 695.2 L687.1 694.1 L685.9 690.7 L684.7 690.4 L683.4 689.6 L682.2 691.3 L680.9 690.7 L679.5 689.0 L678.1 689.0 L676.6 688.1 L675.1 688.6 L673.7 688.8 L672.2 688.3 L670.9 688.7 L669.5 687.4 L668.3 684.7 L667.3 683.8 L666.4 682.2 L665.5 682.3 L664.7 680.5 L664.0 679.3 L663.3 677.6 L662.7 676.1 L662.1 674.4 L661.5 672.9 L661.1 671.8 L660.8 670.5 L660.5 668.4 L660.2 667.8 L659.9 665.9 L659.7 664.0 L659.4 662.6 L659.2 661.2 L659.0 659.3 L658.7 658.1 L658.5 656.0 L658.3 654.5 L658.0 653.8 L657.8 651.4 L657.5 649.9 L657.2 649.5 L656.9 647.6 L656.6 645.8 L656.3 644.9 L656.0 642.4 L655.7 643.7 L655.3 641.9 L654.9 640.5 L654.6 638.2 L654.2 637.5 L653.8 636.1 L653.4 634.6 L652.9 633.5 L652.0 632.6 L651.2 633.3 L650.8 634.8 L650.4 635.9 L650.1 637.8 L649.7 639.4 L649.3 640.2 L648.9 639.3 L648.4 641.2 L648.0 642.7 L647.6 645.0 L647.1 646.5 L646.7 646.4 L646.2 648.7 L645.6 650.9 L644.7 652.9 L643.4 653.3 L642.1 652.4 L640.7 653.0 L639.3 653.5 L637.8 655.7 L636.4 655.9 L634.9 655.8 L633.4 656.9 L632.1 654.0 L631.0 653.2 L630.0 652.1 L629.1 650.8 L628.3 650.5 L627.4 648.8 L626.6 648.0 L625.7 646.7 L624.8 645.5 L623.7 644.9 L622.6 643.9 L621.3 641.8 L620.0 641.2 L618.7 640.0 L617.4 641.0 L616.1 640.7 L614.8 639.4 L613.5 639.5 L612.2 637.3 L611.0 637.6 L609.7 636.3 L608.4 635.5 L607.1 633.9 L605.9 633.1 L604.6 632.6 L603.4 631.3 L602.2 629.9 L601.0 630.2 L599.8 629.2 L598.7 628.6 L597.6 624.7 L596.6 624.0 L595.7 622.9 L594.8 621.1 L594.0 622.0 L593.2 620.0 L592.4 619.3 L591.6 618.1 L590.8 616.1 L590.0 614.2 L589.1 614.1 L588.2 612.6 L587.3 610.4 L586.3 610.1 L585.2 608.4 L584.1 607.7 L583.0 608.0 L581.9 606.9 L580.8 606.5 L579.6 605.4 L578.4 605.1 L577.3 604.0 L576.1 602.9 L574.9 601.7 L573.6 600.0 L572.4 599.6 L571.2 598.3 L569.9 597.4 L568.6 597.0 L567.3 596.1 L566.0 596.1 L564.7 595.2 L563.4 593.1 L562.1 592.7 L560.8 591.6 L559.5 591.2 L558.2 590.8 L556.9 590.9 L555.6 590.5 L554.2 589.3 L552.9 586.3 L551.6 587.0 L550.5 587.3 L549.4 586.3 L548.4 585.4 L547.7 584.1 L547.1 582.8 L546.6 580.2 L546.2 578.5 L545.8 577.3 L545.3 575.4 L544.8 574.1 L544.4 572.2 L544.0 570.8 L543.7 571.8 L543.2 570.1 L542.7 569.1 L541.5 569.1 L540.7 569.8 L540.1 569.7 L539.4 570.2 L538.6 572.1 L537.9 573.1 L537.2 574.5 L536.4 577.3 L535.5 577.8 L534.1 578.5 L532.6 576.3 L531.2 575.5 L529.7 577.1 L528.2 577.3 L526.7 577.3 L525.2 576.1 L523.9 577.0 L522.5 578.2 L521.2 579.3 L519.9 580.2 L518.6 580.9 L517.3 580.7 L515.8 580.9 L514.3 581.0 L512.8 582.4 L511.3 582.6 L509.9 581.7 L508.4 581.1 L506.9 581.0 L505.5 582.4 L504.0 581.6 L502.6 579.7 L501.2 578.6 L499.9 578.1 L498.7 578.1 L497.5 576.2 L496.3 576.2 L495.2 573.0 L494.0 572.7 L492.7 572.0 L491.3 573.8 L489.9 573.7 L488.4 572.2 L486.9 573.0 L485.4 572.9 L484.0 573.3 L482.5 572.5 L481.1 572.7 L479.6 573.6 L478.1 573.5 L476.6 573.3 L475.2 573.2 L473.7 573.6 L472.3 572.9 L471.0 571.8 L469.6 570.9 L468.3 570.0 L467.0 569.6 L465.6 568.5 L464.3 569.6 L462.9 569.1 L461.6 568.5 L460.2 567.7 L458.9 567.1 L457.6 565.4 L456.3 564.5 L454.9 565.0 L453.6 563.7 L452.3 563.1 L450.9 561.2 L449.5 561.1 L448.1 561.6 L446.7 560.4 L445.3 559.1 L444.0 559.9 L442.6 559.2 L441.4 558.7 L440.1 559.0 L439.1 557.1 L438.2 553.5 L437.5 552.5 L436.7 552.0 L435.9 550.0 L435.1 548.7 L434.0 548.1 L432.9 547.7 L431.7 546.2 L430.5 546.9 L429.2 546.0 L427.9 541.9 L426.6 541.6 L425.3 540.4 L424.0 541.7 L422.7 542.0 L421.4 540.5 L420.2 538.8 L419.0 537.7 L417.9 539.0 L416.8 537.1 L415.8 537.6 L414.8 535.5 L413.8 532.6 L412.8 531.3 L411.7 530.7 L410.7 531.7 L409.6 530.5 L408.4 529.1 L407.1 526.4 L405.7 526.6 L404.2 526.7 L402.9 528.3 L401.9 528.2 L401.2 530.5 L400.9 531.6 L400.7 535.5 L400.5 536.1 L400.2 537.6 L399.6 539.8 L399.1 537.5 L398.8 536.6 L398.5 534.2 L398.3 533.1 L398.0 532.8 L397.8 530.5 L397.4 527.3 L397.1 525.2 L396.7 524.8 L396.4 522.5 L396.0 522.0 L395.7 520.2 L395.2 518.6 L394.6 517.3 L394.0 515.2 L393.2 515.1 L392.5 514.1 L391.6 512.3 L390.8 510.8 L389.9 509.1 L388.9 507.0 L387.9 507.4 L386.9 506.3 L385.8 504.5 L384.7 503.3 L383.5 500.8 L382.4 500.3 L381.3 499.0 L380.1 498.6 L379.0 497.5 L377.9 496.7 L376.8 496.3 L375.6 494.9 L374.4 494.2 L373.2 493.0 L372.0 492.6 L370.8 492.0 L369.6 490.4 L368.4 489.7 L367.3 488.9 L366.2 488.0 L365.2 487.7 L364.2 485.5 L363.2 484.8 L362.2 484.6 L361.3 482.7 L360.3 481.5 L359.3 479.5 L358.2 478.9 L357.1 477.6 L355.9 478.1 L354.5 477.3 L353.1 476.2 L351.6 475.5 L350.1 475.1 L348.7 476.0 L347.2 476.0 L345.8 473.9 L344.5 473.2 L344.0 471.9 L343.6 469.7 L343.2 468.9 L342.9 469.2 L342.6 467.6 L342.4 466.7 L342.1 465.0 L341.9 463.0 L341.7 461.7 L341.4 459.6 L341.2 458.4 L341.0 457.3 L340.7 455.5 L340.5 454.7 L340.3 452.9 L340.1 452.0 L339.8 450.0 L339.7 448.2 L339.5 447.1 L339.3 444.0 L339.2 444.0 L339.0 441.6 L338.9 440.2 L338.8 437.9 L338.6 436.9 L338.5 435.8 L338.3 434.1 L338.1 432.3 L337.9 430.7 L337.5 429.9 L336.7 431.2 L336.3 431.6 L336.0 433.1 L335.7 434.7 L335.5 436.0 L335.2 437.0 L335.0 438.8 L334.7 439.9 L334.5 441.8 L334.2 442.8 L333.9 445.2 L333.6 446.2 L333.3 447.9 L333.0 448.7 L332.7 450.7 L332.4 453.1 L332.1 454.3 L331.8 455.8 L331.5 456.4 L331.2 458.5 L330.9 460.0 L330.6 461.4 L330.2 463.5 L329.9 464.6 L329.5 465.4 L329.1 467.3 L328.8 468.2 L328.4 469.3 L328.1 470.6 L327.7 472.8 L327.3 474.6 L327.0 475.8 L326.6 476.7 L326.2 478.2 L325.8 480.6 L325.4 482.4 L324.9 483.2 L324.5 486.0 L323.9 486.7 L323.3 487.2 L322.6 490.1 L321.7 490.2 L320.6 491.9 L319.3 492.3 L318.1 492.3 L317.1 493.4 L316.2 494.9 L315.4 496.3 L314.7 497.5 L314.0 498.9 L313.3 500.3 L312.5 501.9 L311.6 503.4 L310.6 504.8 L309.6 505.7 L308.6 506.6 L307.6 507.5 L306.6 509.1 L305.6 510.5 L304.7 512.9 L303.9 513.7 L303.2 514.8 L302.5 516.4 L301.8 515.3 L301.0 517.2 L300.2 518.0 L299.3 519.1 L298.3 519.4 L297.3 520.8 L296.2 521.3 L295.1 523.9 L294.0 525.2 L292.9 525.2 L291.9 527.9 L290.9 528.2 L289.8 529.3 L288.8 531.6 L287.8 530.9 L286.9 531.9 L285.9 532.9 L284.9 535.5 L283.9 536.0 L283.0 537.0 L282.0 537.8 L281.1 541.4 L280.2 542.7 L279.3 543.8 L278.4 543.7 L277.6 545.1 L276.8 545.4 L276.0 547.8 L275.2 548.2 L274.4 550.4 L273.6 552.3 L272.8 553.3 L272.0 555.0 L271.1 552.9 L270.1 553.6 L269.0 554.7 L267.8 557.3 L266.5 557.2 L265.2 558.0 L263.9 558.4 L262.6 558.9 L261.3 562.4 L260.1 563.6 L258.9 564.3 L257.7 564.2 L256.4 565.3 L255.2 565.8 L254.0 566.6 L252.8 567.4 L251.5 568.8 L250.2 568.8 L248.8 569.9 L247.4 571.8 L246.1 572.1 L244.7 572.1 L243.3 571.3 L241.9 572.3 L240.6 573.8 L239.3 574.6 L238.0 574.9 L236.7 576.0 L235.4 576.1 L233.9 579.4 L232.4 578.4 L230.9 579.1 L229.4 578.3 L227.9 577.9 L226.4 577.4 L224.9 577.7 L223.5 576.9 L222.1 577.0 L220.8 576.5 L219.6 574.5 L218.6 573.5 L217.8 572.4 L217.0 569.1 L216.1 568.2 L215.4 566.9 L214.4 566.0 L213.0 567.3 L211.9 570.2 L210.9 570.7 L209.9 571.6 L209.0 573.0 L208.2 574.1 L207.4 574.9 L206.6 573.8 L205.4 574.4 L204.1 575.5 L202.8 579.0 L201.4 579.8 L199.9 578.7 L198.5 579.3 L197.0 579.0 L195.6 578.9 L194.1 578.6 L192.7 576.8 L191.2 577.0 L189.7 575.1 L188.2 575.6 L186.7 575.7 L185.3 574.8 L183.8 575.9 L182.4 577.5 L181.1 576.1 L179.8 574.2 L178.5 573.4 L177.1 572.7 L175.7 571.5 L174.3 570.4 L173.0 569.7 L171.6 569.3 L170.3 568.4 L169.1 569.6 L167.9 568.7 L166.7 567.6 L165.6 565.3 L164.7 565.3 L163.8 562.8 L163.0 561.9 L162.3 561.4 L161.6 559.4 L161.1 558.1 L160.8 556.2 L160.5 555.1 L160.2 554.4 L160.0 552.4 L159.8 550.5 L159.6 549.7 L159.4 548.0 L159.2 545.9 L159.0 544.0 L158.9 543.5 L158.7 541.7 L158.5 539.7 L158.3 539.2 L158.2 537.3 L158.1 536.4 L158.0 535.0 L157.9 532.4 L157.7 530.8 L157.6 530.1 L157.5 529.0 L157.4 526.5 L157.3 525.0 L157.2 523.8 L157.1 522.5 L157.0 520.8 L156.9 519.0 L156.7 517.8 L156.6 516.1 L156.5 514.5 L156.3 513.6 L156.2 511.9 L156.0 510.8 L155.9 509.3 L155.7 507.8 L155.5 506.7 L155.3 504.9 L154.7 503.6 L154.4 505.1 L154.2 507.3 L154.0 508.6 L153.8 509.5 L153.7 511.5 L153.5 512.3 L153.4 514.1 L153.2 515.8 L153.1 516.8 L152.9 518.5 L152.7 519.7 L152.6 521.9 L152.4 524.2 L152.3 524.6 L152.1 526.3 L152.0 527.9 L151.8 529.9 L151.7 530.5 L151.5 532.4 L151.3 535.1 L151.1 536.2 L150.8 537.0 L150.5 539.2 L150.2 539.2 L149.8 541.5 L149.4 542.9 L149.0 543.5 L148.5 544.8 L147.9 545.6 L147.2 547.6 L146.2 548.8 L145.1 550.0 L143.9 550.5 L142.6 552.1 L141.4 551.3 L140.1 550.9 L138.8 551.7 L137.3 552.3 L135.8 552.3 L134.4 551.6 L133.1 552.3 L131.9 553.8 L130.8 552.6 L129.7 551.8 L128.7 549.6 L127.8 547.4 L126.9 547.6 L126.0 545.4 L125.1 542.5 L124.3 542.3 L123.4 540.4 L122.5 538.6 L121.7 538.7 L120.8 538.3 L119.9 536.7 L119.0 536.3 L118.0 535.0 L117.0 532.8 L116.1 531.9 L115.1 531.0 L114.1 529.9 L113.2 528.6 L112.2 527.4 L111.3 526.7 L110.3 525.6 L109.4 524.1 L108.5 523.1 L107.6 519.8 L106.8 519.3 L106.0 517.8 L105.1 517.4 L104.3 516.9 L103.6 515.1 L102.8 514.0 L102.1 513.1 L101.5 510.7 L100.8 509.3 L100.2 507.6 L99.6 506.3 L99.0 505.5 L98.4 503.6 L97.8 503.0 L97.3 501.1 L96.7 500.2 L96.2 498.9 L95.6 497.4 L95.1 496.0 L94.5 494.4 L94.0 492.6 L93.5 491.5 L93.0 489.5 L92.4 488.7 L91.9 488.0 L91.4 486.5 L90.8 484.9 L90.3 483.3 L89.7 481.7 L89.2 480.8 L88.7 478.5 L88.2 477.7 L87.6 475.1 L87.1 474.0 L86.6 472.3 L86.1 471.1 L85.6 470.0 L85.1 468.6 L84.6 467.4 L84.1 465.8 L83.6 465.0 L83.1 463.6 L82.6 461.8 L82.1 460.8 L81.6 458.1 L81.2 457.3 L80.7 456.0 L80.2 454.4 L79.7 452.9 L79.2 451.3 L78.7 450.6 L78.2 449.3 L77.7 448.1 L77.2 447.3 L76.7 445.9 L76.2 443.8 L75.7 442.7 L75.1 441.5 L74.6 440.4 L74.1 438.1 L73.6 435.5 L73.1 434.3 L72.6 433.0 L72.1 432.0 L71.7 429.8 L71.2 428.6 L70.7 428.0 L70.3 426.9 L69.9 425.1 L69.4 424.2 L69.0 422.7 L68.6 420.8 L68.3 420.0 L67.9 417.8 L67.5 416.7 L67.2 415.4 L66.9 414.2 L66.6 412.2 L66.3 410.2 L66.0 409.9 L65.7 408.1 L65.4 406.4 L65.1 404.9 L64.8 404.0 L64.6 401.8 L64.3 399.7 L64.0 398.6 L63.7 396.7 L63.5 395.1 L63.2 393.5 L62.9 392.3 L62.6 391.1 L62.4 389.8 L62.1 388.4 L61.8 386.8 L61.5 385.1 L61.2 383.7 L60.9 382.1 L60.6 381.7 L60.3 380.8 L60.0 379.1 L59.6 377.4 L59.3 376.4 L59.0 374.4 L58.6 374.4 L58.3 371.7 L58.0 370.9 L57.7 368.3 L57.4 367.7 L57.1 366.6 L56.8 365.2 L56.5 363.1 L56.2 362.2 L55.9 360.4 L55.7 359.2 L55.4 357.8 L55.2 355.9 L54.9 354.5 L54.6 353.4 L54.4 351.3 L54.1 349.7 L53.9 344.3 L53.6 343.0 L53.3 341.7 L53.0 339.8 L52.7 339.5 L52.4 337.4 L52.1 335.8 L51.8 334.1 L51.5 332.7 L51.1 331.4 L50.8 329.6 L50.5 329.7 L50.3 328.7 L50.0 327.4 L49.7 327.2 L49.5 324.3 L49.3 323.5 L49.1 321.2 L48.9 320.6 L48.7 319.2 L48.5 317.0 L48.4 316.2 L48.2 314.0 L48.0 312.6 L47.8 311.2 L47.7 309.5 L47.5 309.4 L47.3 306.2 L47.1 305.2 L46.9 303.6 L46.6 301.8 L46.4 300.1 L46.1 299.0 L45.8 297.4 L45.5 296.3 L45.2 294.9 L44.9 292.7 L44.7 292.4 L44.4 290.2 L44.1 288.5 L43.9 287.3 L43.7 286.6 L43.5 284.9 L43.3 283.8 L43.1 282.3 L43.0 279.5 L42.8 279.2 L42.7 277.6 L42.6 275.3 L42.4 274.3 L42.3 273.1 L42.2 271.7 L42.0 269.7 L41.9 268.7 L41.7 267.8 L41.6 265.1 L41.4 264.4 L41.2 263.1 L41.0 260.6 L40.7 259.3 L40.5 257.9Z" fill="#00ffcc"/>
<path d="M40.5 252.9 L40.7 254.3 L41.0 255.6 L41.2 258.1 L41.4 259.4 L41.6 260.1 L41.7 262.8 L41.9 263.7 L42.0 264.7 L42.2 266.7 L42.3 268.1 L42.4 269.3 L42.6 270.3 L42.7 272.6 L42.8 274.2 L43.0 274.5 L43.1 277.3 L43.3 278.8 L43.5 279.9 L43.7 281.6 L43.9 282.3 L44.1 283.5 L44.4 285.2 L44.7 287.4 L44.9 287.7 L45.2 289.9 L45.5 291.3 L45.8 292.4 L46.1 294.0 L46.4 295.1 L46.6 296.8 L46.9 298.6 L47.1 300.2 L47.3 301.2 L47.5 304.4 L47.7 304.5 L47.8 306.2 L48.0 307.6 L48.2 309.0 L48.4 311.2 L48.5 312.0 L48.7 314.2 L48.9 315.6 L49.1 316.2 L49.3 318.5 L49.5 319.3 L49.7 322.2 L50.0 322.4 L50.3 323.7 L50.5 324.7 L50.8 324.6 L51.1 326.4 L51.5 327.7 L51.8 329.1 L52.1 330.8 L52.4 332.4 L52.7 334.5 L53.0 334.8 L53.3 336.7 L53.6 338.0 L53.9 339.3 L54.1 344.7 L54.4 346.3 L54.6 348.4 L54.9 349.5 L55.2 350.9 L55.4 352.8 L55.7 354.2 L55.9 355.4 L56.2 357.2 L56.5 358.1 L56.8 360.2 L57.1 361.6 L57.4 362.7 L57.7 363.3 L58.0 365.9 L58.3 366.7 L58.6 369.4 L59.0 369.4 L59.3 371.4 L59.6 372.4 L60.0 374.1 L60.3 375.8 L60.6 376.7 L60.9 377.1 L61.2 378.7 L61.5 380.1 L61.8 381.8 L62.1 383.4 L62.4 384.8 L62.6 386.1 L62.9 387.3 L63.2 388.5 L63.5 390.1 L63.7 391.7 L64.0 393.6 L64.3 394.7 L64.6 396.8 L64.8 399.0 L65.1 399.9 L65.4 401.4 L65.7 403.1 L66.0 404.9 L66.3 405.2 L66.6 407.2 L66.9 409.2 L67.2 410.4 L67.5 411.7 L67.9 412.8 L68.3 415.0 L68.6 415.8 L69.0 417.7 L69.4 419.2 L69.9 420.1 L70.3 421.9 L70.7 423.0 L71.2 423.6 L71.7 424.8 L72.1 427.0 L72.6 428.0 L73.1 429.3 L73.6 430.5 L74.1 433.1 L74.6 435.4 L75.1 436.5 L75.7 437.7 L76.2 438.8 L76.7 440.9 L77.2 442.3 L77.7 443.1 L78.2 444.3 L78.7 445.6 L79.2 446.3 L79.7 447.9 L80.2 449.4 L80.7 451.0 L81.2 452.3 L81.6 453.1 L82.1 455.8 L82.6 456.8 L83.1 458.6 L83.6 460.0 L84.1 460.8 L84.6 462.4 L85.1 463.6 L85.6 465.0 L86.1 466.1 L86.6 467.3 L87.1 469.0 L87.6 470.1 L88.2 472.7 L88.7 473.5 L89.2 475.8 L89.7 476.7 L90.3 478.3 L90.8 479.9 L91.4 481.5 L91.9 483.0 L92.4 483.7 L93.0 484.5 L93.5 486.5 L94.0 487.6 L94.5 489.4 L95.1 491.0 L95.6 492.4 L96.2 493.9 L96.7 495.2 L97.3 496.1 L97.8 498.0 L98.4 498.6 L99.0 500.5 L99.6 501.3 L100.2 502.6 L100.8 504.3 L101.5 505.7 L102.1 508.1 L102.8 509.0 L103.6 510.1 L104.3 511.9 L105.1 512.4 L106.0 512.8 L106.8 514.3 L107.6 514.8 L108.5 518.1 L109.4 519.1 L110.3 520.6 L111.3 521.7 L112.2 522.4 L113.2 523.6 L114.1 524.9 L115.1 526.0 L116.1 526.9 L117.0 527.8 L118.0 530.0 L119.0 531.3 L119.9 531.7 L120.8 533.3 L121.7 533.7 L122.5 533.6 L123.4 535.4 L124.3 537.3 L125.1 537.5 L126.0 540.4 L126.9 542.6 L127.8 542.4 L128.7 544.6 L129.7 546.8 L130.8 547.6 L131.9 548.8 L133.1 547.3 L134.4 546.6 L135.8 547.3 L137.3 547.3 L138.8 546.7 L140.1 545.9 L141.4 546.3 L142.6 547.1 L143.9 545.5 L145.1 545.0 L146.2 543.8 L147.2 542.6 L147.9 540.6 L148.5 539.8 L149.0 538.5 L149.4 537.9 L149.8 536.5 L150.2 534.2 L150.5 534.2 L150.8 532.0 L151.1 531.2 L151.3 530.1 L151.5 527.4 L151.7 525.5 L151.8 524.9 L152.0 522.9 L152.1 521.3 L152.3 519.6 L152.4 519.2 L152.6 516.9 L152.7 514.7 L152.9 513.5 L153.1 511.8 L153.2 510.8 L153.4 509.1 L153.5 507.3 L153.7 506.5 L153.8 504.5 L154.0 503.6 L154.2 502.3 L154.4 500.1 L154.7 498.6 L155.3 499.9 L155.5 501.7 L155.7 502.8 L155.9 504.3 L156.0 505.8 L156.2 506.9 L156.3 508.6 L156.5 509.5 L156.6 511.1 L156.7 512.8 L156.9 514.0 L157.0 515.8 L157.1 517.5 L157.2 518.8 L157.3 520.0 L157.4 521.5 L157.5 524.0 L157.6 525.1 L157.7 525.8 L157.9 527.4 L158.0 530.0 L158.1 531.4 L158.2 532.3 L158.3 534.2 L158.5 534.7 L158.7 536.7 L158.9 538.5 L159.0 539.0 L159.2 540.9 L159.4 543.0 L159.6 544.7 L159.8 545.5 L160.0 547.4 L160.2 549.4 L160.5 550.1 L160.8 551.2 L161.1 553.1 L161.6 554.4 L162.3 556.4 L163.0 556.9 L163.8 557.8 L164.7 560.3 L165.6 560.3 L166.7 562.6 L167.9 563.7 L169.1 564.6 L170.3 563.4 L171.6 564.3 L173.0 564.7 L174.3 565.4 L175.7 566.5 L177.1 567.7 L178.5 568.4 L179.8 569.2 L181.1 571.1 L182.4 572.5 L183.8 570.9 L185.3 569.8 L186.7 570.7 L188.2 570.6 L189.7 570.1 L191.2 572.0 L192.7 571.8 L194.1 573.6 L195.6 573.9 L197.0 574.0 L198.5 574.3 L199.9 573.7 L201.4 574.8 L202.8 574.0 L204.1 570.5 L205.4 569.4 L206.6 568.8 L207.4 569.9 L208.2 569.1 L209.0 568.0 L209.9 566.6 L210.9 565.7 L211.9 565.2 L213.0 562.3 L214.4 561.0 L215.4 561.9 L216.1 563.2 L217.0 564.1 L217.8 567.4 L218.6 568.5 L219.6 569.5 L220.8 571.5 L222.1 572.0 L223.5 571.9 L224.9 572.7 L226.4 572.4 L227.9 572.9 L229.4 573.3 L230.9 574.1 L232.4 573.4 L233.9 574.4 L235.4 571.1 L236.7 571.0 L238.0 569.9 L239.3 569.6 L240.6 568.8 L241.9 567.3 L243.3 566.3 L244.7 567.1 L246.1 567.1 L247.4 566.8 L248.8 564.9 L250.2 563.8 L251.5 563.8 L252.8 562.4 L254.0 561.6 L255.2 560.8 L256.4 560.3 L257.7 559.2 L258.9 559.3 L260.1 558.6 L261.3 557.4 L262.6 553.9 L263.9 553.4 L265.2 553.0 L266.5 552.2 L267.8 552.3 L269.0 549.7 L270.1 548.6 L271.1 547.9 L272.0 550.0 L272.8 548.3 L273.6 547.3 L274.4 545.4 L275.2 543.2 L276.0 542.8 L276.8 540.4 L277.6 540.1 L278.4 538.7 L279.3 538.8 L280.2 537.7 L281.1 536.4 L282.0 532.8 L283.0 532.0 L283.9 531.0 L284.9 530.5 L285.9 527.9 L286.9 526.9 L287.8 525.9 L288.8 526.6 L289.8 524.3 L290.9 523.2 L291.9 522.9 L292.9 520.2 L294.0 520.2 L295.1 518.9 L296.2 516.3 L297.3 515.8 L298.3 514.4 L299.3 514.1 L300.2 513.0 L301.0 512.2 L301.8 510.3 L302.5 511.4 L303.2 509.8 L303.9 508.7 L304.7 507.9 L305.6 505.5 L306.6 504.1 L307.6 502.5 L308.6 501.6 L309.6 500.7 L310.6 499.8 L311.6 498.4 L312.5 496.9 L313.3 495.3 L314.0 493.9 L314.7 492.5 L315.4 491.3 L316.2 489.9 L317.1 488.4 L318.1 487.3 L319.3 487.3 L320.6 486.9 L321.7 485.2 L322.6 485.1 L323.3 482.2 L323.9 481.7 L324.5 481.0 L324.9 478.2 L325.4 477.4 L325.8 475.6 L326.2 473.2 L326.6 471.7 L327.0 470.8 L327.3 469.6 L327.7 467.8 L328.1 465.6 L328.4 464.3 L328.8 463.2 L329.1 462.3 L329.5 460.4 L329.9 459.6 L330.2 458.5 L330.6 456.4 L330.9 455.0 L331.2 453.5 L331.5 451.4 L331.8 450.8 L332.1 449.3 L332.4 448.1 L332.7 445.7 L333.0 443.7 L333.3 442.9 L333.6 441.2 L333.9 440.2 L334.2 437.8 L334.5 436.8 L334.7 434.9 L335.0 433.8 L335.2 432.0 L335.5 431.0 L335.7 429.7 L336.0 428.1 L336.3 426.6 L336.7 426.2 L337.5 424.9 L337.9 425.7 L338.1 427.3 L338.3 429.1 L338.5 430.8 L338.6 431.9 L338.8 432.9 L338.9 435.2 L339.0 436.6 L339.2 439.0 L339.3 439.0 L339.5 442.1 L339.7 443.2 L339.8 445.0 L340.1 447.0 L340.3 447.9 L340.5 449.7 L340.7 450.5 L341.0 452.3 L341.2 453.4 L341.4 454.6 L341.7 456.7 L341.9 458.0 L342.1 460.0 L342.4 461.7 L342.6 462.6 L342.9 464.2 L343.2 463.9 L343.6 464.7 L344.0 466.9 L344.5 468.2 L345.8 468.9 L347.2 471.0 L348.7 471.0 L350.1 470.1 L351.6 470.5 L353.1 471.2 L354.5 472.3 L355.9 473.1 L357.1 472.6 L358.2 473.9 L359.3 474.5 L360.3 476.5 L361.3 477.7 L362.2 479.6 L363.2 479.8 L364.2 480.5 L365.2 482.7 L366.2 483.0 L367.3 483.9 L368.4 484.7 L369.6 485.4 L370.8 487.0 L372.0 487.6 L373.2 488.0 L374.4 489.2 L375.6 489.9 L376.8 491.3 L377.9 491.7 L379.0 492.5 L380.1 493.6 L381.3 494.0 L382.4 495.3 L383.5 495.8 L384.7 498.3 L385.8 499.5 L386.9 501.3 L387.9 502.4 L388.9 502.0 L389.9 504.1 L390.8 505.8 L391.6 507.3 L392.5 509.1 L393.2 510.1 L394.0 510.2 L394.6 512.3 L395.2 513.6 L395.7 515.2 L396.0 517.0 L396.4 517.5 L396.7 519.8 L397.1 520.2 L397.4 522.3 L397.8 525.5 L398.0 527.8 L398.3 528.1 L398.5 529.2 L398.8 531.6 L399.1 532.5 L399.6 534.8 L400.2 532.6 L400.5 531.1 L400.7 530.5 L400.9 526.6 L401.2 525.5 L401.9 523.2 L402.9 523.3 L404.2 521.7 L405.7 521.6 L407.1 521.4 L408.4 524.1 L409.6 525.5 L410.7 526.7 L411.7 525.7 L412.8 526.3 L413.8 527.6 L414.8 530.5 L415.8 532.6 L416.8 532.1 L417.9 534.0 L419.0 532.7 L420.2 533.8 L421.4 535.5 L422.7 537.0 L424.0 536.7 L425.3 535.4 L426.6 536.6 L427.9 536.9 L429.2 541.0 L430.5 541.9 L431.7 541.2 L432.9 542.7 L434.0 543.1 L435.1 543.7 L435.9 545.0 L436.7 547.0 L437.5 547.5 L438.2 548.5 L439.1 552.1 L440.1 554.0 L441.4 553.7 L442.6 554.2 L444.0 554.9 L445.3 554.1 L446.7 555.4 L448.1 556.6 L449.5 556.1 L450.9 556.2 L452.3 558.1 L453.6 558.7 L454.9 560.0 L456.3 559.5 L457.6 560.4 L458.9 562.1 L460.2 562.7 L461.6 563.5 L462.9 564.1 L464.3 564.6 L465.6 563.5 L467.0 564.6 L468.3 565.0 L469.6 565.9 L471.0 566.8 L472.3 567.9 L473.7 568.6 L475.2 568.2 L476.6 568.3 L478.1 568.5 L479.6 568.6 L481.1 567.7 L482.5 567.5 L484.0 568.3 L485.4 567.9 L486.9 568.0 L488.4 567.2 L489.9 568.7 L491.3 568.8 L492.7 567.0 L494.0 567.7 L495.2 568.0 L496.3 571.2 L497.5 571.2 L498.7 573.1 L499.9 573.1 L501.2 573.6 L502.6 574.7 L504.0 576.6 L505.5 577.4 L506.9 576.0 L508.4 576.1 L509.9 576.7 L511.3 577.6 L512.8 577.4 L514.3 576.0 L515.8 575.9 L517.3 575.7 L518.6 575.9 L519.9 575.2 L521.2 574.3 L522.5 573.2 L523.9 572.0 L525.2 571.1 L526.7 572.3 L528.2 572.3 L529.7 572.1 L531.2 570.5 L532.6 571.3 L534.1 573.5 L535.5 572.8 L536.4 572.3 L537.2 569.5 L537.9 568.1 L538.6 567.1 L539.4 565.2 L540.1 564.7 L540.7 564.8 L541.5 564.1 L542.7 564.1 L543.2 565.1 L543.7 566.8 L544.0 565.8 L544.4 567.2 L544.8 569.1 L545.3 570.4 L545.8 572.3 L546.2 573.5 L546.6 575.2 L547.1 577.8 L547.7 579.1 L548.4 580.4 L549.4 581.3 L550.5 582.3 L551.6 582.0 L552.9 581.3 L554.2 584.3 L555.6 585.5 L556.9 585.9 L558.2 585.8 L559.5 586.2 L560.8 586.6 L562.1 587.7 L563.4 588.1 L564.7 590.2 L566.0 591.1 L567.3 591.1 L568.6 592.0 L569.9 592.4 L571.2 593.3 L572.4 594.6 L573.6 595.0 L574.9 596.7 L576.1 597.9 L577.3 599.0 L578.4 600.1 L579.6 600.4 L580.8 601.5 L581.9 601.9 L583.0 603.0 L584.1 602.7 L585.2 603.4 L586.3 605.1 L587.3 605.4 L588.2 607.6 L589.1 609.1 L590.0 609.2 L590.8 611.1 L591.6 613.1 L592.4 614.3 L593.2 615.0 L594.0 617.0 L594.8 616.1 L595.7 617.9 L596.6 619.0 L597.6 619.7 L598.7 623.6 L599.8 624.2 L601.0 625.2 L602.2 624.9 L603.4 626.3 L604.6 627.6 L605.9 628.1 L607.1 628.9 L608.4 630.5 L609.7 631.3 L611.0 632.6 L612.2 632.3 L613.5 634.5 L614.8 634.4 L616.1 635.7 L617.4 636.0 L618.7 635.0 L620.0 636.2 L621.3 636.8 L622.6 638.9 L623.7 639.9 L624.8 640.5 L625.7 641.7 L626.6 643.0 L627.4 643.8 L628.3 645.5 L629.1 645.8 L630.0 647.1 L631.0 648.2 L632.1 649.0 L633.4 651.9 L634.9 650.8 L636.4 650.9 L637.8 650.7 L639.3 648.5 L640.7 648.0 L642.1 647.4 L643.4 648.3 L644.7 647.9 L645.6 645.9 L646.2 643.7 L646.7 641.4 L647.1 641.5 L647.6 640.0 L648.0 637.7 L648.4 636.2 L648.9 634.3 L649.3 635.2 L649.7 634.4 L650.1 632.8 L650.4 630.9 L650.8 629.8 L651.2 628.3 L652.0 627.6 L652.9 628.5 L653.4 629.6 L653.8 631.1 L654.2 632.5 L654.6 633.2 L654.9 635.5 L655.3 636.9 L655.7 638.7 L656.0 637.4 L656.3 639.9 L656.6 640.8 L656.9 642.6 L657.2 644.5 L657.5 644.9 L657.8 646.4 L658.0 648.8 L658.3 649.5 L658.5 651.0 L658.7 653.1 L659.0 654.3 L659.2 656.2 L659.4 657.6 L659.7 659.0 L659.9 660.9 L660.2 662.8 L660.5 663.4 L660.8 665.5 L661.1 666.8 L661.5 667.9 L662.1 669.4 L662.7 671.1 L663.3 672.6 L664.0 674.3 L664.7 675.5 L665.5 677.3 L666.4 677.2 L667.3 678.8 L668.3 679.7 L669.5 682.4 L670.9 683.7 L672.2 683.3 L673.7 683.8 L675.1 683.6 L676.6 683.1 L678.1 684.0 L679.5 684.0 L680.9 685.7 L682.2 686.3 L683.4 684.6 L684.7 685.4 L685.9 685.7 L687.1 689.1 L688.4 690.2 L689.7 690.9 L691.2 691.2 L692.6 692.5 L694.1 691.7 L695.6 691.2 L697.1 691.0 L698.6 691.9 L700.0 691.3 L701.5 693.3 L702.9 694.1 L704.2 696.1 L705.4 697.0 L706.6 698.0 L707.8 696.9 L709.1 697.8 L710.3 698.5 L711.7 697.7 L713.1 698.7 L714.5 701.7 L715.9 701.9 L717.4 700.1 L718.8 700.0 L720.3 700.6 L721.7 701.8 L723.2 703.7 L724.7 703.0 L726.1 702.5 L727.6 704.9 L729.1 704.8 L730.6 705.3 L732.1 704.4 L733.5 704.1 L734.9 706.1 L736.3 707.0 L737.7 706.2 L739.1 707.0 L740.4 707.6 L741.8 706.4 L743.2 707.7 L744.6 707.8 L746.1 707.6 L747.5 708.8 L749.0 709.6 L750.4 710.4 L751.9 712.5 L753.3 713.4 L754.8 712.6 L756.2 712.9 L757.6 713.7 L759.0 713.9 L760.5 714.6 L761.9 713.9 L763.4 714.0 L764.8 715.7 L766.3 716.6 L767.7 716.7 L769.2 716.9 L770.7 717.1 L772.2 717.2 L773.7 717.6 L775.1 716.1 L776.6 717.1 L778.1 716.6 L779.5 719.2 L781.0 719.0 L782.5 720.2 L784.0 719.7 L785.4 718.8 L786.9 718.1 L788.3 719.1 L789.7 722.7 L791.2 722.9 L792.6 722.8 L794.0 722.6 L795.5 722.6 L797.0 721.9 L798.5 722.2 L799.9 720.6 L801.4 721.9 L802.9 724.5 L804.4 724.3 L805.9 724.2 L807.4 723.9 L808.9 724.2 L810.4 723.5 L811.9 722.5 L813.4 722.0 L814.9 721.1 L816.4 725.4 L817.9 725.6 L819.4 723.8 L820.9 723.2 L822.4 723.0 L823.9 722.8 L825.4 723.6 L826.9 725.7 L828.4 725.9 L829.9 725.5 L831.4 725.8 L832.9 725.4 L834.4 726.0 L835.9 725.6 L837.4 724.4 L838.9 724.0 L840.4 724.9 L841.8 724.6 L843.3 722.2 L844.7 721.4 L846.0 721.1 L847.3 722.2 L848.5 720.9 L849.6 719.6 L850.9 718.3 L852.2 717.3 L853.7 718.3 L854.9 718.4 L856.0 719.2 L857.0 721.1 L857.9 721.3 L858.9 722.8 L859.9 725.5 L861.1 726.6 L862.4 727.1 L863.7 727.7 L865.1 728.8 L866.5 728.3 L867.8 728.6 L869.1 730.8 L870.4 731.7 L871.7 732.8 L872.7 733.4 L873.8 733.6 L875.2 734.4 L876.6 732.8 L877.9 732.4 L879.0 730.8 L880.0 729.3 L881.0 728.3 L882.0 727.5 L883.0 725.6 L884.0 725.8 L885.1 725.7 L886.1 724.1 L887.0 723.1 L888.0 722.3 L889.0 721.4 L889.9 720.5 L890.8 718.5 L891.7 717.3 L892.9 717.0 L894.1 717.9 L894.8 718.5 L895.4 720.2 L895.9 721.9 L896.4 723.8 L897.1 724.4 L897.7 724.2 L898.3 725.7 L899.0 726.8 L899.7 728.1 L900.4 729.6 L901.4 731.9 L902.3 732.9 L903.3 733.7 L904.4 734.7 L905.7 734.9 L907.1 736.2 L908.6 735.6 L910.1 735.4 L911.6 737.5 L913.1 738.9 L914.6 736.1 L916.1 736.9 L917.6 737.1 L919.1 736.5 L920.6 735.8 L922.1 736.7 L923.6 736.7 L925.1 737.6 L926.5 738.3 L928.0 737.7 L929.4 737.7 L930.9 737.8 L932.4 738.9 L933.9 740.6 L935.4 738.4 L936.9 737.7 L938.4 739.4 L939.9 739.9 L941.4 739.3 L942.9 738.3 L944.4 739.6 L945.9 739.5 L947.4 739.4 L948.9 738.9 L950.4 737.6 L951.9 738.2 L953.4 738.2 L954.9 739.2 L956.4 738.6 L957.9 738.7 L959.4 738.7 L960.9 739.1 L962.4 740.0 L963.8 740.3 L965.3 740.7 L966.8 741.7 L968.3 741.1 L969.8 742.6 L971.3 743.0 L972.8 742.1 L974.3 741.8 L975.8 740.5 L977.3 741.3 L978.8 740.9 L980.3 742.7 L981.8 741.9 L983.3 740.0 L984.8 741.0 L986.3 743.3 L987.8 742.7 L989.3 742.0 L990.8 741.8 L992.3 742.4 L993.8 739.9 L995.3 739.7 L996.8 741.3 L998.3 740.8 L999.8 742.1 L1001.3 742.0 L1002.8 738.1 L1004.3 738.8 L1005.8 738.6 L1007.4 739.9 L1008.9 740.0 L1010.4 740.6 L1011.9 739.8 L1013.4 738.8 L1014.9 739.0 L1016.4 739.8 L1017.9 739.6 L1019.4 739.7 L1020.9 739.9 L1022.4 739.2 L1023.9 740.8 L1025.4 740.4 L1026.9 741.0 L1028.4 739.8 L1029.9 740.2 L1031.4 742.6 L1032.9 742.2 L1034.4 739.6 L1035.9 739.5 L1037.4 741.2 L1038.9 740.6 L1040.4 740.1 L1041.9 740.1 L1043.4 739.5 L1044.9 740.4 L1046.4 740.0 L1047.9 738.9 L1049.4 738.9 L1050.9 737.8 L1052.3 736.9 L1053.8 738.3 L1055.3 737.2 L1056.8 737.3 L1058.2 739.4 L1059.7 738.5 L1061.2 739.6 L1062.7 738.8 L1064.2 737.8 L1065.7 737.2 L1067.2 737.9 L1068.7 737.1 L1070.1 737.2 L1071.6 735.6 L1073.1 735.3 L1074.5 736.8 L1075.6 735.6 L1076.4 734.4 L1077.2 732.9 L1077.9 730.8 L1078.7 730.6 L1079.5 729.9 L1080.4 728.3 L1081.6 726.4 L1083.1 725.2 L1084.5 724.6 L1086.0 724.3 L1087.5 724.8 L1089.0 723.7 L1090.4 723.9 L1091.8 727.1 L1093.1 727.2 L1094.3 728.6 L1095.6 728.1 L1096.9 729.0 L1098.2 729.8 L1099.5 730.1 L1100.7 731.4 L1102.1 732.5 L1103.6 732.0 L1105.1 733.1 L1106.5 731.4 L1108.0 731.5 L1109.5 730.7 L1110.9 729.1 L1112.4 729.5 L1113.9 729.2 L1115.3 728.4 L1116.8 728.3 L1118.3 728.0 L1119.8 727.1 L1121.2 727.2 L1122.7 728.2 L1124.1 728.1 L1125.6 729.7 L1127.1 729.9 L1128.6 726.6 L1130.1 725.8 L1131.6 725.8 L1133.1 728.3 L1134.6 728.2 L1136.1 727.8 L1137.5 727.9 L1139.0 726.4 L1140.5 726.0 L1141.9 726.3 L1143.4 726.1 L1144.9 726.4 L1146.4 725.9 L1147.9 725.3 L1149.4 726.7 L1150.9 727.6 L1152.3 726.8 L1153.8 727.6 L1155.3 727.2 L1156.8 728.0 L1158.2 726.7 L1159.7 727.2 L1161.1 727.4 L1162.6 725.2 L1164.1 725.6 L1165.6 725.2 L1167.0 725.7 L1168.4 725.5 L1169.9 727.4 L1171.3 727.0 L1172.7 728.7 L1174.1 730.5 L1175.5 730.2 L1176.9 729.9 L1178.3 730.9 L1179.7 731.8 L1181.1 731.4 L1182.5 732.3 L1183.9 732.0 L1185.4 732.4 L1186.8 734.0 L1188.3 734.0 L1189.7 735.0 L1191.2 735.5 L1192.7 735.4 L1194.1 735.0 L1195.6 735.4 L1197.1 737.6 L1198.6 737.7 L1200.1 735.9 L1201.6 736.2 L1203.1 736.4 L1204.6 735.9 L1206.1 736.1 L1207.6 735.0 L1209.1 736.1 L1210.5 737.6 L1212.0 738.7 L1213.5 737.2 L1215.0 737.9 L1216.5 738.4 L1218.0 738.4 L1219.4 739.8 L1220.9 739.5 L1222.3 739.7 L1223.8 741.5 L1225.2 741.5 L1226.7 742.2 L1228.1 741.8 L1229.6 742.9 L1231.1 741.6 L1232.5 741.9 L1234.0 742.2 L1235.5 743.4 L1237.0 743.7 L1238.5 743.8 L1240.0 743.9 L1241.5 742.0 L1242.9 742.7 L1244.4 745.4 L1245.9 744.9 L1247.4 744.6 L1248.9 745.6 L1250.4 745.6 L1251.9 745.7 L1253.3 746.1 L1254.8 744.6 L1256.3 745.3 L1257.8 745.8 L1259.3 746.3 L1260.8 746.9 L1262.2 745.5 L1263.7 745.5 L1265.1 747.8 L1266.6 748.0 L1268.0 747.5 L1269.5 747.3 L1270.9 748.1 L1272.4 749.4 L1273.8 749.9 L1275.3 749.2 L1276.8 749.7 L1278.3 750.1 L1279.8 750.2 L1281.3 750.7 L1282.8 751.2 L1284.3 751.4 L1285.8 749.6 L1287.3 749.7 L1288.8 751.1 L1290.3 751.4 L1291.8 748.4 L1293.3 748.6 L1294.8 749.5 L1296.3 749.3 L1297.7 749.0 L1299.2 752.1 L1300.7 751.9 L1302.1 752.6 L1303.6 753.3 L1305.1 753.6 L1306.5 754.1 L1308.0 753.7 L1309.4 753.2 L1310.9 753.2 L1312.3 754.7 L1313.8 754.8 L1315.2 756.6 L1316.7 756.7 L1318.1 757.0 L1319.6 758.5 L1321.1 758.5 L1322.6 757.0 L1324.1 758.0 L1325.5 758.4 L1327.0 758.9 L1328.5 759.5 L1330.0 758.5 L1331.5 757.6 L1333.0 758.5 L1334.5 759.1 L1336.0 758.6 L1337.5 758.7 L1339.0 758.9 L1340.5 759.8 L1342.0 759.2 L1343.5 757.8 L1345.0 757.4 L1346.5 757.6 L1348.0 757.2 L1349.5 758.0 L1351.0 758.6 L1352.5 758.6 L1354.0 760.4 L1355.5 761.0 L1356.9 759.4 L1358.4 760.0 L1359.8 760.0 L1361.2 760.3 L1362.7 761.1 L1364.1 760.9 L1365.5 761.6 L1367.0 763.2 L1368.5 764.1 L1369.9 763.2 L1371.4 762.9 L1372.9 763.9 L1374.4 765.0 L1375.8 765.6 L1377.3 765.0" fill="none" stroke="#00ffcc" stroke-width="4.4" stroke-linejoin="round"/>
<path d="M40.5 252.8 L40.6 254.0 L40.8 255.2 L40.9 255.3 L41.0 256.8 L41.2 257.9 L41.3 259.0 L41.4 260.1 L41.5 260.6 L41.6 261.4 L41.7 261.2 L41.8 261.4 L41.9 263.2 L42.0 265.8 L42.1 265.8 L42.2 264.7 L42.2 267.1 L42.3 268.7 L42.4 267.5 L42.5 270.7 L42.6 269.9 L42.6 273.1 L42.7 272.9 L42.8 276.5 L42.9 273.0 L43.0 275.9 L43.1 274.5 L43.2 278.9 L43.3 278.4 L43.4 280.4 L43.5 280.2 L43.6 279.1 L43.7 280.7 L43.9 280.6 L44.0 281.1 L44.1 284.1 L44.3 286.7 L44.4 287.3 L44.6 287.5 L44.8 286.2 L44.9 289.4 L45.1 287.1 L45.3 290.5 L45.5 293.0 L45.6 291.3 L45.8 291.4 L46.0 292.4 L46.1 296.2 L46.3 294.4 L46.5 291.9 L46.6 295.8 L46.8 294.6 L46.9 303.7 L47.0 299.8 L47.2 295.7 L47.3 302.4 L47.4 305.0 L47.5 304.8 L47.6 303.0 L47.7 305.8 L47.8 307.1 L47.9 310.8 L48.0 309.3 L48.1 317.5 L48.2 308.8 L48.3 316.6 L48.4 311.5 L48.6 305.5 L48.7 308.5 L48.8 306.8 L48.9 308.1 L49.0 320.8 L49.1 314.2 L49.2 320.2 L49.3 315.0 L49.5 319.5 L49.6 316.2 L49.8 324.8 L49.9 321.2 L50.1 321.2 L50.3 323.3 L50.4 333.6 L50.6 327.5 L50.8 328.1 L50.9 320.7 L51.1 323.9 L51.3 328.6 L51.5 320.8 L51.7 334.6 L51.9 331.2 L52.1 330.9 L52.3 331.0 L52.5 331.8 L52.7 331.5 L52.8 340.1 L53.0 338.1 L53.2 341.3 L53.4 335.9 L53.5 334.4 L53.7 344.4 L53.9 334.8 L54.0 338.2 L54.2 348.2 L54.3 350.6 L54.5 341.8 L54.6 346.9 L54.8 349.0 L54.9 349.3 L55.1 347.2 L55.2 354.3 L55.4 350.3 L55.5 352.4 L55.7 345.1 L55.9 354.7 L56.0 348.1 L56.2 359.8 L56.3 359.8 L56.5 356.6 L56.7 360.2 L56.9 360.9 L57.0 360.7 L57.2 363.7 L57.4 362.6 L57.6 361.4 L57.8 361.0 L58.0 371.9 L58.2 366.8 L58.4 366.8 L58.6 370.7 L58.8 367.1 L59.0 368.0 L59.1 373.1 L59.3 375.5 L59.5 374.9 L59.7 367.0 L59.9 374.1 L60.1 374.7 L60.3 377.5 L60.5 372.9 L60.7 373.2 L60.9 377.8 L61.1 374.3 L61.2 374.4 L61.4 379.3 L61.6 384.3 L61.8 381.9 L61.9 386.8 L62.1 379.1 L62.3 386.9 L62.5 384.9 L62.6 382.2 L62.8 385.0 L63.0 384.1 L63.1 387.6 L63.3 386.3 L63.4 395.4 L63.6 389.7 L63.8 386.2 L63.9 392.1 L64.1 395.3 L64.3 393.4 L64.4 400.0 L64.6 393.7 L64.8 394.8 L64.9 405.8 L65.1 400.1 L65.3 403.2 L65.4 403.9 L65.6 405.1 L65.8 403.8 L66.0 403.7 L66.1 409.8 L66.3 404.3 L66.5 407.6 L66.7 410.8 L66.9 407.3 L67.1 403.6 L67.2 412.5 L67.4 415.9 L67.6 413.5 L67.9 406.1 L68.1 416.3 L68.3 422.6 L68.5 409.2 L68.8 406.5 L69.0 416.2 L69.2 418.4 L69.5 422.1 L69.7 423.2 L70.0 421.1 L70.2 423.8 L70.5 423.8 L70.8 423.8 L71.0 423.9 L71.3 423.6 L71.6 428.0 L71.9 427.6 L72.2 425.1 L72.5 432.1 L72.8 425.6 L73.1 428.4 L73.4 430.8 L73.7 423.3 L74.0 430.4 L74.3 436.2 L74.6 438.3 L74.9 431.0 L75.2 433.3 L75.5 433.2 L75.8 437.4 L76.1 439.0 L76.4 433.6 L76.7 442.2 L77.0 442.1 L77.4 442.3 L77.7 440.7 L78.0 442.4 L78.3 436.7 L78.5 445.8 L78.8 446.6 L79.1 446.1 L79.4 442.6 L79.7 453.4 L80.0 453.7 L80.3 442.3 L80.6 452.5 L80.9 452.3 L81.2 442.5 L81.5 455.5 L81.8 456.9 L82.1 458.0 L82.4 456.6 L82.7 454.1 L83.0 455.5 L83.3 460.5 L83.6 464.1 L83.8 458.2 L84.1 459.9 L84.4 464.7 L84.7 453.5 L85.0 465.0 L85.3 463.0 L85.6 455.9 L85.9 468.8 L86.3 462.8 L86.6 470.6 L86.9 473.9 L87.2 464.0 L87.5 465.0 L87.8 470.7 L88.1 464.4 L88.4 476.6 L88.7 475.2 L89.0 479.3 L89.3 468.6 L89.7 477.8 L90.0 479.7 L90.3 471.3 L90.6 483.2 L91.0 474.7 L91.3 481.9 L91.6 476.1 L91.9 485.6 L92.2 490.3 L92.6 484.3 L92.9 485.1 L93.2 491.2 L93.5 484.8 L93.8 487.7 L94.2 491.7 L94.5 490.9 L94.8 496.6 L95.1 496.5 L95.4 500.3 L95.8 493.1 L96.1 498.7 L96.4 491.6 L96.7 499.6 L97.1 504.0 L97.4 507.3 L97.7 493.2 L98.1 498.5 L98.4 502.0 L98.8 496.2 L99.1 503.0 L99.5 503.8 L99.8 500.3 L100.2 501.0 L100.6 500.2 L101.0 506.1 L101.3 510.9 L101.7 508.3 L102.2 517.8 L102.6 502.5 L103.0 507.1 L103.5 513.1 L103.9 506.3 L104.4 513.3 L104.9 516.0 L105.3 513.2 L105.8 512.3 L106.3 517.9 L106.8 516.5 L107.3 518.5 L107.8 518.5 L108.4 514.1 L108.9 514.6 L109.4 518.3 L110.0 521.4 L110.5 520.5 L111.1 526.1 L111.7 523.8 L112.2 527.0 L112.8 524.1 L113.4 521.2 L114.0 528.5 L114.5 527.7 L115.1 522.7 L115.7 525.4 L116.3 537.9 L116.9 517.7 L117.4 534.0 L118.0 530.1 L118.6 530.2 L119.2 530.0 L119.7 529.8 L120.3 542.8 L120.8 531.5 L121.3 532.8 L121.9 538.3 L122.4 535.9 L122.9 534.2 L123.4 534.5 L123.9 530.7 L124.4 541.9 L125.0 533.4 L125.5 528.2 L126.0 545.5 L126.5 545.0 L127.1 543.9 L127.6 540.9 L128.2 549.0 L128.8 539.8 L129.3 536.8 L130.0 547.7 L130.6 551.2 L131.2 551.0 L131.9 557.9 L132.6 549.7 L133.3 545.6 L134.1 546.2 L135.0 551.3 L135.8 547.2 L136.7 547.0 L137.6 539.7 L138.5 545.8 L139.3 541.3 L140.1 547.6 L140.9 546.7 L141.6 548.8 L142.4 553.1 L143.1 546.0 L143.9 552.7 L144.6 540.7 L145.3 545.9 L146.0 548.2 L146.6 552.0 L147.2 537.6 L147.7 540.7 L148.1 541.6 L148.4 539.7 L148.7 535.1 L149.0 531.2 L149.3 532.1 L149.5 537.2 L149.7 530.7 L150.0 543.8 L150.2 540.5 L150.4 525.5 L150.6 531.0 L150.7 538.3 L150.9 537.9 L151.1 535.6 L151.2 523.3 L151.4 527.1 L151.5 533.6 L151.6 527.5 L151.7 524.0 L151.8 527.5 L151.9 528.7 L151.9 524.0 L152.0 523.6 L152.1 526.4 L152.2 518.2 L152.3 515.7 L152.4 522.4 L152.5 512.6 L152.6 519.4 L152.6 512.9 L152.7 518.8 L152.8 508.8 L152.9 518.3 L153.0 513.6 L153.2 510.1 L153.2 506.7 L153.3 508.9 L153.4 504.6 L153.5 502.5 L153.6 511.8 L153.7 508.7 L153.8 510.7 L153.9 498.2 L154.0 494.6 L154.1 495.3 L154.2 504.5 L154.3 504.3 L154.5 491.4 L154.7 503.5 L155.2 497.3 L155.3 494.7 L155.5 500.6 L155.6 504.4 L155.7 501.8 L155.8 502.9 L155.9 500.8 L156.0 499.1 L156.1 504.6 L156.2 499.5 L156.2 510.4 L156.3 504.7 L156.4 515.3 L156.5 503.2 L156.6 517.6 L156.7 508.2 L156.8 509.0 L156.8 515.3 L156.9 518.9 L157.0 515.5 L157.1 515.0 L157.1 526.5 L157.2 520.7 L157.3 513.9 L157.3 519.0 L157.4 528.7 L157.4 523.5 L157.5 526.6 L157.6 533.0 L157.6 522.0 L157.7 527.3 L157.8 523.5 L157.8 527.4 L157.9 530.7 L158.0 523.2 L158.0 530.8 L158.1 531.6 L158.2 536.6 L158.3 530.1 L158.3 528.0 L158.4 536.4 L158.5 530.4 L158.6 537.2 L158.7 539.8 L158.8 534.2 L159.0 538.5 L159.1 535.3 L159.2 530.1 L159.3 535.2 L159.4 533.2 L159.5 543.6 L159.6 539.6 L159.8 544.7 L159.9 546.0 L160.0 551.9 L160.1 546.4 L160.3 547.1 L160.4 552.0 L160.6 557.9 L160.8 551.2 L161.0 554.0 L161.2 552.4 L161.5 551.0 L161.8 548.0 L162.2 555.4 L162.7 555.4 L163.1 555.8 L163.6 566.6 L164.1 557.0 L164.6 560.7 L165.2 558.3 L165.8 565.9 L166.4 560.8 L167.1 571.1 L167.8 562.1 L168.5 567.3 L169.3 568.9 L170.0 562.0 L170.8 567.4 L171.5 564.3 L172.3 561.0 L173.1 562.4 L174.0 567.3 L174.8 574.2 L175.6 564.3 L176.5 569.3 L177.3 564.2 L178.1 569.4 L178.9 562.8 L179.7 565.6 L180.5 570.9 L181.2 568.0 L182.0 570.6 L182.9 576.7 L183.7 569.6 L184.6 567.2 L185.4 565.1 L186.3 568.5 L187.2 575.8 L188.1 570.5 L189.0 570.4 L189.9 574.4 L190.8 575.5 L191.7 576.3 L192.5 570.4 L193.4 568.1 L194.3 566.3 L195.2 570.9 L196.0 572.7 L196.9 577.9 L197.7 575.2 L198.6 571.2 L199.5 577.5 L200.4 569.2 L201.3 569.9 L202.1 569.0 L202.9 569.0 L203.7 569.5 L204.5 566.4 L205.3 566.3 L206.1 575.2 L206.7 562.1 L207.2 566.0 L207.7 568.7 L208.1 571.0 L208.6 570.4 L209.1 566.3 L209.7 565.2 L210.2 564.9 L210.8 568.6 L211.4 560.5 L212.0 553.5 L212.6 564.2 L213.4 557.8 L214.3 560.6 L214.9 567.6 L215.4 562.7 L215.9 571.1 L216.4 556.7 L216.9 565.6 L217.4 568.4 L217.9 571.1 L218.4 565.0 L218.9 569.6 L219.5 570.2 L220.2 570.6 L220.9 565.6 L221.7 564.4 L222.5 574.8 L223.4 574.3 L224.2 572.2 L225.1 575.1 L226.0 577.2 L226.9 567.4 L227.8 576.7 L228.7 579.8 L229.6 577.7 L230.5 575.8 L231.4 577.5 L232.3 568.0 L233.2 572.1 L234.1 578.6 L234.9 578.5 L235.7 573.7 L236.6 569.3 L237.3 570.2 L238.1 573.6 L238.9 578.2 L239.6 572.4 L240.4 566.2 L241.2 570.4 L242.1 569.2 L242.9 577.3 L243.7 569.2 L244.5 567.7 L245.4 566.9 L246.2 561.5 L247.0 561.9 L247.8 564.0 L248.6 561.4 L249.5 565.4 L250.3 564.6 L251.1 567.9 L251.8 569.9 L252.6 563.5 L253.4 561.5 L254.1 553.8 L254.8 563.1 L255.6 563.8 L256.3 557.0 L257.0 558.1 L257.7 556.2 L258.5 564.0 L259.2 561.6 L259.9 563.6 L260.6 552.6 L261.4 567.6 L262.1 551.6 L262.9 550.4 L263.7 555.2 L264.5 551.5 L265.3 561.0 L266.1 550.9 L266.9 549.2 L267.6 556.0 L268.4 555.7 L269.1 546.2 L269.7 547.1 L270.3 547.0 L270.9 547.1 L271.5 554.6 L272.0 555.1 L272.5 553.6 L273.0 553.7 L273.5 547.5 L274.0 550.4 L274.5 545.6 L274.9 541.8 L275.4 550.5 L275.9 534.9 L276.3 541.8 L276.8 538.5 L277.3 533.0 L277.8 537.8 L278.3 539.0 L278.8 541.2 L279.3 534.9 L279.9 541.1 L280.4 538.4 L281.0 539.9 L281.5 527.3 L282.1 531.6 L282.7 530.2 L283.2 534.7 L283.8 528.3 L284.4 528.6 L285.0 525.1 L285.5 523.6 L286.1 524.0 L286.7 531.5 L287.3 522.1 L287.9 515.6 L288.5 526.5 L289.1 523.8 L289.7 527.4 L290.3 526.7 L290.9 522.3 L291.5 521.2 L292.1 519.5 L292.7 521.2 L293.4 517.2 L294.0 520.8 L294.7 525.3 L295.4 515.9 L296.0 514.4 L296.7 513.7 L297.3 518.5 L298.0 518.0 L298.6 520.7 L299.2 517.2 L299.7 514.0 L300.3 514.7 L300.8 506.4 L301.2 513.7 L301.7 511.2 L302.1 518.6 L302.5 517.2 L302.9 506.9 L303.3 507.2 L303.8 512.7 L304.2 499.3 L304.7 503.4 L305.3 508.2 L305.8 507.4 L306.4 504.8 L307.0 508.3 L307.6 501.5 L308.2 502.4 L308.8 500.5 L309.5 496.1 L310.1 500.3 L310.7 497.0 L311.2 499.1 L311.8 487.7 L312.3 497.8 L312.8 493.6 L313.3 492.5 L313.7 494.6 L314.2 491.6 L314.6 496.7 L315.0 497.3 L315.4 495.0 L315.9 494.5 L316.3 490.8 L316.9 488.7 L317.5 482.4 L318.1 485.7 L318.9 491.9 L319.6 490.9 L320.3 485.0 L321.0 487.0 L321.7 490.5 L322.3 484.6 L322.8 490.5 L323.2 479.6 L323.6 485.4 L323.9 484.1 L324.3 481.1 L324.6 480.8 L324.8 480.9 L325.1 468.1 L325.4 478.9 L325.6 480.9 L325.9 476.9 L326.1 478.6 L326.4 467.8 L326.6 471.7 L326.8 472.5 L327.0 469.1 L327.3 474.4 L327.5 470.6 L327.7 465.5 L327.9 470.2 L328.1 469.4 L328.4 463.2 L328.6 466.8 L328.8 464.9 L329.0 463.9 L329.2 456.2 L329.4 466.1 L329.6 463.1 L329.9 459.3 L330.1 460.1 L330.3 459.1 L330.5 455.5 L330.7 453.5 L330.9 455.5 L331.1 451.7 L331.3 451.2 L331.4 447.5 L331.6 450.4 L331.8 454.9 L332.0 450.7 L332.2 449.1 L332.3 446.7 L332.5 445.3 L332.7 439.9 L332.9 452.4 L333.0 440.7 L333.2 436.5 L333.4 443.7 L333.6 442.2 L333.8 438.0 L334.0 433.1 L334.1 432.6 L334.3 444.3 L334.5 436.2 L334.6 433.0 L334.8 442.8 L334.9 431.7 L335.1 429.2 L335.2 434.6 L335.4 432.9 L335.5 437.1 L335.7 423.0 L335.8 429.9 L336.0 420.6 L336.2 428.9 L336.4 424.3 L336.6 424.2 L336.9 422.2 L337.4 428.2 L337.8 432.4 L337.9 426.0 L338.1 426.2 L338.2 426.0 L338.3 431.3 L338.4 425.6 L338.5 441.0 L338.6 430.7 L338.7 439.9 L338.8 434.2 L338.8 428.6 L338.9 428.7 L339.0 434.4 L339.1 434.0 L339.2 436.9 L339.3 434.0 L339.4 449.8 L339.5 449.7 L339.5 433.9 L339.6 444.5 L339.8 449.3 L339.9 443.6 L340.0 445.0 L340.1 451.5 L340.3 450.0 L340.4 443.5 L340.6 454.7 L340.7 448.3 L340.8 459.2 L341.0 448.1 L341.1 443.3 L341.2 454.4 L341.4 460.0 L341.5 457.9 L341.6 457.3 L341.8 453.6 L341.9 462.3 L342.1 451.3 L342.2 463.5 L342.4 455.9 L342.5 459.3 L342.7 457.1 L342.8 459.7 L343.0 470.9 L343.2 458.6 L343.4 465.3 L343.6 461.9 L343.8 470.6 L344.1 461.3 L344.5 467.9 L345.2 472.3 L346.0 478.5 L346.8 466.1 L347.7 467.6 L348.6 471.3 L349.5 478.0 L350.4 465.6 L351.2 473.6 L352.1 467.5 L353.0 466.0 L353.9 464.5 L354.7 472.2 L355.6 476.2 L356.3 472.0 L357.0 463.1 L357.7 470.3 L358.4 477.4 L359.0 477.7 L359.6 475.8 L360.2 482.1 L360.8 471.1 L361.4 471.9 L362.0 488.1 L362.6 481.4 L363.1 478.4 L363.7 478.1 L364.3 471.1 L364.9 485.1 L365.5 473.4 L366.1 474.5 L366.7 483.3 L367.4 490.1 L368.1 482.6 L368.8 486.4 L369.5 483.6 L370.2 487.7 L370.9 479.2 L371.6 495.8 L372.4 483.2 L373.1 490.3 L373.8 479.7 L374.5 496.6 L375.2 491.4 L376.0 498.7 L376.7 487.8 L377.4 495.5 L378.0 490.9 L378.7 492.1 L379.4 498.4 L380.1 489.6 L380.7 496.6 L381.4 502.4 L382.1 502.1 L382.8 499.8 L383.4 497.2 L384.1 493.5 L384.8 504.3 L385.5 495.9 L386.1 504.6 L386.8 498.7 L387.4 501.4 L388.0 502.0 L388.6 505.2 L389.2 501.5 L389.8 504.8 L390.3 502.5 L390.9 508.2 L391.4 507.9 L391.9 509.2 L392.4 504.6 L392.9 510.3 L393.3 509.9 L393.7 513.0 L394.2 511.3 L394.6 507.7 L395.0 515.8 L395.3 510.7 L395.5 515.6 L395.8 506.4 L396.0 518.2 L396.2 519.8 L396.4 514.0 L396.6 521.2 L396.8 518.0 L397.0 526.3 L397.3 524.2 L397.5 516.9 L397.7 523.9 L397.8 518.1 L398.0 525.1 L398.1 529.7 L398.3 531.8 L398.4 528.7 L398.6 529.1 L398.7 531.6 L398.9 529.3 L399.1 534.1 L399.4 538.3 L399.9 534.6 L400.1 536.6 L400.3 528.7 L400.5 529.1 L400.6 531.7 L400.8 538.0 L400.9 530.9 L401.1 532.9 L401.3 525.1 L401.6 529.3 L402.2 516.2 L402.8 524.9 L403.5 513.4 L404.4 526.4 L405.2 523.2 L406.1 526.3 L407.0 523.4 L407.8 522.2 L408.5 521.6 L409.2 526.1 L409.9 532.2 L410.6 529.2 L411.2 522.3 L411.8 522.8 L412.4 522.9 L413.0 525.6 L413.6 526.8 L414.2 525.8 L414.8 530.4 L415.5 524.4 L416.1 538.2 L416.7 533.4 L417.3 539.4 L418.0 533.1 L418.6 531.7 L419.3 533.4 L420.0 534.5 L420.8 531.4 L421.5 534.2 L422.3 544.3 L423.1 540.7 L423.8 535.1 L424.6 539.9 L425.4 532.5 L426.2 542.3 L427.0 532.7 L427.8 541.1 L428.5 540.5 L429.3 541.0 L430.1 538.0 L430.8 540.8 L431.5 538.3 L432.3 538.4 L433.0 544.5 L433.6 553.0 L434.3 542.3 L434.9 547.8 L435.5 544.3 L436.0 542.2 L436.5 551.5 L436.9 549.3 L437.4 552.2 L437.8 548.7 L438.3 549.6 L438.8 548.7 L439.3 551.8 L440.0 560.5 L440.7 544.6 L441.4 556.2 L442.2 560.3 L443.0 558.0 L443.8 558.7 L444.6 554.4 L445.4 559.9 L446.2 560.3 L447.1 555.7 L447.9 563.2 L448.8 553.8 L449.6 546.2 L450.4 556.5 L451.2 556.4 L452.1 554.4 L452.9 556.4 L453.7 556.5 L454.5 551.6 L455.3 564.6 L456.1 559.9 L456.9 570.0 L457.6 560.6 L458.4 562.8 L459.2 556.1 L460.0 567.0 L460.8 558.7 L461.6 565.8 L462.4 567.9 L463.2 567.6 L464.1 561.4 L464.9 561.9 L465.7 567.4 L466.5 569.6 L467.3 571.0 L468.1 565.4 L468.9 565.5 L469.7 573.8 L470.5 564.5 L471.3 570.4 L472.1 566.4 L472.9 562.2 L473.8 563.8 L474.6 570.5 L475.5 569.7 L476.4 570.2 L477.3 566.9 L478.2 566.2 L479.1 569.3 L480.0 567.9 L480.9 561.9 L481.7 566.5 L482.6 575.4 L483.5 565.1 L484.3 570.2 L485.2 567.4 L486.1 571.1 L486.9 564.4 L487.8 562.6 L488.7 569.5 L489.6 565.3 L490.5 568.1 L491.4 567.1 L492.2 572.7 L493.0 568.3 L493.8 568.3 L494.5 564.3 L495.2 562.5 L495.9 566.0 L496.6 574.6 L497.3 574.5 L498.0 574.7 L498.7 571.2 L499.4 569.3 L500.2 577.7 L500.9 574.2 L501.8 576.0 L502.6 570.3 L503.5 573.9 L504.3 579.5 L505.2 580.1 L506.1 573.4 L506.9 576.9 L507.8 571.2 L508.7 581.0 L509.6 579.0 L510.5 586.1 L511.4 583.2 L512.2 574.6 L513.1 576.8 L514.0 574.1 L514.9 576.6 L515.8 579.1 L516.7 575.8 L517.6 575.8 L518.4 569.8 L519.2 577.1 L519.9 575.2 L520.7 577.3 L521.5 578.5 L522.3 574.0 L523.1 576.2 L523.9 570.0 L524.7 575.9 L525.5 571.7 L526.4 569.2 L527.3 571.3 L528.2 566.6 L529.1 569.8 L530.0 570.9 L530.9 571.2 L531.7 570.9 L532.6 568.9 L533.5 572.9 L534.4 565.2 L535.3 573.9 L535.9 575.1 L536.4 575.3 L536.9 575.6 L537.3 568.3 L537.7 568.0 L538.2 565.7 L538.6 564.9 L539.1 566.5 L539.5 570.5 L539.9 557.7 L540.3 564.0 L540.7 566.2 L541.1 560.4 L541.7 565.3 L542.5 558.1 L542.9 563.0 L543.2 558.6 L543.5 567.1 L543.7 562.0 L544.0 568.5 L544.2 565.6 L544.4 563.9 L544.7 566.9 L544.9 569.9 L545.2 570.2 L545.5 570.1 L545.8 570.6 L546.0 572.8 L546.3 577.0 L546.5 572.3 L546.8 577.1 L547.1 572.2 L547.4 582.0 L547.8 580.6 L548.2 578.6 L548.7 579.4 L549.4 574.6 L550.0 582.3 L550.7 579.3 L551.4 575.4 L552.1 579.6 L552.9 584.1 L553.6 583.0 L554.4 585.5 L555.2 582.6 L556.1 588.5 L556.9 585.5 L557.7 588.1 L558.5 593.9 L559.2 577.8 L560.0 584.2 L560.8 587.0 L561.6 584.6 L562.3 591.9 L563.1 587.0 L563.9 595.4 L564.7 592.7 L565.5 591.8 L566.2 590.5 L567.0 594.4 L567.8 593.2 L568.6 597.4 L569.3 593.8 L570.1 596.7 L570.9 594.7 L571.6 595.5 L572.4 588.6 L573.1 595.3 L573.8 597.3 L574.6 592.2 L575.3 591.9 L576.0 596.6 L576.7 599.5 L577.4 592.3 L578.2 600.6 L578.9 603.6 L579.6 599.5 L580.3 602.0 L580.9 603.4 L581.6 599.0 L582.3 604.6 L583.0 604.5 L583.6 598.6 L584.3 606.0 L584.9 606.9 L585.6 599.9 L586.2 608.1 L586.8 604.4 L587.4 600.9 L588.0 603.2 L588.6 604.5 L589.1 610.8 L589.6 607.6 L590.1 608.6 L590.6 606.0 L591.1 611.8 L591.6 608.2 L592.0 611.2 L592.5 616.9 L593.0 617.9 L593.5 614.0 L594.0 616.6 L594.5 619.6 L595.0 616.5 L595.5 622.0 L596.0 623.2 L596.6 618.4 L597.2 614.7 L597.8 619.5 L598.4 628.5 L599.1 628.2 L599.8 629.1 L600.5 629.4 L601.2 623.6 L601.9 626.4 L602.6 630.0 L603.3 627.4 L604.1 630.3 L604.8 623.5 L605.5 623.2 L606.3 636.2 L607.1 631.9 L607.8 631.7 L608.6 636.6 L609.3 640.0 L610.1 641.2 L610.9 623.1 L611.6 634.4 L612.4 637.1 L613.1 626.1 L613.9 627.1 L614.7 633.8 L615.5 641.9 L616.3 638.7 L617.1 643.8 L617.8 637.0 L618.6 639.4 L619.4 641.6 L620.2 637.9 L621.0 636.5 L621.7 637.5 L622.5 629.3 L623.2 640.5 L623.9 632.6 L624.5 637.3 L625.1 643.9 L625.6 643.4 L626.2 634.8 L626.7 645.4 L627.2 647.0 L627.7 645.6 L628.2 648.3 L628.7 647.4 L629.2 639.3 L629.8 645.8 L630.3 646.2 L630.9 643.3 L631.5 648.5 L632.2 647.8 L633.0 651.1 L633.8 648.3 L634.7 655.8 L635.6 659.8 L636.5 648.8 L637.4 651.1 L638.3 650.9 L639.2 650.0 L640.0 647.3 L640.9 639.0 L641.7 648.7 L642.5 648.3 L643.3 644.2 L644.1 647.2 L644.8 645.5 L645.4 647.6 L645.8 643.4 L646.1 642.7 L646.4 643.4 L646.7 643.1 L647.0 641.3 L647.3 645.0 L647.5 640.5 L647.8 635.7 L648.0 644.5 L648.3 637.4 L648.6 642.2 L648.8 631.1 L649.1 638.7 L649.4 642.4 L649.6 639.8 L649.8 634.3 L650.0 630.8 L650.2 629.8 L650.4 630.6 L650.7 626.6 L650.9 626.6 L651.2 624.8 L651.5 623.9 L652.1 628.3 L652.7 620.9 L653.0 629.2 L653.3 632.1 L653.6 626.6 L653.8 627.6 L654.1 632.1 L654.3 632.8 L654.5 637.5 L654.7 626.9 L655.0 635.3 L655.2 641.9 L655.4 637.6 L655.6 645.1 L655.8 647.5 L656.0 636.1 L656.2 644.9 L656.4 642.0 L656.6 640.8 L656.8 640.6 L656.9 641.8 L657.1 640.0 L657.3 643.7 L657.5 648.9 L657.6 651.1 L657.8 645.6 L657.9 650.0 L658.1 650.7 L658.2 640.5 L658.4 653.4 L658.5 646.7 L658.7 647.9 L658.8 656.6 L658.9 660.7 L659.1 650.7 L659.2 652.5 L659.4 653.3 L659.5 655.8 L659.6 657.3 L659.8 656.4 L659.9 654.2 L660.1 668.4 L660.3 660.4 L660.4 660.2 L660.6 667.6 L660.8 663.5 L661.0 670.1 L661.2 669.8 L661.5 671.4 L661.8 666.9 L662.2 671.7 L662.5 664.0 L662.9 666.4 L663.3 672.9 L663.7 672.2 L664.1 679.5 L664.5 674.0 L664.9 668.9 L665.4 676.8 L665.9 676.2 L666.4 678.5 L667.0 673.9 L667.6 676.1 L668.2 680.0 L668.9 683.3 L669.6 684.1 L670.4 685.9 L671.2 677.7 L672.0 682.8 L672.9 684.8 L673.8 687.2 L674.6 684.7 L675.5 683.0 L676.4 682.7 L677.3 683.1 L678.1 678.1 L679.0 684.1 L679.8 688.2 L680.7 688.2 L681.5 678.6 L682.2 686.3 L683.0 680.9 L683.7 689.2 L684.5 687.6 L685.2 688.7 L685.9 683.9 L686.7 681.6 L687.4 685.6 L688.2 688.7 L689.0 684.7 L689.8 687.0 L690.7 698.5 L691.5 686.8 L692.4 694.3 L693.3 685.0 L694.2 692.5 L695.1 694.9 L695.9 693.5 L696.8 696.1 L697.7 698.6 L698.6 686.4 L699.5 693.0 L700.4 695.3 L701.2 695.2 L702.1 700.0 L702.9 695.3 L703.7 700.6 L704.5 700.9 L705.2 697.5 L705.9 699.6 L706.7 695.0 L707.4 698.2 L708.1 698.3 L708.9 697.5 L709.6 696.7 L710.4 701.6 L711.2 697.8 L712.0 707.5 L712.8 704.0 L713.7 702.2 L714.5 699.6 L715.4 705.7 L716.3 703.0 L717.1 700.0 L718.0 695.7 L718.9 702.5 L719.7 701.4 L720.6 701.0 L721.5 700.4 L722.3 702.2 L723.2 698.3 L724.1 700.5 L725.0 708.2 L725.9 700.5 L726.8 712.1 L727.7 699.5 L728.5 709.1 L729.4 709.2 L730.3 709.7 L731.2 706.0 L732.1 697.7 L732.9 708.6 L733.8 708.5 L734.7 706.8 L735.5 697.8 L736.3 711.4 L737.2 704.0 L738.0 706.0 L738.8 712.3 L739.6 713.0 L740.5 709.7 L741.3 704.6 L742.1 713.7 L743.0 711.9 L743.8 707.1 L744.7 704.0 L745.5 709.1 L746.4 703.0 L747.2 715.4 L748.1 712.2 L749.0 709.1 L749.8 712.3 L750.7 704.5 L751.6 712.4 L752.4 710.4 L753.3 707.0 L754.2 710.9 L755.0 713.9 L755.9 707.3 L756.8 712.3 L757.6 707.7 L758.5 714.3 L759.3 707.0 L760.2 716.9 L761.0 716.9 L761.9 717.6 L762.8 721.6 L763.6 715.5 L764.5 715.5 L765.4 718.5 L766.3 714.5 L767.1 709.1 L768.0 711.9 L768.9 711.8 L769.8 717.4 L770.7 714.4 L771.6 715.4 L772.5 719.3 L773.3 718.0 L774.2 725.2 L775.1 716.3 L776.0 713.0 L776.9 721.7 L777.8 715.4 L778.6 718.8 L779.5 723.2 L780.4 720.2 L781.3 722.4 L782.2 717.6 L783.1 719.0 L783.9 722.9 L784.8 718.5 L785.7 716.9 L786.6 718.5 L787.4 725.1 L788.3 724.9 L789.1 723.6 L790.0 723.3 L790.9 720.6 L791.7 728.8 L792.6 724.1 L793.4 726.5 L794.3 717.6 L795.2 726.4 L796.0 723.0 L796.9 725.5 L797.8 726.7 L798.7 721.6 L799.6 720.3 L800.5 724.5 L801.4 717.3 L802.3 729.9 L803.2 725.8 L804.1 720.3 L805.0 729.7 L805.9 728.4 L806.8 730.6 L807.7 728.6 L808.6 726.6 L809.5 723.5 L810.4 719.6 L811.3 726.6 L812.2 726.0 L813.1 721.0 L814.0 724.9 L814.9 719.2 L815.8 729.4 L816.7 725.9 L817.6 726.2 L818.5 722.4 L819.4 727.4 L820.3 724.4 L821.2 721.5 L822.1 725.2 L823.0 723.0 L823.9 727.8 L824.8 717.9 L825.7 719.3 L826.6 734.3 L827.5 724.5 L828.4 728.4 L829.3 724.9 L830.2 727.0 L831.1 735.2 L832.0 718.7 L832.9 727.6 L833.7 725.8 L834.6 725.8 L835.5 722.8 L836.4 721.0 L837.3 730.1 L838.2 726.8 L839.1 720.2 L840.0 725.8 L840.9 720.4 L841.8 734.3 L842.6 726.5 L843.5 715.1 L844.3 725.4 L845.1 723.9 L846.0 722.3 L846.7 723.4 L847.5 720.1 L848.2 720.9 L848.9 713.2 L849.6 725.6 L850.3 727.0 L851.0 720.6 L851.8 720.7 L852.7 712.8 L853.6 716.1 L854.4 712.7 L855.1 713.7 L855.7 721.5 L856.3 725.6 L856.9 720.2 L857.5 730.2 L858.0 725.1 L858.6 713.8 L859.2 721.7 L859.8 728.9 L860.5 726.9 L861.3 730.9 L862.1 720.7 L862.9 732.7 L863.7 723.1 L864.5 729.5 L865.3 736.8 L866.1 729.2 L866.9 728.5 L867.7 732.7 L868.5 726.9 L869.3 726.9 L870.1 734.8 L870.9 726.3 L871.6 727.8 L872.2 740.1 L872.9 729.0 L873.5 734.7 L874.2 737.8 L875.1 733.6 L876.0 729.6 L876.8 736.6 L877.6 728.9 L878.3 740.2 L878.9 740.0 L879.5 726.7 L880.1 732.3 L880.7 726.2 L881.3 729.7 L881.9 726.5 L882.5 723.0 L883.1 728.2 L883.7 720.4 L884.4 727.4 L885.0 724.9 L885.6 721.8 L886.2 727.6 L886.7 723.6 L887.3 722.4 L887.9 722.4 L888.5 721.5 L889.1 725.3 L889.7 719.9 L890.2 710.9 L890.7 709.3 L891.2 713.9 L891.8 712.4 L892.5 715.6 L893.4 711.2 L894.0 714.7 L894.5 723.7 L894.8 714.2 L895.2 723.5 L895.5 720.6 L895.8 727.0 L896.2 726.3 L896.5 723.9 L896.9 728.6 L897.3 726.1 L897.7 720.1 L898.0 727.2 L898.4 728.1 L898.8 726.5 L899.2 728.8 L899.6 726.9 L900.0 730.6 L900.5 729.1 L901.1 725.5 L901.6 731.2 L902.2 739.1 L902.8 736.8 L903.4 740.1 L904.1 734.9 L904.8 733.6 L905.5 731.5 L906.4 736.6 L907.2 740.0 L908.1 738.8 L909.0 738.5 L909.9 733.7 L910.8 736.1 L911.7 735.4 L912.6 741.6 L913.5 740.8 L914.4 735.1 L915.3 738.1 L916.2 728.9 L917.1 740.4 L918.0 733.2 L918.9 735.0 L919.8 738.9 L920.7 739.3 L921.6 734.2 L922.5 743.1 L923.4 744.9 L924.3 742.8 L925.2 743.1 L926.1 738.4 L926.9 743.8 L927.8 735.2 L928.7 733.3 L929.5 738.5 L930.4 739.0 L931.3 734.9 L932.2 747.0 L933.1 734.6 L934.0 732.3 L934.9 737.2 L935.8 745.1 L936.7 741.6 L937.6 740.1 L938.5 740.1 L939.4 741.7 L940.3 740.8 L941.2 739.9 L942.1 738.5 L943.0 732.8 L943.9 742.7 L944.8 737.3 L945.7 740.9 L946.6 741.3 L947.5 743.4 L948.4 735.6 L949.3 741.9 L950.2 742.0 L951.1 738.2 L952.0 738.2 L952.9 739.0 L953.8 734.5 L954.7 736.7 L955.6 734.6 L956.5 743.6 L957.4 736.0 L958.3 735.0 L959.2 740.0 L960.1 741.6 L961.0 738.2 L961.8 736.1 L962.7 741.9 L963.6 743.7 L964.5 734.2 L965.4 744.4 L966.3 734.1 L967.2 743.6 L968.1 739.4 L969.0 741.5 L969.9 745.3 L970.8 748.1 L971.7 750.7 L972.6 747.3 L973.5 744.7 L974.4 737.0 L975.3 740.6 L976.2 741.8 L977.1 739.0 L978.0 743.6 L978.9 741.3 L979.8 749.2 L980.7 741.6 L981.6 737.4 L982.5 739.1 L983.4 738.3 L984.3 743.8 L985.2 746.5 L986.1 746.9 L987.0 746.9 L987.9 740.3 L988.8 738.6 L989.7 738.9 L990.6 742.1 L991.5 740.6 L992.4 742.9 L993.3 744.0 L994.2 740.3 L995.1 746.5 L996.0 738.8 L996.9 744.2 L997.8 741.5 L998.7 745.5 L999.6 741.6 L1000.5 739.7 L1001.4 741.2 L1002.3 738.3 L1003.2 734.5 L1004.1 741.8 L1005.0 736.4 L1005.9 743.4 L1006.8 749.4 L1007.7 738.8 L1008.6 743.6 L1009.5 740.0 L1010.4 733.2 L1011.3 740.1 L1012.2 746.2 L1013.1 734.5 L1014.0 738.5 L1014.9 738.5 L1015.8 733.6 L1016.7 741.1 L1017.6 739.3 L1018.5 742.0 L1019.4 739.9 L1020.3 734.3 L1021.2 740.2 L1022.1 742.1 L1023.0 738.6 L1023.9 743.0 L1024.8 742.9 L1025.7 732.4 L1026.6 742.9 L1027.5 732.6 L1028.4 735.4 L1029.3 739.8 L1030.2 738.5 L1031.1 739.2 L1032.0 746.6 L1032.9 738.2 L1033.8 744.2 L1034.7 746.7 L1035.6 745.1 L1036.5 735.4 L1037.4 735.1 L1038.3 741.3 L1039.2 749.2 L1040.1 740.2 L1041.0 737.9 L1041.9 739.6 L1042.8 742.9 L1043.7 744.8 L1044.6 740.2 L1045.5 739.7 L1046.4 742.1 L1047.3 738.9 L1048.2 737.1 L1049.1 731.7 L1050.0 738.9 L1050.9 735.3 L1051.7 736.5 L1052.6 736.1 L1053.5 733.7 L1054.4 740.1 L1055.3 741.9 L1056.2 739.6 L1057.0 734.9 L1057.9 739.3 L1058.8 741.2 L1059.7 738.0 L1060.6 741.7 L1061.5 733.4 L1062.4 737.9 L1063.3 744.2 L1064.2 741.5 L1065.1 737.1 L1066.0 738.0 L1066.9 745.7 L1067.8 741.4 L1068.7 734.4 L1069.5 738.2 L1070.4 735.1 L1071.3 733.2 L1072.2 730.6 L1073.1 737.8 L1073.9 743.3 L1074.7 739.8 L1075.4 730.9 L1075.9 737.2 L1076.4 728.8 L1076.9 734.5 L1077.3 736.9 L1077.8 737.6 L1078.2 731.6 L1078.6 731.6 L1079.1 729.7 L1079.6 728.2 L1080.2 734.2 L1080.8 723.9 L1081.6 719.3 L1082.5 731.9 L1083.3 733.6 L1084.2 718.5 L1085.1 728.5 L1086.0 727.8 L1086.8 723.0 L1087.7 720.0 L1088.6 724.2 L1089.5 722.4 L1090.4 727.1 L1091.2 724.1 L1092.0 731.5 L1092.8 725.0 L1093.5 734.2 L1094.3 731.8 L1095.0 732.3 L1095.8 726.9 L1096.6 727.9 L1097.4 728.9 L1098.2 733.8 L1098.9 727.2 L1099.7 727.3 L1100.4 729.9 L1101.2 732.5 L1102.1 731.7 L1102.9 732.0 L1103.8 727.2 L1104.7 729.9 L1105.6 728.0 L1106.5 736.0 L1107.4 731.6 L1108.2 733.3 L1109.1 725.5 L1110.0 730.1 L1110.9 731.5 L1111.7 725.1 L1112.6 726.5 L1113.5 726.8 L1114.4 729.2 L1115.3 729.5 L1116.2 722.8 L1117.1 729.4 L1117.9 728.8 L1118.8 728.5 L1119.7 723.8 L1120.6 726.7 L1121.4 731.6 L1122.3 732.8 L1123.2 725.9 L1124.1 734.2 L1125.0 726.3 L1125.9 726.0 L1126.8 733.8 L1127.7 730.8 L1128.6 734.9 L1129.5 725.4 L1130.3 726.9 L1131.2 729.3 L1132.1 729.3 L1133.0 726.8 L1133.9 728.3 L1134.8 728.1 L1135.7 728.2 L1136.6 728.0 L1137.5 721.9 L1138.3 731.0 L1139.2 723.7 L1140.1 725.0 L1141.0 722.8 L1141.9 724.9 L1142.8 730.4 L1143.6 731.4 L1144.5 727.6 L1145.4 726.9 L1146.3 723.1 L1147.2 724.0 L1148.1 725.9 L1149.0 726.5 L1149.9 723.5 L1150.8 727.7 L1151.7 723.7 L1152.5 734.3 L1153.4 727.8 L1154.3 724.7 L1155.2 728.7 L1156.1 724.7 L1157.0 726.5 L1157.8 733.2 L1158.7 732.0 L1159.6 722.8 L1160.4 722.8 L1161.3 724.9 L1162.2 735.3 L1163.1 725.9 L1164.0 726.6 L1164.9 723.8 L1165.8 731.1 L1166.6 728.7 L1167.5 718.6 L1168.3 722.3 L1169.2 718.8 L1170.1 722.7 L1170.9 724.3 L1171.8 722.6 L1172.6 725.6 L1173.5 732.1 L1174.3 734.1 L1175.1 730.6 L1176.0 733.3 L1176.8 724.9 L1177.6 736.1 L1178.5 739.6 L1179.3 730.6 L1180.1 734.0 L1181.0 733.5 L1181.8 724.1 L1182.6 736.6 L1183.5 733.7 L1184.4 725.9 L1185.2 730.7 L1186.1 737.0 L1187.0 736.1 L1187.9 728.8 L1188.7 732.1 L1189.6 731.9 L1190.5 735.8 L1191.4 732.7 L1192.3 735.8 L1193.1 734.5 L1194.0 729.6 L1194.9 737.0 L1195.8 736.6 L1196.7 734.8 L1197.6 740.4 L1198.5 746.5 L1199.4 731.8 L1200.2 736.9 L1201.1 739.4 L1202.0 736.4 L1202.9 734.2 L1203.8 744.2 L1204.7 733.9 L1205.6 735.4 L1206.5 733.5 L1207.4 740.2 L1208.3 727.4 L1209.2 732.2 L1210.1 736.5 L1211.0 739.5 L1211.9 739.7 L1212.8 742.3 L1213.7 737.0 L1214.6 734.8 L1215.5 737.5 L1216.4 734.5 L1217.2 737.0 L1218.1 737.4 L1219.0 740.6 L1219.9 742.8 L1220.7 735.2 L1221.6 737.3 L1222.5 739.8 L1223.3 740.2 L1224.2 740.5 L1225.1 743.9 L1225.9 741.1 L1226.8 735.5 L1227.7 747.1 L1228.5 737.5 L1229.4 748.7 L1230.3 743.7 L1231.2 742.6 L1232.1 735.9 L1233.0 742.7 L1233.9 741.0 L1234.7 739.4 L1235.6 744.8 L1236.5 745.7 L1237.4 748.2 L1238.3 739.1 L1239.2 740.9 L1240.1 749.4 L1241.0 744.1 L1241.9 745.3 L1242.8 740.4 L1243.7 743.8 L1244.5 748.2 L1245.4 740.5 L1246.3 742.7 L1247.2 746.4 L1248.1 750.6 L1249.0 743.9 L1249.9 748.2 L1250.8 742.6 L1251.7 741.2 L1252.6 748.2 L1253.5 742.1 L1254.4 745.2 L1255.2 743.1 L1256.1 747.3 L1257.0 740.7 L1257.9 740.7 L1258.8 740.8 L1259.7 745.6 L1260.6 751.3 L1261.5 748.5 L1262.3 746.3 L1263.2 745.3 L1264.1 750.6 L1264.9 746.9 L1265.8 751.5 L1266.7 752.9 L1267.5 750.6 L1268.4 749.2 L1269.3 749.5 L1270.1 747.9 L1271.0 749.5 L1271.9 746.0 L1272.7 746.3 L1273.6 755.6 L1274.5 749.4 L1275.4 743.0 L1276.3 754.6 L1277.2 754.7 L1278.1 752.0 L1279.0 745.7 L1279.9 757.7 L1280.8 754.5 L1281.7 755.9 L1282.6 750.4 L1283.5 752.9 L1284.4 750.4 L1285.3 748.3 L1286.2 744.8 L1287.1 746.3 L1288.0 747.4 L1288.9 751.5 L1289.8 755.1 L1290.7 753.6 L1291.6 744.8 L1292.5 752.9 L1293.4 743.5 L1294.3 751.1 L1295.2 748.5 L1296.0 749.7 L1296.9 747.8 L1297.8 745.8 L1298.7 757.9 L1299.6 742.9 L1300.4 748.9 L1301.3 757.4 L1302.2 752.7 L1303.1 753.0 L1304.0 749.9 L1304.8 749.1 L1305.7 756.1 L1306.6 753.5 L1307.5 755.6 L1308.3 757.4 L1309.2 746.4 L1310.1 749.2 L1310.9 750.8 L1311.8 754.5 L1312.7 757.9 L1313.5 751.6 L1314.4 754.9 L1315.3 755.6 L1316.1 756.0 L1317.0 762.5 L1317.9 754.0 L1318.8 757.6 L1319.6 749.5 L1320.5 758.0 L1321.4 759.0 L1322.3 760.1 L1323.2 755.6 L1324.1 755.6 L1325.0 753.3 L1325.9 756.6 L1326.8 767.6 L1327.7 752.3 L1328.6 752.4 L1329.5 758.0 L1330.4 754.1 L1331.2 762.5 L1332.1 752.2 L1333.0 764.9 L1333.9 757.0 L1334.8 752.4 L1335.7 750.3 L1336.6 755.1 L1337.5 756.0 L1338.4 759.8 L1339.3 754.6 L1340.2 768.7 L1341.1 762.6 L1342.0 758.6 L1342.9 755.6 L1343.8 766.9 L1344.7 754.7 L1345.6 760.5 L1346.5 763.3 L1347.4 754.1 L1348.3 759.8 L1349.2 755.7 L1350.1 764.1 L1351.0 764.3 L1351.9 760.9 L1352.8 759.5 L1353.7 755.4 L1354.6 769.3 L1355.5 766.1 L1356.4 762.0 L1357.3 765.2 L1358.1 759.9 L1359.0 755.8 L1359.8 763.8 L1360.7 756.9 L1361.5 758.8 L1362.4 764.0 L1363.3 754.8 L1364.1 761.2 L1365.0 760.2 L1365.8 757.2 L1366.7 758.5 L1367.6 762.4 L1368.5 762.3 L1369.4 764.3 L1370.2 757.7 L1371.1 763.9 L1372.0 758.9 L1372.9 760.8 L1373.8 768.8 L1374.6 762.7 L1375.5 763.6 L1376.4 762.6 L1377.3 764.5" fill="none" stroke="#00ffcc" stroke-width="2.0" stroke-linejoin="miter" stroke-miterlimit="3"/>
<path d="M40.5 331.7 L41.1 332.8 L41.6 335.2 L42.0 336.1 L42.4 337.3 L42.7 338.5 L43.0 340.4 L43.2 342.5 L43.4 343.6 L43.7 344.6 L43.9 347.0 L44.1 344.4 L44.3 345.7 L44.5 347.1 L44.6 348.8 L44.8 350.0 L45.0 351.6 L45.2 352.5 L45.3 354.9 L45.5 355.8 L45.6 358.1 L45.8 357.9 L46.0 360.5 L46.1 362.1 L46.3 363.1 L46.4 364.9 L46.6 366.5 L46.7 367.9 L46.9 369.0 L47.0 370.6 L47.2 372.6 L47.3 376.8 L47.5 377.9 L47.6 379.3 L47.8 380.9 L47.9 382.7 L48.1 383.4 L48.2 384.8 L48.4 386.8 L48.5 387.8 L48.7 389.5 L48.8 391.3 L49.0 393.0 L49.1 393.8 L49.3 396.1 L49.4 396.5 L49.6 399.0 L49.8 399.6 L49.9 401.2 L50.1 403.5 L50.3 404.5 L50.5 405.9 L50.7 407.5 L50.9 408.5 L51.1 409.8 L51.3 411.2 L51.5 413.2 L51.7 413.9 L51.9 415.5 L52.1 417.0 L52.3 419.2 L52.6 420.6 L52.8 422.2 L53.0 423.1 L53.2 424.6 L53.5 426.5 L53.7 427.4 L53.9 429.4 L54.2 431.0 L54.4 431.9 L54.6 433.6 L54.9 435.1 L55.1 437.3 L55.4 439.1 L55.6 439.5 L55.8 441.1 L56.1 441.6 L56.3 444.1 L56.6 445.5 L56.8 446.6 L57.1 448.8 L57.3 449.3 L57.6 451.6 L57.8 453.2 L58.1 454.1 L58.3 456.4 L58.6 458.0 L58.8 458.5 L59.1 460.0 L59.3 462.3 L59.5 463.5 L59.8 464.5 L60.0 466.3 L60.3 467.9 L60.5 469.4 L60.8 471.2 L61.0 470.9 L61.2 473.0 L61.5 474.3 L61.7 475.5 L61.9 477.1 L62.1 478.7 L62.4 480.0 L62.6 480.7 L62.8 483.0 L63.0 484.2 L63.2 486.3 L63.4 487.1 L63.7 488.8 L63.9 490.2 L64.1 492.2 L64.3 494.7 L64.5 496.0 L64.7 497.8 L65.0 499.0 L65.2 500.7 L65.4 502.1 L65.6 503.7 L65.8 505.8 L66.0 506.4 L66.3 508.1 L66.5 509.5 L66.7 511.3 L66.9 512.0 L67.2 513.7 L67.4 515.5 L67.6 517.2 L67.9 517.8 L68.1 519.1 L68.4 520.5 L68.6 522.5 L68.9 524.4 L69.2 525.4 L69.5 526.8 L69.7 528.4 L70.0 529.3 L70.4 531.0 L70.7 532.5 L71.0 534.2 L71.4 538.6 L71.8 539.5 L72.2 541.9 L72.5 543.6 L73.0 544.3 L73.4 546.0 L73.8 547.4 L74.2 549.0 L74.7 547.5 L75.1 550.2 L75.6 550.8 L76.1 552.9 L76.6 553.8 L77.1 555.0 L77.6 556.6 L78.1 557.9 L78.6 558.6 L79.2 560.2 L79.7 561.5 L80.2 562.4 L80.8 565.1 L81.3 566.2 L81.8 567.4 L82.3 569.3 L82.9 569.8 L83.4 571.6 L83.9 573.7 L84.4 574.9 L84.9 574.6 L85.4 575.6 L85.9 578.0 L86.4 580.2 L86.9 581.0 L87.4 582.5 L87.9 584.3 L88.4 584.7 L88.9 586.6 L89.4 588.2 L89.9 589.5 L90.4 590.9 L91.0 591.9 L91.5 594.4 L92.1 595.4 L92.7 597.5 L93.2 599.3 L93.8 599.4 L94.5 600.2 L95.1 603.0 L95.8 604.7 L96.5 606.3 L97.3 607.5 L98.2 608.0 L99.0 608.6 L99.8 610.7 L100.5 611.1 L101.3 613.3 L102.0 615.2 L102.7 616.9 L103.3 618.2 L104.0 619.6 L104.7 621.0 L105.3 620.5 L106.0 622.4 L106.6 623.7 L107.3 625.1 L107.9 626.8 L108.6 627.8 L109.2 629.0 L109.9 630.3 L110.6 631.8 L111.2 633.6 L111.9 634.3 L112.5 637.9 L113.2 638.9 L113.8 640.0 L114.4 640.9 L115.1 642.9 L115.7 643.6 L116.3 644.0 L117.0 646.5 L117.6 648.0 L118.3 648.8 L119.0 649.3 L119.8 651.4 L120.5 652.2 L121.3 652.6 L122.2 654.5 L123.1 655.6 L124.0 656.8 L125.0 657.1 L126.0 660.1 L127.0 660.7 L128.0 662.1 L129.0 664.4 L130.0 665.9 L131.0 666.5 L131.9 667.5 L132.9 667.2 L133.8 668.7 L134.7 669.2 L135.7 671.1 L136.6 671.8 L137.5 672.7 L138.5 674.7 L139.4 676.0 L140.4 677.9 L141.4 678.4 L142.5 679.9 L143.6 678.5 L144.7 679.7 L145.8 681.4 L147.0 682.5 L148.2 683.4 L149.4 685.2 L150.6 686.4 L151.8 686.6 L153.0 687.3 L154.2 688.6 L155.4 689.2 L156.6 689.7 L157.9 690.8 L159.1 691.7 L160.3 693.0 L161.6 694.6 L162.9 695.1 L164.2 693.1 L165.5 693.3 L166.8 697.1 L168.1 697.4 L169.4 698.5 L170.8 696.7 L172.2 697.9 L173.5 698.4 L174.9 699.3 L176.4 699.5 L177.8 700.9 L179.3 701.9 L180.7 702.1 L182.2 703.2 L183.6 702.2 L185.0 703.1 L186.4 704.4 L187.7 704.0 L188.9 705.3 L190.2 706.3 L191.4 706.9 L192.8 708.3 L194.2 708.9 L195.7 708.1 L197.2 709.7 L198.7 708.9 L200.2 709.3 L201.6 709.0 L203.1 708.4 L204.6 707.5 L206.1 706.9 L207.6 708.2 L209.1 708.1 L210.6 706.6 L212.0 706.2 L213.5 705.2 L215.0 705.5 L216.4 704.4 L217.9 705.4 L219.3 705.3 L220.7 703.7 L222.2 704.0 L223.6 703.5 L225.0 702.6 L226.5 702.6 L227.9 701.3 L229.4 700.1 L230.9 700.5 L232.4 701.4 L233.9 701.1 L235.3 697.8 L236.8 697.3 L238.2 700.6 L239.6 700.0 L241.0 699.2 L242.3 697.5 L243.5 698.1 L244.7 693.5 L246.0 693.6 L247.2 693.7 L248.5 693.5 L249.7 692.9 L251.0 691.5 L252.2 690.8 L253.5 688.9 L254.7 690.2 L256.0 689.3 L257.2 687.9 L258.4 685.3 L259.5 683.4 L260.6 682.6 L261.6 682.8 L262.7 681.6 L263.7 680.8 L264.6 679.8 L265.6 679.7 L266.6 678.4 L267.5 677.3 L268.5 676.6 L269.5 676.0 L270.5 674.4 L271.6 673.6 L272.6 669.3 L273.7 668.0 L274.7 667.6 L275.8 667.2 L276.8 666.5 L277.8 666.0 L278.8 664.6 L279.8 663.9 L280.7 662.1 L281.6 661.3 L282.5 658.9 L283.4 658.1 L284.3 656.9 L285.2 655.9 L286.0 657.2 L286.8 655.4 L287.6 654.3 L288.4 652.7 L289.2 648.9 L289.9 647.3 L290.7 645.6 L291.4 645.0 L292.0 644.3 L292.6 643.9 L293.1 642.0 L293.6 641.5 L294.2 639.3 L294.7 637.8 L295.3 636.2 L295.8 633.6 L296.5 632.5 L297.2 632.1 L298.0 630.0 L298.9 628.4 L299.8 629.7 L300.9 628.8 L302.0 627.1 L303.1 625.6 L304.2 624.8 L305.2 623.5 L306.1 622.1 L307.0 620.1 L307.7 618.6 L308.3 618.5 L308.8 617.0 L309.2 613.2 L309.6 612.5 L309.9 611.0 L310.3 609.7 L310.6 608.1 L311.0 606.4 L311.4 605.2 L311.9 603.8 L312.5 602.3 L313.1 603.3 L313.8 601.5 L314.6 601.1 L315.4 599.5 L316.3 598.2 L317.2 597.2 L318.1 595.8 L319.1 594.4 L320.0 593.4 L321.0 592.8 L322.0 590.9 L323.0 590.7 L324.0 589.5 L325.0 588.2 L326.0 587.5 L327.0 584.8 L328.0 584.4 L329.0 582.6 L330.1 580.7 L331.2 579.6 L332.4 579.2 L333.6 577.7 L334.8 577.2 L336.1 575.9 L337.3 575.9 L338.6 575.4 L339.9 576.0 L341.3 576.0 L342.7 575.2 L344.2 573.2 L345.7 572.5 L347.2 573.1 L348.5 575.0 L349.8 575.1 L351.1 575.8 L352.3 576.8 L353.6 577.7 L354.8 579.2 L356.0 579.7 L357.2 582.0 L358.3 582.7 L359.3 582.8 L360.4 582.3 L361.4 583.8 L362.4 584.4 L363.3 586.3 L364.3 587.0 L365.3 587.9 L366.2 589.1 L367.1 592.3 L368.0 593.9 L368.9 595.1 L369.7 595.8 L370.5 598.5 L371.4 599.1 L372.2 600.8 L373.0 601.5 L373.9 603.0 L374.8 603.4 L375.8 604.7 L376.8 606.2 L377.8 607.0 L378.9 607.2 L380.1 608.6 L381.2 609.4 L382.3 610.4 L383.4 611.0 L384.4 613.0 L385.4 614.0 L386.4 615.8 L387.2 616.7 L388.0 616.8 L388.7 617.7 L389.5 620.0 L390.3 621.7 L391.2 623.4 L392.1 624.9 L393.0 625.5 L394.0 626.3 L394.9 626.9 L395.9 627.8 L396.9 629.2 L397.8 630.3 L398.8 632.1 L399.8 632.9 L400.7 634.7 L401.6 635.1 L402.5 636.3 L403.3 637.6 L404.1 639.5 L405.0 640.9 L405.8 641.8 L406.6 643.0 L407.5 644.2 L408.3 646.2 L409.2 646.1 L410.2 647.6 L411.2 651.4 L412.2 652.6 L413.4 653.1 L414.5 653.5 L415.7 654.4 L416.9 655.4 L418.2 655.9 L419.4 657.4 L420.6 657.8 L421.7 656.1 L422.8 656.1 L423.9 657.9 L424.9 659.7 L426.0 660.7 L427.0 662.6 L428.0 663.1 L429.0 664.5 L430.1 664.9 L431.2 667.0 L432.3 668.4 L433.5 668.9 L434.7 670.4 L435.9 669.0 L437.1 669.3 L438.3 670.7 L439.5 675.2 L440.8 675.6 L442.1 675.9 L443.4 676.5 L444.7 677.7 L446.0 675.4 L447.3 675.5 L448.6 677.4 L450.0 677.9 L451.4 679.7 L452.7 679.8 L454.1 679.9 L455.6 681.1 L457.0 682.2 L458.4 682.1 L459.9 683.2 L461.3 683.8 L462.8 685.5 L464.2 685.9 L465.7 684.2 L467.1 685.0 L468.6 685.5 L470.1 685.4 L471.6 687.3 L473.0 686.1 L474.5 686.7 L476.0 687.6 L477.5 688.2 L479.0 688.3 L480.5 687.5 L482.0 688.0 L483.5 688.6 L485.0 688.0 L486.5 686.1 L488.0 686.5 L489.5 687.2 L491.0 686.8 L492.5 686.8 L494.0 686.3 L495.5 686.0 L497.0 688.0 L498.5 689.3 L500.0 687.9 L501.5 688.3 L503.0 687.3 L504.4 688.3 L505.9 688.6 L507.4 687.7 L508.9 688.0 L510.4 688.4 L512.0 689.4 L513.5 688.0 L515.0 687.3 L516.5 688.1 L518.0 687.5 L519.5 687.6 L521.0 689.0 L522.5 688.7 L523.9 690.8 L525.4 691.4 L526.9 689.0 L528.4 688.8 L529.9 690.2 L531.4 689.3 L532.8 689.5 L534.3 689.2 L535.8 690.1 L537.2 690.4 L538.7 690.4 L540.2 690.9 L541.7 691.9 L543.2 692.6 L544.6 693.1 L546.1 693.5 L547.6 693.3 L549.0 692.7 L550.4 695.3 L551.8 694.6 L553.1 695.8 L554.4 696.6 L555.6 697.5 L556.8 698.1 L558.1 697.7 L559.3 699.3 L560.5 700.9 L561.7 699.6 L562.9 700.5 L564.1 700.9 L565.3 704.3 L566.4 704.9 L567.6 705.9 L568.7 707.1 L569.9 708.1 L571.1 707.8 L572.3 709.0 L573.5 710.1 L574.7 711.4 L575.9 712.6 L577.1 713.0 L578.3 713.5 L579.4 714.8 L580.5 715.4 L581.6 716.6 L582.6 718.7 L583.6 719.2 L584.6 721.6 L585.5 723.0 L586.4 723.5 L587.3 725.4 L588.2 725.4 L589.2 726.3 L590.1 727.7 L591.1 728.4 L592.1 729.1 L593.1 731.0 L594.2 731.8 L595.3 734.4 L596.4 735.2 L597.5 735.9 L598.6 737.0 L599.7 738.6 L600.7 739.6 L601.7 741.3 L602.7 742.5 L603.6 743.4 L604.5 744.6 L605.4 742.7 L606.3 743.7 L607.1 745.1 L607.9 745.8 L608.8 749.5 L609.6 750.7 L610.5 752.4 L611.4 754.4 L612.2 754.3 L613.2 754.6 L614.1 755.6 L615.0 757.7 L616.0 759.3 L616.9 759.7 L617.9 761.8 L618.9 763.3 L619.8 764.9 L620.8 765.6 L621.8 767.0 L622.7 768.1 L623.7 768.8 L624.7 770.2 L625.6 771.2 L626.5 773.0 L627.4 773.4 L628.4 774.4 L629.3 775.6 L630.3 777.0 L631.2 778.3 L632.2 780.6 L633.3 780.6 L634.3 782.0 L635.4 783.1 L636.6 782.5 L637.7 782.6 L638.9 784.5 L640.1 785.6 L641.3 786.0 L642.5 788.2 L643.7 789.5 L644.9 790.0 L646.1 790.1 L647.2 791.0 L648.4 791.7 L649.6 795.1 L650.8 795.7 L651.9 797.3 L653.1 796.5 L654.3 797.4 L655.4 798.9 L656.6 800.3 L657.8 801.7 L659.0 802.8 L660.2 801.3 L661.4 802.3 L662.6 803.5 L663.7 804.1 L664.9 804.2 L666.0 805.3 L667.0 807.9 L668.0 808.7 L669.0 808.9 L669.9 810.8 L670.9 812.5 L671.9 813.2 L673.0 813.6 L674.1 814.5 L675.2 815.7 L676.3 816.9 L677.4 818.6 L678.6 820.1 L679.8 819.6 L680.9 821.4 L682.1 822.2 L683.3 824.4 L684.5 825.0 L685.7 825.5 L687.0 824.4 L688.2 825.9 L689.5 826.8 L690.8 829.2 L692.1 829.8 L693.4 829.0 L694.7 829.2 L696.1 829.6 L697.4 830.5 L698.8 831.3 L700.1 831.9 L701.5 831.9 L702.9 832.9 L704.3 832.7 L705.7 833.9 L707.1 835.2 L708.5 836.0 L709.9 836.8 L711.2 838.1 L712.6 839.2 L714.0 838.1 L715.3 838.3 L716.7 840.2 L718.0 841.5 L719.3 842.3 L720.7 843.4 L722.0 844.1 L723.4 844.6 L724.8 843.4 L726.1 844.2 L727.5 845.1 L729.0 845.2 L730.4 846.8 L731.8 845.5 L733.2 846.5 L734.6 846.5 L735.9 846.3 L737.3 846.7 L738.7 849.4 L740.1 850.2 L741.5 849.4 L742.9 849.5 L744.3 852.2 L745.7 852.3 L747.1 853.3 L748.6 852.9 L750.0 852.9 L751.5 854.5 L752.9 855.2 L754.4 856.0 L755.8 854.7 L757.3 855.3 L758.8 855.5 L760.2 854.7 L761.7 855.8 L763.2 857.0 L764.7 857.0 L766.1 856.3 L767.6 856.7 L769.1 857.1 L770.6 857.8 L772.0 857.9 L773.5 858.7 L775.0 858.0 L776.5 858.4 L777.9 859.1 L779.4 859.1 L780.9 859.8 L782.4 859.2 L783.8 859.3 L785.3 860.5 L786.8 860.5 L788.2 860.5 L789.6 859.4 L791.1 860.0 L792.5 862.5 L793.9 863.2 L795.3 863.0 L796.8 863.2 L798.3 863.9 L799.8 866.0 L801.3 865.5 L802.8 866.5 L804.3 866.4 L805.8 863.0 L807.3 863.5 L808.7 864.0 L810.2 865.8 L811.7 866.4 L813.2 866.2 L814.6 866.7 L816.1 865.8 L817.6 866.3 L819.1 866.3 L820.5 868.5 L822.0 867.8 L823.5 868.0 L824.9 868.7 L826.4 867.5 L827.9 867.6 L829.4 869.4 L830.8 869.2 L832.3 869.5 L833.8 870.0 L835.3 870.4 L836.7 871.4 L838.2 870.9 L839.7 870.8 L841.1 870.2 L842.5 871.0 L843.9 873.5 L845.3 874.6 L846.7 874.5 L848.2 874.3 L849.7 875.5 L851.2 873.7 L852.7 873.3 L854.2 873.7 L855.7 873.8 L857.2 874.7 L858.7 874.9 L860.2 873.6 L861.7 875.1 L863.2 874.1 L864.7 875.9 L866.2 876.1 L867.7 874.3 L869.2 875.0 L870.7 873.3 L872.2 872.7 L873.6 873.0 L875.1 873.2 L876.6 873.6 L878.1 875.0 L879.5 874.9 L881.0 878.3 L882.4 877.9 L883.9 876.0 L885.4 876.7 L886.8 875.9 L888.3 876.9 L889.8 877.8 L891.3 878.1 L892.7 878.4 L894.2 878.2 L895.7 878.0 L897.2 878.3 L898.7 880.1 L900.2 880.0 L901.7 878.9 L903.2 878.1 L904.7 879.5 L906.2 880.5 L907.7 880.0 L909.2 879.5 L910.7 879.6 L912.2 880.4 L913.7 880.2 L915.2 879.3 L916.7 879.3 L918.2 882.1 L919.6 882.5 L921.1 880.9 L922.6 881.5 L924.1 881.6 L925.6 880.6 L927.1 881.8 L928.6 880.2 L930.1 880.3 L931.6 881.5 L933.1 881.1 L934.6 881.4 L936.1 883.2 L937.6 882.7 L939.1 883.2 L940.6 883.9 L942.1 884.2 L943.5 884.0 L945.0 883.7 L946.6 884.0 L948.0 884.1 L949.5 884.2 L951.0 883.5 L952.5 882.6 L954.0 882.5 L955.5 882.5 L957.0 882.8 L958.5 882.8 L960.0 882.0 L961.5 882.5 L963.0 882.2 L964.5 881.6 L966.0 883.2 L967.5 883.2 L969.0 883.9 L970.5 883.3 L972.0 883.7 L973.5 883.3 L975.0 883.0 L976.5 881.9 L978.0 882.2 L979.5 883.6 L981.0 882.9 L982.5 884.0 L984.0 884.8 L985.5 883.6 L987.0 881.6 L988.5 881.2 L990.0 881.5 L991.5 882.3 L993.0 881.6 L994.5 881.2 L996.0 882.5 L997.5 882.9 L999.0 883.2 L1000.5 879.9 L1002.0 880.4 L1003.5 881.9 L1005.0 882.3 L1006.5 883.0 L1008.0 883.0 L1009.5 882.4 L1011.0 880.5 L1012.5 880.6 L1014.0 881.7 L1015.4 882.1 L1016.9 881.2 L1018.4 881.3 L1019.9 879.8 L1021.4 879.6 L1022.9 879.7 L1024.4 879.9 L1025.9 880.1 L1027.4 878.7 L1028.9 878.6 L1030.4 878.9 L1031.9 879.1 L1033.4 880.5 L1034.9 881.5 L1036.4 880.9 L1037.9 878.6 L1039.4 878.0 L1040.9 880.7 L1042.4 880.8 L1043.9 879.1 L1045.4 878.0 L1046.9 878.7 L1048.4 879.0 L1049.8 878.5 L1051.2 877.5 L1052.5 876.5 L1053.9 873.7 L1055.2 873.0 L1056.7 873.2 L1058.2 874.8 L1059.7 875.1 L1061.1 875.9 L1062.6 876.4 L1064.1 875.7 L1065.6 876.1 L1067.1 875.5 L1068.6 875.9 L1070.1 875.4 L1071.6 876.5 L1073.0 876.8 L1074.4 874.6 L1075.7 874.4 L1076.9 873.8 L1078.2 871.5 L1079.5 871.0 L1080.9 872.3 L1082.3 870.8 L1083.7 870.2 L1085.1 871.3 L1086.5 870.5 L1088.0 869.0 L1089.5 868.9 L1090.9 867.5 L1092.4 870.0 L1093.9 868.8 L1095.4 869.0 L1096.8 869.3 L1098.3 867.5 L1099.8 866.7 L1101.3 867.0 L1102.7 865.1 L1104.2 865.0 L1105.7 864.3 L1107.2 864.2 L1108.6 865.5 L1110.0 864.8 L1111.2 864.0 L1112.5 864.2 L1113.8 863.1 L1115.2 861.8 L1116.7 861.8 L1118.2 862.7 L1119.7 862.5 L1121.1 862.8 L1122.6 861.9 L1124.1 862.3 L1125.6 863.4 L1127.0 863.6 L1128.5 863.9 L1130.0 863.2 L1131.5 863.2 L1132.9 863.5 L1134.4 863.2 L1135.8 861.8 L1137.1 860.9 L1138.6 860.1 L1140.0 859.9 L1141.4 859.4 L1142.8 859.0 L1144.3 859.5 L1145.7 858.7 L1147.2 859.2 L1148.7 858.2 L1150.2 858.5 L1151.7 859.5 L1153.2 860.1 L1154.7 860.7 L1156.2 859.9 L1157.7 860.1 L1159.2 862.3 L1160.7 863.2 L1162.1 864.1 L1163.5 863.1 L1164.8 863.8 L1166.2 862.6 L1167.7 863.6 L1169.2 863.4 L1170.7 864.9 L1172.2 864.0 L1173.7 864.4 L1175.2 863.9 L1176.7 863.6 L1178.2 863.7 L1179.7 864.9 L1181.2 865.6 L1182.7 866.2 L1184.1 864.7 L1185.5 865.2 L1186.9 863.7 L1188.3 864.3 L1189.7 864.7 L1191.1 868.8 L1192.4 869.8 L1193.8 868.8 L1195.3 869.0 L1196.7 870.9 L1198.2 871.8 L1199.7 871.9 L1201.1 869.6 L1202.6 870.0 L1204.1 870.3 L1205.6 870.4 L1207.0 874.1 L1208.5 873.7 L1210.0 873.6 L1211.5 871.7 L1212.9 872.9 L1214.4 873.3 L1215.9 874.3 L1217.3 875.6 L1218.8 876.3 L1220.3 876.2 L1221.8 875.0 L1223.2 875.6 L1224.7 875.5 L1226.2 876.2 L1227.7 876.2 L1229.2 877.2 L1230.6 877.3 L1232.1 877.8 L1233.6 877.6 L1235.1 876.6 L1236.6 876.8 L1238.1 878.4 L1239.5 878.9 L1241.0 878.5 L1242.5 878.6 L1244.0 879.6 L1245.5 880.8 L1247.0 880.9 L1248.5 879.4 L1250.0 879.5 L1251.4 877.8 L1252.9 878.9 L1254.4 881.1 L1255.9 881.3 L1257.4 881.1 L1258.9 881.2 L1260.3 880.5 L1261.8 881.7 L1263.2 882.2 L1264.7 882.4 L1266.1 883.2 L1267.6 883.6 L1269.0 884.6 L1270.5 885.5 L1271.9 883.4 L1273.4 883.9 L1274.9 885.5 L1276.3 885.2 L1277.8 885.9 L1279.3 883.4 L1280.8 883.8 L1282.2 885.6 L1283.7 886.0 L1285.2 888.2 L1286.7 888.7 L1288.1 889.2 L1289.6 887.7 L1291.1 887.6 L1292.5 888.1 L1294.0 888.5 L1295.5 887.6 L1297.0 887.7 L1298.4 889.2 L1299.9 891.0 L1301.4 890.8 L1302.9 890.8 L1304.3 890.6 L1305.8 889.4 L1307.3 890.3 L1308.8 891.5 L1310.3 892.7 L1311.8 892.3 L1313.2 892.5 L1314.7 893.4 L1316.2 894.0 L1317.7 893.4 L1319.2 892.9 L1320.7 892.2 L1322.2 892.6 L1323.7 895.4 L1325.1 896.0 L1326.6 894.2 L1328.1 894.9 L1329.6 894.4 L1331.1 894.1 L1332.6 894.4 L1334.1 895.3 L1335.5 894.9 L1337.0 895.7 L1338.5 896.1 L1340.0 896.8 L1341.4 897.9 L1342.9 897.3 L1344.4 897.7 L1345.8 897.9 L1347.3 898.7 L1348.8 898.9 L1350.3 898.6 L1351.7 898.8 L1353.2 899.7 L1354.7 900.6 L1356.2 900.9 L1357.7 899.7 L1359.2 900.4 L1360.7 898.9 L1362.2 899.4 L1363.7 897.6 L1365.2 897.5 L1366.7 900.3 L1368.2 900.5 L1369.7 900.5 L1371.2 901.2 L1372.7 901.2 L1374.1 901.2 L1375.6 901.3 L1377.1 902.2 L1377.1 912.2 L1375.6 911.3 L1374.1 911.2 L1372.7 911.2 L1371.2 911.2 L1369.7 910.5 L1368.2 910.5 L1366.7 910.3 L1365.2 907.5 L1363.7 907.6 L1362.2 909.4 L1360.7 908.9 L1359.2 910.4 L1357.7 909.7 L1356.2 910.9 L1354.7 910.6 L1353.2 909.7 L1351.7 908.8 L1350.3 908.6 L1348.8 908.9 L1347.3 908.7 L1345.8 907.9 L1344.4 907.7 L1342.9 907.3 L1341.4 907.9 L1340.0 906.8 L1338.5 906.1 L1337.0 905.7 L1335.5 904.9 L1334.1 905.3 L1332.6 904.4 L1331.1 904.1 L1329.6 904.4 L1328.1 904.9 L1326.6 904.2 L1325.1 906.0 L1323.7 905.4 L1322.2 902.6 L1320.7 902.2 L1319.2 902.9 L1317.7 903.4 L1316.2 904.0 L1314.7 903.4 L1313.2 902.5 L1311.8 902.3 L1310.3 902.7 L1308.8 901.5 L1307.3 900.3 L1305.8 899.4 L1304.3 900.6 L1302.9 900.8 L1301.4 900.8 L1299.9 901.0 L1298.4 899.2 L1297.0 897.7 L1295.5 897.6 L1294.0 898.5 L1292.5 898.1 L1291.1 897.6 L1289.6 897.7 L1288.1 899.2 L1286.7 898.7 L1285.2 898.2 L1283.7 896.0 L1282.2 895.6 L1280.8 893.8 L1279.3 893.4 L1277.8 895.9 L1276.3 895.2 L1274.9 895.5 L1273.4 893.9 L1271.9 893.4 L1270.5 895.5 L1269.0 894.6 L1267.6 893.6 L1266.1 893.2 L1264.7 892.4 L1263.2 892.2 L1261.8 891.7 L1260.3 890.5 L1258.9 891.2 L1257.4 891.1 L1255.9 891.3 L1254.4 891.1 L1252.9 888.9 L1251.4 887.8 L1250.0 889.5 L1248.5 889.4 L1247.0 890.9 L1245.5 890.8 L1244.0 889.6 L1242.5 888.6 L1241.0 888.5 L1239.5 888.9 L1238.1 888.4 L1236.6 886.8 L1235.1 886.6 L1233.6 887.6 L1232.1 887.8 L1230.6 887.3 L1229.2 887.2 L1227.7 886.2 L1226.2 886.2 L1224.7 885.5 L1223.2 885.6 L1221.8 885.0 L1220.3 886.2 L1218.8 886.3 L1217.3 885.6 L1215.9 884.3 L1214.4 883.3 L1212.9 882.9 L1211.5 881.7 L1210.0 883.6 L1208.5 883.7 L1207.0 884.1 L1205.6 880.4 L1204.1 880.3 L1202.6 880.0 L1201.1 879.6 L1199.7 881.9 L1198.2 881.8 L1196.7 880.9 L1195.3 879.0 L1193.8 878.8 L1192.4 879.8 L1191.1 878.8 L1189.7 874.7 L1188.3 874.3 L1186.9 873.7 L1185.5 875.2 L1184.1 874.7 L1182.7 876.2 L1181.2 875.6 L1179.7 874.9 L1178.2 873.7 L1176.7 873.6 L1175.2 873.9 L1173.7 874.4 L1172.2 874.0 L1170.7 874.9 L1169.2 873.4 L1167.7 873.6 L1166.2 872.6 L1164.8 873.8 L1163.5 873.1 L1162.1 874.1 L1160.7 873.2 L1159.2 872.3 L1157.7 870.1 L1156.2 869.9 L1154.7 870.7 L1153.2 870.1 L1151.7 869.5 L1150.2 868.5 L1148.7 868.2 L1147.2 869.2 L1145.7 868.7 L1144.3 869.5 L1142.8 869.0 L1141.4 869.4 L1140.0 869.9 L1138.6 870.1 L1137.1 870.9 L1135.8 871.8 L1134.4 873.2 L1132.9 873.5 L1131.5 873.2 L1130.0 873.2 L1128.5 873.9 L1127.0 873.6 L1125.6 873.4 L1124.1 872.3 L1122.6 871.9 L1121.1 872.8 L1119.7 872.5 L1118.2 872.7 L1116.7 871.8 L1115.2 871.8 L1113.8 873.1 L1112.5 874.2 L1111.2 874.0 L1110.0 874.8 L1108.6 875.5 L1107.2 874.2 L1105.7 874.3 L1104.2 875.0 L1102.7 875.1 L1101.3 877.0 L1099.8 876.7 L1098.3 877.5 L1096.8 879.3 L1095.4 879.0 L1093.9 878.8 L1092.4 880.0 L1090.9 877.5 L1089.5 878.9 L1088.0 879.0 L1086.5 880.5 L1085.1 881.3 L1083.7 880.2 L1082.3 880.8 L1080.9 882.3 L1079.5 881.0 L1078.2 881.5 L1076.9 883.8 L1075.7 884.4 L1074.4 884.6 L1073.0 886.8 L1071.6 886.5 L1070.1 885.4 L1068.6 885.9 L1067.1 885.5 L1065.6 886.1 L1064.1 885.7 L1062.6 886.4 L1061.1 885.9 L1059.7 885.1 L1058.2 884.8 L1056.7 883.2 L1055.2 883.0 L1053.9 883.7 L1052.5 886.5 L1051.2 887.5 L1049.8 888.5 L1048.4 889.0 L1046.9 888.7 L1045.4 888.0 L1043.9 889.1 L1042.4 890.8 L1040.9 890.7 L1039.4 888.0 L1037.9 888.6 L1036.4 890.9 L1034.9 891.5 L1033.4 890.5 L1031.9 889.1 L1030.4 888.9 L1028.9 888.6 L1027.4 888.7 L1025.9 890.1 L1024.4 889.9 L1022.9 889.7 L1021.4 889.6 L1019.9 889.8 L1018.4 891.3 L1016.9 891.2 L1015.4 892.1 L1014.0 891.7 L1012.5 890.6 L1011.0 890.5 L1009.5 892.4 L1008.0 893.0 L1006.5 893.0 L1005.0 892.3 L1003.5 891.9 L1002.0 890.4 L1000.5 889.9 L999.0 893.2 L997.5 892.9 L996.0 892.5 L994.5 891.2 L993.0 891.6 L991.5 892.3 L990.0 891.5 L988.5 891.2 L987.0 891.6 L985.5 893.6 L984.0 894.8 L982.5 894.0 L981.0 892.9 L979.5 893.6 L978.0 892.2 L976.5 891.9 L975.0 893.0 L973.5 893.3 L972.0 893.7 L970.5 893.3 L969.0 893.9 L967.5 893.2 L966.0 893.2 L964.5 891.6 L963.0 892.2 L961.5 892.5 L960.0 892.0 L958.5 892.8 L957.0 892.8 L955.5 892.5 L954.0 892.5 L952.5 892.6 L951.0 893.5 L949.5 894.2 L948.0 894.1 L946.6 894.0 L945.0 893.7 L943.5 894.0 L942.1 894.2 L940.6 893.9 L939.1 893.2 L937.6 892.7 L936.1 893.2 L934.6 891.4 L933.1 891.1 L931.6 891.5 L930.1 890.3 L928.6 890.2 L927.1 891.8 L925.6 890.6 L924.1 891.6 L922.6 891.5 L921.1 890.9 L919.6 892.5 L918.2 892.1 L916.7 889.3 L915.2 889.3 L913.7 890.2 L912.2 890.4 L910.7 889.6 L909.2 889.5 L907.7 890.0 L906.2 890.5 L904.7 889.5 L903.2 888.1 L901.7 888.9 L900.2 890.0 L898.7 890.1 L897.2 888.3 L895.7 888.0 L894.2 888.2 L892.7 888.4 L891.3 888.1 L889.8 887.8 L888.3 886.9 L886.8 885.9 L885.4 886.7 L883.9 886.0 L882.4 887.9 L881.0 888.3 L879.5 884.9 L878.1 885.0 L876.6 883.6 L875.1 883.2 L873.6 883.0 L872.2 882.7 L870.7 883.3 L869.2 885.0 L867.7 884.3 L866.2 886.1 L864.7 885.9 L863.2 884.1 L861.7 885.1 L860.2 883.6 L858.7 884.9 L857.2 884.7 L855.7 883.8 L854.2 883.7 L852.7 883.3 L851.2 883.7 L849.7 885.5 L848.2 884.3 L846.7 884.5 L845.3 884.6 L843.9 883.5 L842.5 881.0 L841.1 880.2 L839.7 880.8 L838.2 880.9 L836.7 881.4 L835.3 880.4 L833.8 880.0 L832.3 879.5 L830.8 879.2 L829.4 879.4 L827.9 877.6 L826.4 877.5 L824.9 878.7 L823.5 878.0 L822.0 877.8 L820.5 878.5 L819.1 876.3 L817.6 876.3 L816.1 875.8 L814.6 876.7 L813.2 876.2 L811.7 876.4 L810.2 875.8 L808.7 874.0 L807.3 873.5 L805.8 873.0 L804.3 876.4 L802.8 876.5 L801.3 875.5 L799.8 876.0 L798.3 873.9 L796.8 873.2 L795.3 873.0 L793.9 873.2 L792.5 872.5 L791.1 870.0 L789.6 869.4 L788.2 870.5 L786.8 870.5 L785.3 870.5 L783.8 869.3 L782.4 869.2 L780.9 869.8 L779.4 869.1 L777.9 869.1 L776.5 868.4 L775.0 868.0 L773.5 868.7 L772.0 867.9 L770.6 867.8 L769.1 867.1 L767.6 866.7 L766.1 866.3 L764.7 867.0 L763.2 867.0 L761.7 865.8 L760.2 864.7 L758.8 865.5 L757.3 865.3 L755.8 864.7 L754.4 866.0 L752.9 865.2 L751.5 864.5 L750.0 862.9 L748.6 862.9 L747.1 863.3 L745.7 862.3 L744.3 862.2 L742.9 859.5 L741.5 859.4 L740.1 860.2 L738.7 859.4 L737.3 856.7 L735.9 856.3 L734.6 856.5 L733.2 856.5 L731.8 855.5 L730.4 856.8 L729.0 855.2 L727.5 855.1 L726.1 854.2 L724.8 853.4 L723.4 854.6 L722.0 854.1 L720.7 853.4 L719.3 852.3 L718.0 851.5 L716.7 850.2 L715.3 848.3 L714.0 848.1 L712.6 849.2 L711.2 848.1 L709.9 846.8 L708.5 846.0 L707.1 845.2 L705.7 843.9 L704.3 842.7 L702.9 842.9 L701.5 841.9 L700.1 841.9 L698.8 841.3 L697.4 840.5 L696.1 839.6 L694.7 839.2 L693.4 839.0 L692.1 839.8 L690.8 839.2 L689.5 836.8 L688.2 835.9 L687.0 834.4 L685.7 835.5 L684.5 835.0 L683.3 834.4 L682.1 832.2 L680.9 831.4 L679.8 829.6 L678.6 830.1 L677.4 828.6 L676.3 826.9 L675.2 825.7 L674.1 824.5 L673.0 823.6 L671.9 823.2 L670.9 822.5 L669.9 820.8 L669.0 818.9 L668.0 818.7 L667.0 817.9 L666.0 815.3 L664.9 814.2 L663.7 814.1 L662.6 813.5 L661.4 812.3 L660.2 811.3 L659.0 812.8 L657.8 811.7 L656.6 810.3 L655.4 808.9 L654.3 807.4 L653.1 806.5 L651.9 807.3 L650.8 805.7 L649.6 805.1 L648.4 801.7 L647.2 801.0 L646.1 800.1 L644.9 800.0 L643.7 799.5 L642.5 798.2 L641.3 796.0 L640.1 795.6 L638.9 794.5 L637.7 792.6 L636.6 792.5 L635.4 793.1 L634.3 792.0 L633.3 790.6 L632.2 790.6 L631.2 788.3 L630.3 787.0 L629.3 785.6 L628.4 784.4 L627.4 783.4 L626.5 783.0 L625.6 781.2 L624.7 780.2 L623.7 778.8 L622.7 778.1 L621.8 777.0 L620.8 775.6 L619.8 774.9 L618.9 773.3 L617.9 771.8 L616.9 769.7 L616.0 769.3 L615.0 767.7 L614.1 765.6 L613.2 764.6 L612.2 764.3 L611.4 764.4 L610.5 762.4 L609.6 760.7 L608.8 759.5 L607.9 755.8 L607.1 755.1 L606.3 753.7 L605.4 752.7 L604.5 754.6 L603.6 753.4 L602.7 752.5 L601.7 751.3 L600.7 749.6 L599.7 748.6 L598.6 747.0 L597.5 745.9 L596.4 745.2 L595.3 744.4 L594.2 741.8 L593.1 741.0 L592.1 739.1 L591.1 738.4 L590.1 737.7 L589.2 736.3 L588.2 735.4 L587.3 735.4 L586.4 733.5 L585.5 733.0 L584.6 731.6 L583.6 729.2 L582.6 728.7 L581.6 726.6 L580.5 725.4 L579.4 724.8 L578.3 723.5 L577.1 723.0 L575.9 722.6 L574.7 721.4 L573.5 720.1 L572.3 719.0 L571.1 717.8 L569.9 718.1 L568.7 717.1 L567.6 715.9 L566.4 714.9 L565.3 714.3 L564.1 710.9 L562.9 710.5 L561.7 709.6 L560.5 710.9 L559.3 709.3 L558.1 707.7 L556.8 708.1 L555.6 707.5 L554.4 706.6 L553.1 705.8 L551.8 704.6 L550.4 705.3 L549.0 702.7 L547.6 703.3 L546.1 703.5 L544.6 703.1 L543.2 702.6 L541.7 701.9 L540.2 700.9 L538.7 700.4 L537.2 700.4 L535.8 700.1 L534.3 699.2 L532.8 699.5 L531.4 699.3 L529.9 700.2 L528.4 698.8 L526.9 699.0 L525.4 701.4 L523.9 700.8 L522.5 698.7 L521.0 699.0 L519.5 697.6 L518.0 697.5 L516.5 698.1 L515.0 697.3 L513.5 698.0 L512.0 699.4 L510.4 698.4 L508.9 698.0 L507.4 697.7 L505.9 698.6 L504.4 698.3 L503.0 697.3 L501.5 698.3 L500.0 697.9 L498.5 699.3 L497.0 698.0 L495.5 696.0 L494.0 696.3 L492.5 696.8 L491.0 696.8 L489.5 697.2 L488.0 696.5 L486.5 696.1 L485.0 698.0 L483.5 698.6 L482.0 698.0 L480.5 697.5 L479.0 698.3 L477.5 698.2 L476.0 697.6 L474.5 696.7 L473.0 696.1 L471.6 697.3 L470.1 695.4 L468.6 695.5 L467.1 695.0 L465.7 694.2 L464.2 695.9 L462.8 695.5 L461.3 693.8 L459.9 693.2 L458.4 692.1 L457.0 692.2 L455.6 691.1 L454.1 689.9 L452.7 689.8 L451.4 689.7 L450.0 687.9 L448.6 687.4 L447.3 685.5 L446.0 685.4 L444.7 687.7 L443.4 686.5 L442.1 685.9 L440.8 685.6 L439.5 685.2 L438.3 680.7 L437.1 679.3 L435.9 679.0 L434.7 680.4 L433.5 678.9 L432.3 678.4 L431.2 677.0 L430.1 674.9 L429.0 674.5 L428.0 673.1 L427.0 672.6 L426.0 670.7 L424.9 669.7 L423.9 667.9 L422.8 666.1 L421.7 666.1 L420.6 667.8 L419.4 667.4 L418.2 665.9 L416.9 665.4 L415.7 664.4 L414.5 663.5 L413.4 663.1 L412.2 662.6 L411.2 661.4 L410.2 657.6 L409.2 656.1 L408.3 656.2 L407.5 654.2 L406.6 653.0 L405.8 651.8 L405.0 650.9 L404.1 649.5 L403.3 647.6 L402.5 646.3 L401.6 645.1 L400.7 644.7 L399.8 642.9 L398.8 642.1 L397.8 640.3 L396.9 639.2 L395.9 637.8 L394.9 636.9 L394.0 636.3 L393.0 635.5 L392.1 634.9 L391.2 633.4 L390.3 631.7 L389.5 630.0 L388.7 627.7 L388.0 626.8 L387.2 626.7 L386.4 625.8 L385.4 624.0 L384.4 623.0 L383.4 621.0 L382.3 620.4 L381.2 619.4 L380.1 618.6 L378.9 617.2 L377.8 617.0 L376.8 616.2 L375.8 614.7 L374.8 613.4 L373.9 613.0 L373.0 611.5 L372.2 610.8 L371.4 609.1 L370.5 608.5 L369.7 605.8 L368.9 605.1 L368.0 603.9 L367.1 602.3 L366.2 599.1 L365.3 597.9 L364.3 597.0 L363.3 596.3 L362.4 594.4 L361.4 593.8 L360.4 592.3 L359.3 592.8 L358.3 592.7 L357.2 592.0 L356.0 589.7 L354.8 589.2 L353.6 587.7 L352.3 586.8 L351.1 585.8 L349.8 585.1 L348.5 585.0 L347.2 583.1 L345.7 582.5 L344.2 583.2 L342.7 585.2 L341.3 586.0 L339.9 586.0 L338.6 585.4 L337.3 585.9 L336.1 585.9 L334.8 587.2 L333.6 587.7 L332.4 589.2 L331.2 589.6 L330.1 590.7 L329.0 592.6 L328.0 594.4 L327.0 594.8 L326.0 597.5 L325.0 598.2 L324.0 599.5 L323.0 600.7 L322.0 600.9 L321.0 602.8 L320.0 603.4 L319.1 604.4 L318.1 605.8 L317.2 607.2 L316.3 608.2 L315.4 609.5 L314.6 611.1 L313.8 611.5 L313.1 613.3 L312.5 612.3 L311.9 613.8 L311.4 615.2 L311.0 616.4 L310.6 618.1 L310.3 619.7 L309.9 621.0 L309.6 622.5 L309.2 623.2 L308.8 627.0 L308.3 628.5 L307.7 628.6 L307.0 630.1 L306.1 632.1 L305.2 633.5 L304.2 634.8 L303.1 635.6 L302.0 637.1 L300.9 638.8 L299.8 639.7 L298.9 638.4 L298.0 640.0 L297.2 642.1 L296.5 642.5 L295.8 643.6 L295.3 646.2 L294.7 647.8 L294.2 649.3 L293.6 651.5 L293.1 652.0 L292.6 653.9 L292.0 654.3 L291.4 655.0 L290.7 655.6 L289.9 657.3 L289.2 658.9 L288.4 662.7 L287.6 664.3 L286.8 665.4 L286.0 667.2 L285.2 665.9 L284.3 666.9 L283.4 668.1 L282.5 668.9 L281.6 671.3 L280.7 672.1 L279.8 673.9 L278.8 674.6 L277.8 676.0 L276.8 676.5 L275.8 677.2 L274.7 677.6 L273.7 678.0 L272.6 679.3 L271.6 683.6 L270.5 684.4 L269.5 686.0 L268.5 686.6 L267.5 687.3 L266.6 688.4 L265.6 689.7 L264.6 689.8 L263.7 690.8 L262.7 691.6 L261.6 692.8 L260.6 692.6 L259.5 693.4 L258.4 695.3 L257.2 697.9 L256.0 699.3 L254.7 700.2 L253.5 698.9 L252.2 700.8 L251.0 701.5 L249.7 702.9 L248.5 703.5 L247.2 703.7 L246.0 703.6 L244.7 703.5 L243.5 708.1 L242.3 707.5 L241.0 709.2 L239.6 710.0 L238.2 710.6 L236.8 707.3 L235.3 707.8 L233.9 711.1 L232.4 711.4 L230.9 710.5 L229.4 710.1 L227.9 711.3 L226.5 712.6 L225.0 712.6 L223.6 713.5 L222.2 714.0 L220.7 713.7 L219.3 715.3 L217.9 715.4 L216.4 714.4 L215.0 715.5 L213.5 715.2 L212.0 716.2 L210.6 716.6 L209.1 718.1 L207.6 718.2 L206.1 716.9 L204.6 717.5 L203.1 718.4 L201.6 719.0 L200.2 719.3 L198.7 718.9 L197.2 719.7 L195.7 718.1 L194.2 718.9 L192.8 718.3 L191.4 716.9 L190.2 716.3 L188.9 715.3 L187.7 714.0 L186.4 714.4 L185.0 713.1 L183.6 712.2 L182.2 713.2 L180.7 712.1 L179.3 711.9 L177.8 710.9 L176.4 709.5 L174.9 709.3 L173.5 708.4 L172.2 707.9 L170.8 706.7 L169.4 708.5 L168.1 707.4 L166.8 707.1 L165.5 703.3 L164.2 703.1 L162.9 705.1 L161.6 704.6 L160.3 703.0 L159.1 701.7 L157.9 700.8 L156.6 699.7 L155.4 699.2 L154.2 698.6 L153.0 697.3 L151.8 696.6 L150.6 696.4 L149.4 695.2 L148.2 693.4 L147.0 692.5 L145.8 691.4 L144.7 689.7 L143.6 688.5 L142.5 689.9 L141.4 688.4 L140.4 687.9 L139.4 686.0 L138.5 684.7 L137.5 682.7 L136.6 681.8 L135.7 681.1 L134.7 679.2 L133.8 678.7 L132.9 677.2 L131.9 677.5 L131.0 676.5 L130.0 675.9 L129.0 674.4 L128.0 672.1 L127.0 670.7 L126.0 670.1 L125.0 667.1 L124.0 666.8 L123.1 665.6 L122.2 664.5 L121.3 662.6 L120.5 662.2 L119.8 661.4 L119.0 659.3 L118.3 658.8 L117.6 658.0 L117.0 656.5 L116.3 654.0 L115.7 653.6 L115.1 652.9 L114.4 650.9 L113.8 650.0 L113.2 648.9 L112.5 647.9 L111.9 644.3 L111.2 643.6 L110.6 641.8 L109.9 640.3 L109.2 639.0 L108.6 637.8 L107.9 636.8 L107.3 635.1 L106.6 633.7 L106.0 632.4 L105.3 630.5 L104.7 631.0 L104.0 629.6 L103.3 628.2 L102.7 626.9 L102.0 625.2 L101.3 623.3 L100.5 621.1 L99.8 620.7 L99.0 618.6 L98.2 618.0 L97.3 617.5 L96.5 616.3 L95.8 614.7 L95.1 613.0 L94.5 610.2 L93.8 609.4 L93.2 609.3 L92.7 607.5 L92.1 605.4 L91.5 604.4 L91.0 601.9 L90.4 600.9 L89.9 599.5 L89.4 598.2 L88.9 596.6 L88.4 594.7 L87.9 594.3 L87.4 592.5 L86.9 591.0 L86.4 590.2 L85.9 588.0 L85.4 585.6 L84.9 584.6 L84.4 584.9 L83.9 583.7 L83.4 581.6 L82.9 579.8 L82.3 579.3 L81.8 577.4 L81.3 576.2 L80.8 575.1 L80.2 572.4 L79.7 571.5 L79.2 570.2 L78.6 568.6 L78.1 567.9 L77.6 566.6 L77.1 565.0 L76.6 563.8 L76.1 562.9 L75.6 560.8 L75.1 560.2 L74.7 557.5 L74.2 559.0 L73.8 557.4 L73.4 556.0 L73.0 554.3 L72.5 553.6 L72.2 551.9 L71.8 549.5 L71.4 548.6 L71.0 544.2 L70.7 542.5 L70.4 541.0 L70.0 539.3 L69.7 538.4 L69.5 536.8 L69.2 535.4 L68.9 534.4 L68.6 532.5 L68.4 530.5 L68.1 529.1 L67.9 527.8 L67.6 527.2 L67.4 525.5 L67.2 523.7 L66.9 522.0 L66.7 521.3 L66.5 519.5 L66.3 518.1 L66.0 516.4 L65.8 515.8 L65.6 513.7 L65.4 512.1 L65.2 510.7 L65.0 509.0 L64.7 507.8 L64.5 506.0 L64.3 504.7 L64.1 502.2 L63.9 500.2 L63.7 498.8 L63.4 497.1 L63.2 496.3 L63.0 494.2 L62.8 493.0 L62.6 490.7 L62.4 490.0 L62.1 488.7 L61.9 487.1 L61.7 485.5 L61.5 484.3 L61.2 483.0 L61.0 480.9 L60.8 481.2 L60.5 479.4 L60.3 477.9 L60.0 476.3 L59.8 474.5 L59.5 473.5 L59.3 472.3 L59.1 470.0 L58.8 468.5 L58.6 468.0 L58.3 466.4 L58.1 464.1 L57.8 463.2 L57.6 461.6 L57.3 459.3 L57.1 458.8 L56.8 456.6 L56.6 455.5 L56.3 454.1 L56.1 451.6 L55.8 451.1 L55.6 449.5 L55.4 449.1 L55.1 447.3 L54.9 445.1 L54.6 443.6 L54.4 441.9 L54.2 441.0 L53.9 439.4 L53.7 437.4 L53.5 436.5 L53.2 434.6 L53.0 433.1 L52.8 432.2 L52.6 430.6 L52.3 429.2 L52.1 427.0 L51.9 425.5 L51.7 423.9 L51.5 423.2 L51.3 421.2 L51.1 419.8 L50.9 418.5 L50.7 417.5 L50.5 415.9 L50.3 414.5 L50.1 413.5 L49.9 411.2 L49.8 409.6 L49.6 409.0 L49.4 406.5 L49.3 406.1 L49.1 403.8 L49.0 403.0 L48.8 401.3 L48.7 399.5 L48.5 397.8 L48.4 396.8 L48.2 394.8 L48.1 393.4 L47.9 392.7 L47.8 390.9 L47.6 389.3 L47.5 387.9 L47.3 386.8 L47.2 382.6 L47.0 380.6 L46.9 379.0 L46.7 377.9 L46.6 376.5 L46.4 374.9 L46.3 373.1 L46.1 372.1 L46.0 370.5 L45.8 367.9 L45.6 368.1 L45.5 365.8 L45.3 364.9 L45.2 362.5 L45.0 361.6 L44.8 360.0 L44.6 358.8 L44.5 357.1 L44.3 355.7 L44.1 354.4 L43.9 357.0 L43.7 354.6 L43.4 353.6 L43.2 352.5 L43.0 350.4 L42.7 348.5 L42.4 347.3 L42.0 346.1 L41.6 345.2 L41.1 342.8 L40.5 341.7Z" fill="#cc00ff"/>
<path d="M40.5 336.7 L41.1 337.8 L41.6 340.2 L42.0 341.1 L42.4 342.3 L42.7 343.5 L43.0 345.4 L43.2 347.5 L43.4 348.6 L43.7 349.6 L43.9 352.0 L44.1 349.4 L44.3 350.7 L44.5 352.1 L44.6 353.8 L44.8 355.0 L45.0 356.6 L45.2 357.5 L45.3 359.9 L45.5 360.8 L45.6 363.1 L45.8 362.9 L46.0 365.5 L46.1 367.1 L46.3 368.1 L46.4 369.9 L46.6 371.5 L46.7 372.9 L46.9 374.0 L47.0 375.6 L47.2 377.6 L47.3 381.8 L47.5 382.9 L47.6 384.3 L47.8 385.9 L47.9 387.7 L48.1 388.4 L48.2 389.8 L48.4 391.8 L48.5 392.8 L48.7 394.5 L48.8 396.3 L49.0 398.0 L49.1 398.8 L49.3 401.1 L49.4 401.5 L49.6 404.0 L49.8 404.6 L49.9 406.2 L50.1 408.5 L50.3 409.5 L50.5 410.9 L50.7 412.5 L50.9 413.5 L51.1 414.8 L51.3 416.2 L51.5 418.2 L51.7 418.9 L51.9 420.5 L52.1 422.0 L52.3 424.2 L52.6 425.6 L52.8 427.2 L53.0 428.1 L53.2 429.6 L53.5 431.5 L53.7 432.4 L53.9 434.4 L54.2 436.0 L54.4 436.9 L54.6 438.6 L54.9 440.1 L55.1 442.3 L55.4 444.1 L55.6 444.5 L55.8 446.1 L56.1 446.6 L56.3 449.1 L56.6 450.5 L56.8 451.6 L57.1 453.8 L57.3 454.3 L57.6 456.6 L57.8 458.2 L58.1 459.1 L58.3 461.4 L58.6 463.0 L58.8 463.5 L59.1 465.0 L59.3 467.3 L59.5 468.5 L59.8 469.5 L60.0 471.3 L60.3 472.9 L60.5 474.4 L60.8 476.2 L61.0 475.9 L61.2 478.0 L61.5 479.3 L61.7 480.5 L61.9 482.1 L62.1 483.7 L62.4 485.0 L62.6 485.7 L62.8 488.0 L63.0 489.2 L63.2 491.3 L63.4 492.1 L63.7 493.8 L63.9 495.2 L64.1 497.2 L64.3 499.7 L64.5 501.0 L64.7 502.8 L65.0 504.0 L65.2 505.7 L65.4 507.1 L65.6 508.7 L65.8 510.8 L66.0 511.4 L66.3 513.1 L66.5 514.5 L66.7 516.3 L66.9 517.0 L67.2 518.7 L67.4 520.5 L67.6 522.2 L67.9 522.8 L68.1 524.1 L68.4 525.5 L68.6 527.5 L68.9 529.4 L69.2 530.4 L69.5 531.8 L69.7 533.4 L70.0 534.3 L70.4 536.0 L70.7 537.5 L71.0 539.2 L71.4 543.6 L71.8 544.5 L72.2 546.9 L72.5 548.6 L73.0 549.3 L73.4 551.0 L73.8 552.4 L74.2 554.0 L74.7 552.5 L75.1 555.2 L75.6 555.8 L76.1 557.9 L76.6 558.8 L77.1 560.0 L77.6 561.6 L78.1 562.9 L78.6 563.6 L79.2 565.2 L79.7 566.5 L80.2 567.4 L80.8 570.1 L81.3 571.2 L81.8 572.4 L82.3 574.3 L82.9 574.8 L83.4 576.6 L83.9 578.7 L84.4 579.9 L84.9 579.6 L85.4 580.6 L85.9 583.0 L86.4 585.2 L86.9 586.0 L87.4 587.5 L87.9 589.3 L88.4 589.7 L88.9 591.6 L89.4 593.2 L89.9 594.5 L90.4 595.9 L91.0 596.9 L91.5 599.4 L92.1 600.4 L92.7 602.5 L93.2 604.3 L93.8 604.4 L94.5 605.2 L95.1 608.0 L95.8 609.7 L96.5 611.3 L97.3 612.5 L98.2 613.0 L99.0 613.6 L99.8 615.7 L100.5 616.1 L101.3 618.3 L102.0 620.2 L102.7 621.9 L103.3 623.2 L104.0 624.6 L104.7 626.0 L105.3 625.5 L106.0 627.4 L106.6 628.7 L107.3 630.1 L107.9 631.8 L108.6 632.8 L109.2 634.0 L109.9 635.3 L110.6 636.8 L111.2 638.6 L111.9 639.3 L112.5 642.9 L113.2 643.9 L113.8 645.0 L114.4 645.9 L115.1 647.9 L115.7 648.6 L116.3 649.0 L117.0 651.5 L117.6 653.0 L118.3 653.8 L119.0 654.3 L119.8 656.4 L120.5 657.2 L121.3 657.6 L122.2 659.5 L123.1 660.6 L124.0 661.8 L125.0 662.1 L126.0 665.1 L127.0 665.7 L128.0 667.1 L129.0 669.4 L130.0 670.9 L131.0 671.5 L131.9 672.5 L132.9 672.2 L133.8 673.7 L134.7 674.2 L135.7 676.1 L136.6 676.8 L137.5 677.7 L138.5 679.7 L139.4 681.0 L140.4 682.9 L141.4 683.4 L142.5 684.9 L143.6 683.5 L144.7 684.7 L145.8 686.4 L147.0 687.5 L148.2 688.4 L149.4 690.2 L150.6 691.4 L151.8 691.6 L153.0 692.3 L154.2 693.6 L155.4 694.2 L156.6 694.7 L157.9 695.8 L159.1 696.7 L160.3 698.0 L161.6 699.6 L162.9 700.1 L164.2 698.1 L165.5 698.3 L166.8 702.1 L168.1 702.4 L169.4 703.5 L170.8 701.7 L172.2 702.9 L173.5 703.4 L174.9 704.3 L176.4 704.5 L177.8 705.9 L179.3 706.9 L180.7 707.1 L182.2 708.2 L183.6 707.2 L185.0 708.1 L186.4 709.4 L187.7 709.0 L188.9 710.3 L190.2 711.3 L191.4 711.9 L192.8 713.3 L194.2 713.9 L195.7 713.1 L197.2 714.7 L198.7 713.9 L200.2 714.3 L201.6 714.0 L203.1 713.4 L204.6 712.5 L206.1 711.9 L207.6 713.2 L209.1 713.1 L210.6 711.6 L212.0 711.2 L213.5 710.2 L215.0 710.5 L216.4 709.4 L217.9 710.4 L219.3 710.3 L220.7 708.7 L222.2 709.0 L223.6 708.5 L225.0 707.6 L226.5 707.6 L227.9 706.3 L229.4 705.1 L230.9 705.5 L232.4 706.4 L233.9 706.1 L235.3 702.8 L236.8 702.3 L238.2 705.6 L239.6 705.0 L241.0 704.2 L242.3 702.5 L243.5 703.1 L244.7 698.5 L246.0 698.6 L247.2 698.7 L248.5 698.5 L249.7 697.9 L251.0 696.5 L252.2 695.8 L253.5 693.9 L254.7 695.2 L256.0 694.3 L257.2 692.9 L258.4 690.3 L259.5 688.4 L260.6 687.6 L261.6 687.8 L262.7 686.6 L263.7 685.8 L264.6 684.8 L265.6 684.7 L266.6 683.4 L267.5 682.3 L268.5 681.6 L269.5 681.0 L270.5 679.4 L271.6 678.6 L272.6 674.3 L273.7 673.0 L274.7 672.6 L275.8 672.2 L276.8 671.5 L277.8 671.0 L278.8 669.6 L279.8 668.9 L280.7 667.1 L281.6 666.3 L282.5 663.9 L283.4 663.1 L284.3 661.9 L285.2 660.9 L286.0 662.2 L286.8 660.4 L287.6 659.3 L288.4 657.7 L289.2 653.9 L289.9 652.3 L290.7 650.6 L291.4 650.0 L292.0 649.3 L292.6 648.9 L293.1 647.0 L293.6 646.5 L294.2 644.3 L294.7 642.8 L295.3 641.2 L295.8 638.6 L296.5 637.5 L297.2 637.1 L298.0 635.0 L298.9 633.4 L299.8 634.7 L300.9 633.8 L302.0 632.1 L303.1 630.6 L304.2 629.8 L305.2 628.5 L306.1 627.1 L307.0 625.1 L307.7 623.6 L308.3 623.5 L308.8 622.0 L309.2 618.2 L309.6 617.5 L309.9 616.0 L310.3 614.7 L310.6 613.1 L311.0 611.4 L311.4 610.2 L311.9 608.8 L312.5 607.3 L313.1 608.3 L313.8 606.5 L314.6 606.1 L315.4 604.5 L316.3 603.2 L317.2 602.2 L318.1 600.8 L319.1 599.4 L320.0 598.4 L321.0 597.8 L322.0 595.9 L323.0 595.7 L324.0 594.5 L325.0 593.2 L326.0 592.5 L327.0 589.8 L328.0 589.4 L329.0 587.6 L330.1 585.7 L331.2 584.6 L332.4 584.2 L333.6 582.7 L334.8 582.2 L336.1 580.9 L337.3 580.9 L338.6 580.4 L339.9 581.0 L341.3 581.0 L342.7 580.2 L344.2 578.2 L345.7 577.5 L347.2 578.1 L348.5 580.0 L349.8 580.1 L351.1 580.8 L352.3 581.8 L353.6 582.7 L354.8 584.2 L356.0 584.7 L357.2 587.0 L358.3 587.7 L359.3 587.8 L360.4 587.3 L361.4 588.8 L362.4 589.4 L363.3 591.3 L364.3 592.0 L365.3 592.9 L366.2 594.1 L367.1 597.3 L368.0 598.9 L368.9 600.1 L369.7 600.8 L370.5 603.5 L371.4 604.1 L372.2 605.8 L373.0 606.5 L373.9 608.0 L374.8 608.4 L375.8 609.7 L376.8 611.2 L377.8 612.0 L378.9 612.2 L380.1 613.6 L381.2 614.4 L382.3 615.4 L383.4 616.0 L384.4 618.0 L385.4 619.0 L386.4 620.8 L387.2 621.7 L388.0 621.8 L388.7 622.7 L389.5 625.0 L390.3 626.7 L391.2 628.4 L392.1 629.9 L393.0 630.5 L394.0 631.3 L394.9 631.9 L395.9 632.8 L396.9 634.2 L397.8 635.3 L398.8 637.1 L399.8 637.9 L400.7 639.7 L401.6 640.1 L402.5 641.3 L403.3 642.6 L404.1 644.5 L405.0 645.9 L405.8 646.8 L406.6 648.0 L407.5 649.2 L408.3 651.2 L409.2 651.1 L410.2 652.6 L411.2 656.4 L412.2 657.6 L413.4 658.1 L414.5 658.5 L415.7 659.4 L416.9 660.4 L418.2 660.9 L419.4 662.4 L420.6 662.8 L421.7 661.1 L422.8 661.1 L423.9 662.9 L424.9 664.7 L426.0 665.7 L427.0 667.6 L428.0 668.1 L429.0 669.5 L430.1 669.9 L431.2 672.0 L432.3 673.4 L433.5 673.9 L434.7 675.4 L435.9 674.0 L437.1 674.3 L438.3 675.7 L439.5 680.2 L440.8 680.6 L442.1 680.9 L443.4 681.5 L444.7 682.7 L446.0 680.4 L447.3 680.5 L448.6 682.4 L450.0 682.9 L451.4 684.7 L452.7 684.8 L454.1 684.9 L455.6 686.1 L457.0 687.2 L458.4 687.1 L459.9 688.2 L461.3 688.8 L462.8 690.5 L464.2 690.9 L465.7 689.2 L467.1 690.0 L468.6 690.5 L470.1 690.4 L471.6 692.3 L473.0 691.1 L474.5 691.7 L476.0 692.6 L477.5 693.2 L479.0 693.3 L480.5 692.5 L482.0 693.0 L483.5 693.6 L485.0 693.0 L486.5 691.1 L488.0 691.5 L489.5 692.2 L491.0 691.8 L492.5 691.8 L494.0 691.3 L495.5 691.0 L497.0 693.0 L498.5 694.3 L500.0 692.9 L501.5 693.3 L503.0 692.3 L504.4 693.3 L505.9 693.6 L507.4 692.7 L508.9 693.0 L510.4 693.4 L512.0 694.4 L513.5 693.0 L515.0 692.3 L516.5 693.1 L518.0 692.5 L519.5 692.6 L521.0 694.0 L522.5 693.7 L523.9 695.8 L525.4 696.4 L526.9 694.0 L528.4 693.8 L529.9 695.2 L531.4 694.3 L532.8 694.5 L534.3 694.2 L535.8 695.1 L537.2 695.4 L538.7 695.4 L540.2 695.9 L541.7 696.9 L543.2 697.6 L544.6 698.1 L546.1 698.5 L547.6 698.3 L549.0 697.7 L550.4 700.3 L551.8 699.6 L553.1 700.8 L554.4 701.6 L555.6 702.5 L556.8 703.1 L558.1 702.7 L559.3 704.3 L560.5 705.9 L561.7 704.6 L562.9 705.5 L564.1 705.9 L565.3 709.3 L566.4 709.9 L567.6 710.9 L568.7 712.1 L569.9 713.1 L571.1 712.8 L572.3 714.0 L573.5 715.1 L574.7 716.4 L575.9 717.6 L577.1 718.0 L578.3 718.5 L579.4 719.8 L580.5 720.4 L581.6 721.6 L582.6 723.7 L583.6 724.2 L584.6 726.6 L585.5 728.0 L586.4 728.5 L587.3 730.4 L588.2 730.4 L589.2 731.3 L590.1 732.7 L591.1 733.4 L592.1 734.1 L593.1 736.0 L594.2 736.8 L595.3 739.4 L596.4 740.2 L597.5 740.9 L598.6 742.0 L599.7 743.6 L600.7 744.6 L601.7 746.3 L602.7 747.5 L603.6 748.4 L604.5 749.6 L605.4 747.7 L606.3 748.7 L607.1 750.1 L607.9 750.8 L608.8 754.5 L609.6 755.7 L610.5 757.4 L611.4 759.4 L612.2 759.3 L613.2 759.6 L614.1 760.6 L615.0 762.7 L616.0 764.3 L616.9 764.7 L617.9 766.8 L618.9 768.3 L619.8 769.9 L620.8 770.6 L621.8 772.0 L622.7 773.1 L623.7 773.8 L624.7 775.2 L625.6 776.2 L626.5 778.0 L627.4 778.4 L628.4 779.4 L629.3 780.6 L630.3 782.0 L631.2 783.3 L632.2 785.6 L633.3 785.6 L634.3 787.0 L635.4 788.1 L636.6 787.5 L637.7 787.6 L638.9 789.5 L640.1 790.6 L641.3 791.0 L642.5 793.2 L643.7 794.5 L644.9 795.0 L646.1 795.1 L647.2 796.0 L648.4 796.7 L649.6 800.1 L650.8 800.7 L651.9 802.3 L653.1 801.5 L654.3 802.4 L655.4 803.9 L656.6 805.3 L657.8 806.7 L659.0 807.8 L660.2 806.3 L661.4 807.3 L662.6 808.5 L663.7 809.1 L664.9 809.2 L666.0 810.3 L667.0 812.9 L668.0 813.7 L669.0 813.9 L669.9 815.8 L670.9 817.5 L671.9 818.2 L673.0 818.6 L674.1 819.5 L675.2 820.7 L676.3 821.9 L677.4 823.6 L678.6 825.1 L679.8 824.6 L680.9 826.4 L682.1 827.2 L683.3 829.4 L684.5 830.0 L685.7 830.5 L687.0 829.4 L688.2 830.9 L689.5 831.8 L690.8 834.2 L692.1 834.8 L693.4 834.0 L694.7 834.2 L696.1 834.6 L697.4 835.5 L698.8 836.3 L700.1 836.9 L701.5 836.9 L702.9 837.9 L704.3 837.7 L705.7 838.9 L707.1 840.2 L708.5 841.0 L709.9 841.8 L711.2 843.1 L712.6 844.2 L714.0 843.1 L715.3 843.3 L716.7 845.2 L718.0 846.5 L719.3 847.3 L720.7 848.4 L722.0 849.1 L723.4 849.6 L724.8 848.4 L726.1 849.2 L727.5 850.1 L729.0 850.2 L730.4 851.8 L731.8 850.5 L733.2 851.5 L734.6 851.5 L735.9 851.3 L737.3 851.7 L738.7 854.4 L740.1 855.2 L741.5 854.4 L742.9 854.5 L744.3 857.2 L745.7 857.3 L747.1 858.3 L748.6 857.9 L750.0 857.9 L751.5 859.5 L752.9 860.2 L754.4 861.0 L755.8 859.7 L757.3 860.3 L758.8 860.5 L760.2 859.7 L761.7 860.8 L763.2 862.0 L764.7 862.0 L766.1 861.3 L767.6 861.7 L769.1 862.1 L770.6 862.8 L772.0 862.9 L773.5 863.7 L775.0 863.0 L776.5 863.4 L777.9 864.1 L779.4 864.1 L780.9 864.8 L782.4 864.2 L783.8 864.3 L785.3 865.5 L786.8 865.5 L788.2 865.5 L789.6 864.4 L791.1 865.0 L792.5 867.5 L793.9 868.2 L795.3 868.0 L796.8 868.2 L798.3 868.9 L799.8 871.0 L801.3 870.5 L802.8 871.5 L804.3 871.4 L805.8 868.0 L807.3 868.5 L808.7 869.0 L810.2 870.8 L811.7 871.4 L813.2 871.2 L814.6 871.7 L816.1 870.8 L817.6 871.3 L819.1 871.3 L820.5 873.5 L822.0 872.8 L823.5 873.0 L824.9 873.7 L826.4 872.5 L827.9 872.6 L829.4 874.4 L830.8 874.2 L832.3 874.5 L833.8 875.0 L835.3 875.4 L836.7 876.4 L838.2 875.9 L839.7 875.8 L841.1 875.2 L842.5 876.0 L843.9 878.5 L845.3 879.6 L846.7 879.5 L848.2 879.3 L849.7 880.5 L851.2 878.7 L852.7 878.3 L854.2 878.7 L855.7 878.8 L857.2 879.7 L858.7 879.9 L860.2 878.6 L861.7 880.1 L863.2 879.1 L864.7 880.9 L866.2 881.1 L867.7 879.3 L869.2 880.0 L870.7 878.3 L872.2 877.7 L873.6 878.0 L875.1 878.2 L876.6 878.6 L878.1 880.0 L879.5 879.9 L881.0 883.3 L882.4 882.9 L883.9 881.0 L885.4 881.7 L886.8 880.9 L888.3 881.9 L889.8 882.8 L891.3 883.1 L892.7 883.4 L894.2 883.2 L895.7 883.0 L897.2 883.3 L898.7 885.1 L900.2 885.0 L901.7 883.9 L903.2 883.1 L904.7 884.5 L906.2 885.5 L907.7 885.0 L909.2 884.5 L910.7 884.6 L912.2 885.4 L913.7 885.2 L915.2 884.3 L916.7 884.3 L918.2 887.1 L919.6 887.5 L921.1 885.9 L922.6 886.5 L924.1 886.6 L925.6 885.6 L927.1 886.8 L928.6 885.2 L930.1 885.3 L931.6 886.5 L933.1 886.1 L934.6 886.4 L936.1 888.2 L937.6 887.7 L939.1 888.2 L940.6 888.9 L942.1 889.2 L943.5 889.0 L945.0 888.7 L946.6 889.0 L948.0 889.1 L949.5 889.2 L951.0 888.5 L952.5 887.6 L954.0 887.5 L955.5 887.5 L957.0 887.8 L958.5 887.8 L960.0 887.0 L961.5 887.5 L963.0 887.2 L964.5 886.6 L966.0 888.2 L967.5 888.2 L969.0 888.9 L970.5 888.3 L972.0 888.7 L973.5 888.3 L975.0 888.0 L976.5 886.9 L978.0 887.2 L979.5 888.6 L981.0 887.9 L982.5 889.0 L984.0 889.8 L985.5 888.6 L987.0 886.6 L988.5 886.2 L990.0 886.5 L991.5 887.3 L993.0 886.6 L994.5 886.2 L996.0 887.5 L997.5 887.9 L999.0 888.2 L1000.5 884.9 L1002.0 885.4 L1003.5 886.9 L1005.0 887.3 L1006.5 888.0 L1008.0 888.0 L1009.5 887.4 L1011.0 885.5 L1012.5 885.6 L1014.0 886.7 L1015.4 887.1 L1016.9 886.2 L1018.4 886.3 L1019.9 884.8 L1021.4 884.6 L1022.9 884.7 L1024.4 884.9 L1025.9 885.1 L1027.4 883.7 L1028.9 883.6 L1030.4 883.9 L1031.9 884.1 L1033.4 885.5 L1034.9 886.5 L1036.4 885.9 L1037.9 883.6 L1039.4 883.0 L1040.9 885.7 L1042.4 885.8 L1043.9 884.1 L1045.4 883.0 L1046.9 883.7 L1048.4 884.0 L1049.8 883.5 L1051.2 882.5 L1052.5 881.5 L1053.9 878.7 L1055.2 878.0 L1056.7 878.2 L1058.2 879.8 L1059.7 880.1 L1061.1 880.9 L1062.6 881.4 L1064.1 880.7 L1065.6 881.1 L1067.1 880.5 L1068.6 880.9 L1070.1 880.4 L1071.6 881.5 L1073.0 881.8 L1074.4 879.6 L1075.7 879.4 L1076.9 878.8 L1078.2 876.5 L1079.5 876.0 L1080.9 877.3 L1082.3 875.8 L1083.7 875.2 L1085.1 876.3 L1086.5 875.5 L1088.0 874.0 L1089.5 873.9 L1090.9 872.5 L1092.4 875.0 L1093.9 873.8 L1095.4 874.0 L1096.8 874.3 L1098.3 872.5 L1099.8 871.7 L1101.3 872.0 L1102.7 870.1 L1104.2 870.0 L1105.7 869.3 L1107.2 869.2 L1108.6 870.5 L1110.0 869.8 L1111.2 869.0 L1112.5 869.2 L1113.8 868.1 L1115.2 866.8 L1116.7 866.8 L1118.2 867.7 L1119.7 867.5 L1121.1 867.8 L1122.6 866.9 L1124.1 867.3 L1125.6 868.4 L1127.0 868.6 L1128.5 868.9 L1130.0 868.2 L1131.5 868.2 L1132.9 868.5 L1134.4 868.2 L1135.8 866.8 L1137.1 865.9 L1138.6 865.1 L1140.0 864.9 L1141.4 864.4 L1142.8 864.0 L1144.3 864.5 L1145.7 863.7 L1147.2 864.2 L1148.7 863.2 L1150.2 863.5 L1151.7 864.5 L1153.2 865.1 L1154.7 865.7 L1156.2 864.9 L1157.7 865.1 L1159.2 867.3 L1160.7 868.2 L1162.1 869.1 L1163.5 868.1 L1164.8 868.8 L1166.2 867.6 L1167.7 868.6 L1169.2 868.4 L1170.7 869.9 L1172.2 869.0 L1173.7 869.4 L1175.2 868.9 L1176.7 868.6 L1178.2 868.7 L1179.7 869.9 L1181.2 870.6 L1182.7 871.2 L1184.1 869.7 L1185.5 870.2 L1186.9 868.7 L1188.3 869.3 L1189.7 869.7 L1191.1 873.8 L1192.4 874.8 L1193.8 873.8 L1195.3 874.0 L1196.7 875.9 L1198.2 876.8 L1199.7 876.9 L1201.1 874.6 L1202.6 875.0 L1204.1 875.3 L1205.6 875.4 L1207.0 879.1 L1208.5 878.7 L1210.0 878.6 L1211.5 876.7 L1212.9 877.9 L1214.4 878.3 L1215.9 879.3 L1217.3 880.6 L1218.8 881.3 L1220.3 881.2 L1221.8 880.0 L1223.2 880.6 L1224.7 880.5 L1226.2 881.2 L1227.7 881.2 L1229.2 882.2 L1230.6 882.3 L1232.1 882.8 L1233.6 882.6 L1235.1 881.6 L1236.6 881.8 L1238.1 883.4 L1239.5 883.9 L1241.0 883.5 L1242.5 883.6 L1244.0 884.6 L1245.5 885.8 L1247.0 885.9 L1248.5 884.4 L1250.0 884.5 L1251.4 882.8 L1252.9 883.9 L1254.4 886.1 L1255.9 886.3 L1257.4 886.1 L1258.9 886.2 L1260.3 885.5 L1261.8 886.7 L1263.2 887.2 L1264.7 887.4 L1266.1 888.2 L1267.6 888.6 L1269.0 889.6 L1270.5 890.5 L1271.9 888.4 L1273.4 888.9 L1274.9 890.5 L1276.3 890.2 L1277.8 890.9 L1279.3 888.4 L1280.8 888.8 L1282.2 890.6 L1283.7 891.0 L1285.2 893.2 L1286.7 893.7 L1288.1 894.2 L1289.6 892.7 L1291.1 892.6 L1292.5 893.1 L1294.0 893.5 L1295.5 892.6 L1297.0 892.7 L1298.4 894.2 L1299.9 896.0 L1301.4 895.8 L1302.9 895.8 L1304.3 895.6 L1305.8 894.4 L1307.3 895.3 L1308.8 896.5 L1310.3 897.7 L1311.8 897.3 L1313.2 897.5 L1314.7 898.4 L1316.2 899.0 L1317.7 898.4 L1319.2 897.9 L1320.7 897.2 L1322.2 897.6 L1323.7 900.4 L1325.1 901.0 L1326.6 899.2 L1328.1 899.9 L1329.6 899.4 L1331.1 899.1 L1332.6 899.4 L1334.1 900.3 L1335.5 899.9 L1337.0 900.7 L1338.5 901.1 L1340.0 901.8 L1341.4 902.9 L1342.9 902.3 L1344.4 902.7 L1345.8 902.9 L1347.3 903.7 L1348.8 903.9 L1350.3 903.6 L1351.7 903.8 L1353.2 904.7 L1354.7 905.6 L1356.2 905.9 L1357.7 904.7 L1359.2 905.4 L1360.7 903.9 L1362.2 904.4 L1363.7 902.6 L1365.2 902.5 L1366.7 905.3 L1368.2 905.5 L1369.7 905.5 L1371.2 906.2 L1372.7 906.2 L1374.1 906.2 L1375.6 906.3 L1377.1 907.2" fill="none" stroke="#cc00ff" stroke-width="4.4" stroke-linejoin="round"/>
<path d="M40.5 336.2 L40.9 337.8 L41.2 338.8 L41.5 340.1 L41.8 340.8 L42.0 341.2 L42.2 341.4 L42.4 341.2 L42.6 343.7 L42.8 346.1 L43.0 347.4 L43.1 343.4 L43.3 346.3 L43.4 347.7 L43.5 347.5 L43.7 350.2 L43.8 350.9 L43.9 346.8 L44.0 348.5 L44.2 346.7 L44.3 348.6 L44.4 349.6 L44.5 353.8 L44.6 349.8 L44.7 353.5 L44.8 356.4 L44.9 355.6 L45.0 358.3 L45.1 356.0 L45.2 359.3 L45.3 361.3 L45.4 365.4 L45.5 362.8 L45.6 365.4 L45.7 362.9 L45.8 364.0 L45.9 368.7 L46.0 367.1 L46.1 370.2 L46.2 369.3 L46.3 374.0 L46.4 375.8 L46.4 367.7 L46.5 376.3 L46.6 373.1 L46.7 374.1 L46.8 373.3 L46.9 376.7 L47.0 372.0 L47.1 374.1 L47.2 374.8 L47.3 379.1 L47.3 384.7 L47.4 385.0 L47.5 384.7 L47.6 382.4 L47.7 379.3 L47.8 387.6 L47.9 387.6 L48.0 389.2 L48.1 394.0 L48.1 389.1 L48.2 389.9 L48.3 383.0 L48.4 394.6 L48.5 393.2 L48.6 391.4 L48.7 396.6 L48.8 392.1 L48.9 394.9 L49.0 405.3 L49.1 401.6 L49.2 403.1 L49.2 403.4 L49.3 403.9 L49.4 403.0 L49.5 411.9 L49.6 403.8 L49.7 407.8 L49.8 405.1 L49.9 405.4 L50.0 398.5 L50.1 401.3 L50.3 415.3 L50.4 416.0 L50.5 409.6 L50.6 412.0 L50.7 414.5 L50.8 409.2 L50.9 420.6 L51.1 410.9 L51.2 413.0 L51.3 407.4 L51.4 423.2 L51.6 418.6 L51.7 425.4 L51.8 416.3 L51.9 422.3 L52.1 422.2 L52.2 423.6 L52.3 431.6 L52.5 433.2 L52.6 430.7 L52.7 424.9 L52.9 430.7 L53.0 433.3 L53.1 431.2 L53.3 432.1 L53.4 432.7 L53.5 428.3 L53.7 433.5 L53.8 439.6 L54.0 430.6 L54.1 435.7 L54.2 439.4 L54.4 432.0 L54.5 437.5 L54.7 432.5 L54.8 437.5 L55.0 435.4 L55.1 438.2 L55.2 440.6 L55.4 442.3 L55.5 443.5 L55.7 436.0 L55.8 452.1 L56.0 445.9 L56.1 443.6 L56.3 446.3 L56.4 450.7 L56.6 446.6 L56.7 449.8 L56.9 450.4 L57.0 455.2 L57.2 451.2 L57.3 456.6 L57.5 457.1 L57.6 456.3 L57.8 462.5 L57.9 458.7 L58.1 455.1 L58.2 461.6 L58.4 461.8 L58.5 462.1 L58.7 464.0 L58.8 472.9 L58.9 465.8 L59.1 467.5 L59.2 465.7 L59.4 472.5 L59.5 468.2 L59.7 466.3 L59.8 465.6 L60.0 473.1 L60.1 474.8 L60.3 466.8 L60.4 471.0 L60.6 477.1 L60.7 479.4 L60.8 471.4 L61.0 474.1 L61.1 479.8 L61.3 475.4 L61.4 476.7 L61.5 477.2 L61.7 475.2 L61.8 481.2 L61.9 483.1 L62.1 477.5 L62.2 484.1 L62.3 488.8 L62.5 486.3 L62.6 490.0 L62.7 485.2 L62.9 493.4 L63.0 486.1 L63.1 497.1 L63.3 489.1 L63.4 489.0 L63.5 489.2 L63.7 491.9 L63.8 492.5 L63.9 492.7 L64.0 494.9 L64.2 499.6 L64.3 501.3 L64.4 499.2 L64.6 506.1 L64.7 498.5 L64.8 499.2 L64.9 499.7 L65.1 507.2 L65.2 499.9 L65.3 501.4 L65.5 512.5 L65.6 515.0 L65.7 514.5 L65.9 504.6 L66.0 511.2 L66.1 515.2 L66.2 513.3 L66.4 507.7 L66.5 513.4 L66.7 509.2 L66.8 511.8 L66.9 525.6 L67.1 520.9 L67.2 513.6 L67.3 514.3 L67.5 522.7 L67.6 519.5 L67.8 524.3 L67.9 520.6 L68.1 523.2 L68.2 525.7 L68.4 521.8 L68.5 519.3 L68.7 522.9 L68.8 525.7 L69.0 528.5 L69.2 529.9 L69.3 530.8 L69.5 533.8 L69.7 529.4 L69.8 539.0 L70.0 542.1 L70.2 536.8 L70.4 537.0 L70.6 541.9 L70.8 540.5 L71.0 539.6 L71.2 542.2 L71.4 540.9 L71.7 540.1 L71.9 548.0 L72.1 550.8 L72.4 543.2 L72.6 547.8 L72.8 549.7 L73.1 548.2 L73.3 547.8 L73.6 550.0 L73.8 544.9 L74.1 553.0 L74.4 553.0 L74.6 561.0 L74.9 557.3 L75.2 553.3 L75.5 555.5 L75.8 562.9 L76.1 563.3 L76.3 558.7 L76.6 558.4 L76.9 554.3 L77.2 559.3 L77.5 560.8 L77.9 559.5 L78.2 569.2 L78.5 556.3 L78.8 563.8 L79.1 566.7 L79.4 567.6 L79.8 573.2 L80.1 562.4 L80.4 565.7 L80.7 569.7 L81.0 570.7 L81.4 569.6 L81.7 569.0 L82.0 576.9 L82.3 569.6 L82.6 572.3 L82.9 580.8 L83.2 582.8 L83.5 580.3 L83.8 574.6 L84.1 575.5 L84.4 576.1 L84.7 575.8 L85.0 579.3 L85.3 586.6 L85.6 583.5 L85.9 580.6 L86.2 581.4 L86.5 580.7 L86.8 590.6 L87.1 579.2 L87.4 588.7 L87.7 583.1 L88.0 585.4 L88.3 584.2 L88.6 594.4 L88.9 591.3 L89.3 601.6 L89.6 589.3 L89.9 589.9 L90.2 597.2 L90.5 597.9 L90.8 595.6 L91.2 589.8 L91.5 603.8 L91.8 601.9 L92.1 602.1 L92.5 599.1 L92.8 604.7 L93.2 600.9 L93.5 604.0 L93.9 604.0 L94.3 610.3 L94.7 604.5 L95.1 606.6 L95.5 612.9 L95.9 610.4 L96.3 610.2 L96.8 610.1 L97.3 615.4 L97.8 610.1 L98.3 615.1 L98.8 621.1 L99.3 615.7 L99.7 611.9 L100.2 611.1 L100.6 617.0 L101.1 612.6 L101.5 612.0 L101.9 617.0 L102.3 616.5 L102.7 624.8 L103.1 616.8 L103.5 629.1 L103.9 621.1 L104.3 625.2 L104.7 628.1 L105.1 626.1 L105.5 628.8 L105.9 623.2 L106.3 619.1 L106.7 627.8 L107.1 622.9 L107.5 627.9 L107.9 634.5 L108.3 631.0 L108.6 630.5 L109.0 629.3 L109.4 633.3 L109.8 634.5 L110.2 630.0 L110.6 637.9 L111.0 633.5 L111.4 639.2 L111.8 637.5 L112.2 645.2 L112.6 645.5 L113.0 643.1 L113.3 643.4 L113.7 646.3 L114.1 650.7 L114.5 650.4 L114.9 647.8 L115.2 649.2 L115.6 653.9 L116.0 642.5 L116.4 651.6 L116.8 647.0 L117.2 656.4 L117.6 650.1 L118.0 652.4 L118.4 649.5 L118.8 653.6 L119.2 657.3 L119.7 661.5 L120.1 651.1 L120.6 655.0 L121.1 666.7 L121.6 661.8 L122.1 658.9 L122.6 662.0 L123.2 651.7 L123.7 667.6 L124.3 662.8 L124.9 657.4 L125.4 668.0 L126.0 662.5 L126.6 661.6 L127.2 668.2 L127.8 668.4 L128.4 665.8 L129.1 669.2 L129.7 665.1 L130.3 665.3 L130.8 674.9 L131.4 677.2 L132.0 674.5 L132.6 673.0 L133.1 670.8 L133.7 672.5 L134.3 670.2 L134.8 681.1 L135.4 673.0 L135.9 677.4 L136.5 676.6 L137.0 672.0 L137.6 685.4 L138.2 677.3 L138.7 676.5 L139.3 681.7 L139.9 678.5 L140.5 682.7 L141.1 679.6 L141.7 686.1 L142.3 684.8 L143.0 678.3 L143.7 688.0 L144.3 685.4 L145.0 681.1 L145.7 687.2 L146.4 688.6 L147.1 694.6 L147.8 684.8 L148.5 691.9 L149.2 688.8 L150.0 693.1 L150.7 690.3 L151.4 691.6 L152.1 694.3 L152.9 688.1 L153.6 685.2 L154.3 693.7 L155.0 692.6 L155.8 695.1 L156.5 697.4 L157.2 694.6 L157.9 700.5 L158.7 696.3 L159.4 697.5 L160.2 701.2 L160.9 700.8 L161.7 698.7 L162.4 700.0 L163.2 694.3 L164.0 695.3 L164.8 698.5 L165.6 701.6 L166.3 700.5 L167.1 705.8 L167.9 710.4 L168.7 711.6 L169.5 703.9 L170.3 706.5 L171.1 705.2 L172.0 706.2 L172.8 706.8 L173.6 705.3 L174.5 706.8 L175.3 704.7 L176.2 703.2 L177.0 707.2 L177.9 708.4 L178.8 711.4 L179.6 708.4 L180.5 710.4 L181.4 713.2 L182.2 704.5 L183.1 707.3 L184.0 709.6 L184.8 708.0 L185.6 704.4 L186.4 712.4 L187.2 708.3 L188.0 705.2 L188.7 716.7 L189.5 705.1 L190.2 711.4 L191.0 709.4 L191.8 712.8 L192.6 715.0 L193.4 710.1 L194.3 713.0 L195.1 713.0 L196.0 709.7 L196.9 719.3 L197.8 715.4 L198.7 713.6 L199.6 712.1 L200.5 712.6 L201.4 714.3 L202.3 711.9 L203.2 718.3 L204.1 703.6 L205.0 704.6 L205.9 711.7 L206.8 705.5 L207.7 713.0 L208.6 710.6 L209.4 715.1 L210.3 714.3 L211.2 716.4 L212.1 714.7 L213.0 715.8 L213.9 712.9 L214.7 714.1 L215.6 711.7 L216.5 707.3 L217.4 706.0 L218.2 705.9 L219.1 712.1 L220.0 700.9 L220.8 710.4 L221.7 706.5 L222.5 711.9 L223.4 709.6 L224.2 705.0 L225.1 707.6 L226.0 698.7 L226.8 708.1 L227.7 708.1 L228.6 699.2 L229.5 709.3 L230.4 705.4 L231.3 707.3 L232.1 701.1 L233.0 708.6 L233.9 708.4 L234.8 703.5 L235.7 699.7 L236.6 706.1 L237.4 707.7 L238.3 707.1 L239.1 709.1 L240.0 702.7 L240.8 705.1 L241.5 705.3 L242.3 704.0 L243.1 711.8 L243.8 704.0 L244.6 697.9 L245.3 702.7 L246.0 694.9 L246.8 699.9 L247.5 700.9 L248.3 697.2 L249.0 697.3 L249.8 694.5 L250.5 698.1 L251.3 694.5 L252.0 702.3 L252.8 697.7 L253.5 693.9 L254.3 688.8 L255.0 703.0 L255.8 699.7 L256.5 696.0 L257.2 694.4 L257.9 693.8 L258.6 688.3 L259.3 696.6 L260.0 689.7 L260.6 682.8 L261.3 685.1 L261.9 678.5 L262.5 689.8 L263.1 689.5 L263.7 692.7 L264.3 693.3 L264.9 681.6 L265.4 687.1 L266.0 688.5 L266.6 687.0 L267.2 681.4 L267.8 685.7 L268.4 684.2 L269.0 686.8 L269.6 680.9 L270.2 679.4 L270.8 677.7 L271.4 677.5 L272.0 672.4 L272.7 673.4 L273.3 676.0 L273.9 675.1 L274.5 677.8 L275.2 677.7 L275.8 675.3 L276.4 667.9 L277.0 673.8 L277.6 675.4 L278.2 665.3 L278.8 666.1 L279.4 666.0 L280.0 665.0 L280.5 667.1 L281.1 663.9 L281.6 668.2 L282.2 660.6 L282.7 664.0 L283.3 661.8 L283.8 659.3 L284.3 666.2 L284.8 661.6 L285.4 664.8 L285.9 660.8 L286.4 663.9 L286.9 662.8 L287.3 659.2 L287.8 652.2 L288.3 661.3 L288.7 657.6 L289.2 654.9 L289.7 654.3 L290.1 653.1 L290.5 652.5 L291.0 647.2 L291.4 650.0 L291.8 650.6 L292.1 647.6 L292.5 645.4 L292.8 655.4 L293.1 649.8 L293.4 645.5 L293.8 643.9 L294.1 635.6 L294.4 638.7 L294.7 642.3 L295.0 647.3 L295.4 633.8 L295.7 636.8 L296.1 645.9 L296.5 640.4 L296.9 638.6 L297.3 640.8 L297.8 635.0 L298.3 634.1 L298.9 636.8 L299.5 638.8 L300.1 630.9 L300.7 640.1 L301.4 627.0 L302.0 630.4 L302.7 640.0 L303.3 628.6 L304.0 632.4 L304.6 625.5 L305.2 627.4 L305.8 624.8 L306.3 625.3 L306.8 628.6 L307.3 632.0 L307.7 627.9 L308.1 629.7 L308.4 621.0 L308.7 627.6 L309.0 623.3 L309.2 624.3 L309.4 616.6 L309.6 616.5 L309.9 621.7 L310.1 617.9 L310.3 615.1 L310.5 611.2 L310.7 612.6 L310.9 613.9 L311.1 613.9 L311.4 608.2 L311.7 608.2 L312.0 610.2 L312.3 603.5 L312.7 613.6 L313.1 609.1 L313.6 607.9 L314.0 598.4 L314.5 600.7 L314.9 602.0 L315.4 603.0 L315.9 599.4 L316.4 604.3 L317.0 602.6 L317.5 600.4 L318.1 593.0 L318.7 605.3 L319.2 598.3 L319.8 600.9 L320.4 595.4 L321.0 597.3 L321.6 599.3 L322.2 596.8 L322.8 599.2 L323.4 594.2 L324.0 601.8 L324.6 586.3 L325.2 590.8 L325.8 595.9 L326.4 589.8 L327.0 588.4 L327.6 582.7 L328.2 593.3 L328.8 580.9 L329.4 589.4 L330.1 586.7 L330.8 588.7 L331.4 590.3 L332.1 581.5 L332.9 580.6 L333.6 581.8 L334.3 575.9 L335.1 585.1 L335.8 579.9 L336.6 581.5 L337.3 576.1 L338.1 580.0 L338.8 577.1 L339.6 578.7 L340.4 576.4 L341.3 584.1 L342.1 577.5 L343.0 570.8 L343.9 579.6 L344.8 576.1 L345.7 574.0 L346.6 587.7 L347.4 578.5 L348.2 574.0 L349.0 577.2 L349.8 581.4 L350.6 579.8 L351.3 585.9 L352.1 585.7 L352.8 579.2 L353.5 583.4 L354.3 586.2 L355.0 582.7 L355.7 583.0 L356.4 588.7 L357.1 587.9 L357.8 581.5 L358.4 585.4 L359.1 586.5 L359.7 588.3 L360.3 585.0 L360.9 593.5 L361.5 585.4 L362.1 585.6 L362.7 591.2 L363.3 582.6 L363.9 587.5 L364.5 594.4 L365.1 587.7 L365.7 590.2 L366.2 598.3 L366.8 596.6 L367.3 597.4 L367.8 598.8 L368.3 596.1 L368.8 600.6 L369.3 599.4 L369.8 610.1 L370.3 604.8 L370.8 602.2 L371.3 604.0 L371.8 605.2 L372.3 600.5 L372.9 603.4 L373.4 613.0 L373.9 602.2 L374.4 606.1 L375.0 612.9 L375.6 615.4 L376.1 606.5 L376.8 616.6 L377.4 609.8 L378.0 618.1 L378.7 614.4 L379.3 612.0 L380.0 616.5 L380.7 615.9 L381.4 611.5 L382.0 623.2 L382.7 614.3 L383.4 620.6 L384.0 615.6 L384.6 611.1 L385.2 614.5 L385.8 619.1 L386.4 622.7 L386.9 627.6 L387.4 621.5 L387.8 620.9 L388.2 618.1 L388.7 623.3 L389.1 625.4 L389.6 616.7 L390.1 630.8 L390.6 630.9 L391.1 636.9 L391.7 625.5 L392.2 629.8 L392.8 630.4 L393.3 626.0 L393.9 628.5 L394.5 627.3 L395.1 633.7 L395.7 634.0 L396.2 638.2 L396.8 632.2 L397.4 629.1 L398.0 637.7 L398.5 638.1 L399.1 639.9 L399.7 642.8 L400.3 636.5 L400.8 642.5 L401.4 636.1 L401.9 641.3 L402.4 644.0 L402.9 641.7 L403.4 643.7 L403.9 638.4 L404.4 642.5 L404.9 646.3 L405.4 641.9 L405.9 644.0 L406.4 657.2 L406.9 649.7 L407.4 646.3 L407.9 646.0 L408.5 655.9 L409.0 642.4 L409.5 650.7 L410.1 655.0 L410.7 651.1 L411.3 657.9 L412.0 652.5 L412.6 657.1 L413.3 657.8 L414.0 658.3 L414.7 658.5 L415.4 658.6 L416.2 663.2 L416.9 658.5 L417.6 657.8 L418.3 659.5 L419.1 659.9 L419.8 655.8 L420.5 654.9 L421.2 657.6 L421.9 661.2 L422.5 658.2 L423.2 659.8 L423.8 671.6 L424.5 666.9 L425.1 664.0 L425.7 663.1 L426.3 671.4 L426.9 663.8 L427.5 672.1 L428.2 670.1 L428.8 673.8 L429.4 666.4 L430.0 673.2 L430.7 663.5 L431.3 670.4 L432.0 676.7 L432.7 675.9 L433.4 666.8 L434.1 677.0 L434.8 676.6 L435.5 672.7 L436.3 670.7 L437.0 672.9 L437.7 672.3 L438.5 681.7 L439.2 680.4 L440.0 683.2 L440.7 682.2 L441.5 675.2 L442.2 681.0 L443.0 689.1 L443.8 677.2 L444.6 682.9 L445.4 677.2 L446.2 677.2 L447.0 681.8 L447.7 684.9 L448.6 685.0 L449.4 684.3 L450.2 686.5 L451.0 677.1 L451.8 686.7 L452.7 685.7 L453.5 683.8 L454.3 684.7 L455.2 681.8 L456.0 690.6 L456.9 683.6 L457.7 681.1 L458.6 686.9 L459.5 685.6 L460.3 687.7 L461.2 694.0 L462.1 688.0 L462.9 690.4 L463.8 698.8 L464.7 685.1 L465.6 690.0 L466.5 693.2 L467.3 694.8 L468.2 697.7 L469.1 687.8 L470.0 692.8 L470.9 690.3 L471.7 689.1 L472.6 687.6 L473.5 685.0 L474.4 691.9 L475.3 693.7 L476.2 688.3 L477.1 695.4 L478.0 690.5 L478.9 688.8 L479.8 683.3 L480.7 696.2 L481.6 694.8 L482.5 691.0 L483.4 691.3 L484.3 687.9 L485.2 694.8 L486.1 690.4 L487.0 692.7 L487.9 691.3 L488.8 685.3 L489.7 685.5 L490.6 693.1 L491.5 685.0 L492.4 692.5 L493.3 694.4 L494.2 686.0 L495.1 693.5 L496.0 691.1 L496.9 695.1 L497.8 690.7 L498.7 693.2 L499.6 694.3 L500.5 699.8 L501.3 695.7 L502.2 695.0 L503.1 687.4 L504.0 693.8 L504.9 690.0 L505.8 692.4 L506.7 693.6 L507.6 696.3 L508.5 694.8 L509.4 693.3 L510.3 693.2 L511.2 698.6 L512.1 690.1 L513.0 693.6 L513.9 697.6 L514.8 691.7 L515.7 695.6 L516.6 695.6 L517.5 699.8 L518.4 696.5 L519.3 686.0 L520.2 693.6 L521.1 694.8 L522.0 696.9 L522.9 695.3 L523.8 702.9 L524.7 700.1 L525.6 691.5 L526.5 693.7 L527.4 685.9 L528.3 700.5 L529.2 693.5 L530.0 693.6 L530.9 687.9 L531.8 692.4 L532.7 695.9 L533.6 692.3 L534.5 692.5 L535.3 691.8 L536.2 701.9 L537.1 692.3 L538.0 689.0 L538.9 692.7 L539.8 693.5 L540.6 696.3 L541.5 695.8 L542.4 692.6 L543.3 696.3 L544.2 698.9 L545.1 692.2 L546.0 705.4 L546.8 704.5 L547.7 690.4 L548.6 696.2 L549.5 701.8 L550.3 703.4 L551.1 705.7 L551.9 692.2 L552.7 695.4 L553.5 698.2 L554.2 702.6 L555.0 696.8 L555.7 703.2 L556.5 703.8 L557.2 705.3 L557.9 698.2 L558.7 704.4 L559.4 704.5 L560.1 703.1 L560.9 708.8 L561.6 703.2 L562.3 710.4 L563.0 703.1 L563.7 712.6 L564.4 713.9 L565.1 705.0 L565.8 710.0 L566.5 710.5 L567.2 706.2 L567.9 714.0 L568.6 713.9 L569.3 708.8 L570.0 713.1 L570.7 716.8 L571.4 712.5 L572.1 710.9 L572.9 720.5 L573.6 711.0 L574.3 716.9 L575.0 720.4 L575.8 719.7 L576.5 710.2 L577.2 716.5 L577.9 717.6 L578.6 717.8 L579.3 721.7 L580.0 722.0 L580.6 721.0 L581.3 722.6 L581.9 726.1 L582.5 727.7 L583.1 716.3 L583.7 732.7 L584.3 722.9 L584.8 729.8 L585.4 721.2 L585.9 726.2 L586.5 724.1 L587.0 733.8 L587.6 733.8 L588.1 730.0 L588.7 730.0 L589.2 732.9 L589.8 728.5 L590.4 730.4 L591.0 730.5 L591.6 737.5 L592.2 735.1 L592.8 730.8 L593.4 737.6 L594.1 739.0 L594.7 743.8 L595.4 736.9 L596.0 741.2 L596.7 748.3 L597.4 739.7 L598.0 740.1 L598.7 744.0 L599.3 740.7 L599.9 743.3 L600.6 742.0 L601.2 741.6 L601.8 749.6 L602.4 745.4 L603.0 743.7 L603.5 747.2 L604.1 748.4 L604.6 750.8 L605.1 750.6 L605.6 754.5 L606.2 743.8 L606.7 748.3 L607.2 743.0 L607.7 751.5 L608.2 753.4 L608.7 752.3 L609.2 752.1 L609.7 752.5 L610.2 751.3 L610.7 760.2 L611.2 765.8 L611.8 753.6 L612.3 765.0 L612.8 759.0 L613.4 754.8 L614.0 763.0 L614.5 764.4 L615.1 763.7 L615.7 762.5 L616.2 770.5 L616.8 763.8 L617.4 768.0 L618.0 768.7 L618.5 764.1 L619.1 761.1 L619.7 762.3 L620.3 768.0 L620.9 771.6 L621.5 764.1 L622.0 769.1 L622.6 778.4 L623.2 766.3 L623.8 775.7 L624.3 775.9 L624.9 778.3 L625.5 770.3 L626.0 777.9 L626.6 772.0 L627.1 783.2 L627.7 775.5 L628.2 780.9 L628.8 776.3 L629.4 780.6 L629.9 774.9 L630.5 782.5 L631.1 784.5 L631.7 782.8 L632.3 791.0 L632.9 786.9 L633.5 789.1 L634.2 788.7 L634.8 794.5 L635.5 783.7 L636.2 785.8 L636.9 786.6 L637.6 790.4 L638.3 789.6 L639.0 792.4 L639.7 790.9 L640.4 788.4 L641.1 790.6 L641.9 793.1 L642.6 784.1 L643.3 798.7 L644.0 791.8 L644.7 793.1 L645.4 796.1 L646.1 793.5 L646.8 789.4 L647.5 794.7 L648.2 801.5 L648.9 800.8 L649.6 804.5 L650.3 798.2 L651.0 800.1 L651.7 805.5 L652.5 807.7 L653.2 801.7 L653.9 798.4 L654.6 795.3 L655.3 808.8 L656.0 799.1 L656.7 807.1 L657.4 809.5 L658.1 815.8 L658.8 807.9 L659.6 805.3 L660.3 808.0 L661.0 808.8 L661.7 812.6 L662.4 810.6 L663.1 805.3 L663.8 800.6 L664.5 810.5 L665.1 807.4 L665.8 816.1 L666.4 806.7 L667.1 813.2 L667.6 810.3 L668.2 810.4 L668.8 821.0 L669.4 815.8 L670.0 815.7 L670.5 820.0 L671.1 814.7 L671.8 817.0 L672.4 816.6 L673.0 826.2 L673.7 820.4 L674.3 822.2 L675.0 824.7 L675.7 820.2 L676.3 821.8 L677.0 816.6 L677.7 825.5 L678.4 825.2 L679.1 823.1 L679.8 829.6 L680.5 818.5 L681.2 827.7 L681.9 821.2 L682.6 822.7 L683.4 828.3 L684.1 834.9 L684.8 825.6 L685.5 826.9 L686.3 826.5 L687.0 837.6 L687.8 832.3 L688.5 832.3 L689.3 839.3 L690.0 834.2 L690.8 825.5 L691.6 832.2 L692.4 829.9 L693.2 842.9 L694.0 828.4 L694.8 835.5 L695.6 832.7 L696.4 833.4 L697.2 835.4 L698.0 835.1 L698.8 833.4 L699.6 831.6 L700.4 834.5 L701.3 833.3 L702.1 834.2 L702.9 838.6 L703.7 837.4 L704.6 840.2 L705.4 837.8 L706.3 846.5 L707.1 837.7 L707.9 836.9 L708.8 845.2 L709.6 838.8 L710.5 843.1 L711.3 846.8 L712.1 843.0 L712.9 842.3 L713.7 847.1 L714.6 845.0 L715.4 842.0 L716.2 839.9 L717.0 843.5 L717.7 839.3 L718.5 842.8 L719.3 842.3 L720.1 848.2 L721.0 851.3 L721.8 846.2 L722.6 847.4 L723.4 845.2 L724.2 843.2 L725.1 847.2 L725.9 851.5 L726.7 851.4 L727.6 852.2 L728.4 849.1 L729.3 841.5 L730.1 854.4 L731.0 855.9 L731.8 854.6 L732.6 854.9 L733.5 856.0 L734.3 859.9 L735.1 852.4 L736.0 857.6 L736.8 855.1 L737.6 857.0 L738.5 854.2 L739.3 853.8 L740.1 851.1 L741.0 855.8 L741.8 852.6 L742.6 849.5 L743.5 851.5 L744.3 852.3 L745.2 863.5 L746.0 856.6 L746.9 858.3 L747.7 852.8 L748.6 853.8 L749.5 862.2 L750.3 857.4 L751.2 860.5 L752.1 867.0 L752.9 868.3 L753.8 863.0 L754.7 861.4 L755.5 860.6 L756.4 858.8 L757.3 868.0 L758.2 854.8 L759.1 859.4 L760.0 852.4 L760.8 855.1 L761.7 862.9 L762.6 863.3 L763.5 863.0 L764.4 860.5 L765.3 858.4 L766.2 859.2 L767.0 860.0 L767.9 866.0 L768.8 867.9 L769.7 864.1 L770.6 860.4 L771.5 859.1 L772.3 864.3 L773.2 862.4 L774.1 856.3 L775.0 868.8 L775.9 863.6 L776.8 862.6 L777.6 860.6 L778.5 860.7 L779.4 867.8 L780.3 860.7 L781.2 865.0 L782.1 866.7 L783.0 871.6 L783.8 866.9 L784.7 864.6 L785.6 863.8 L786.5 869.0 L787.3 869.8 L788.2 864.5 L789.1 867.0 L789.9 864.4 L790.8 858.9 L791.6 861.6 L792.5 870.8 L793.3 873.6 L794.2 870.9 L795.0 867.7 L795.9 865.0 L796.8 870.0 L797.7 869.4 L798.6 861.9 L799.5 872.9 L800.4 867.7 L801.3 873.2 L802.2 872.9 L803.1 873.7 L804.0 875.1 L804.9 873.8 L805.8 864.1 L806.7 864.3 L807.5 872.5 L808.4 870.4 L809.3 864.4 L810.2 862.9 L811.1 874.4 L812.0 879.7 L812.9 874.2 L813.8 870.3 L814.6 872.4 L815.5 862.5 L816.4 867.0 L817.3 875.1 L818.2 874.7 L819.0 863.2 L819.9 877.7 L820.8 875.3 L821.7 877.1 L822.6 871.9 L823.5 872.9 L824.3 868.8 L825.2 874.5 L826.1 875.7 L827.0 868.7 L827.9 874.0 L828.8 870.7 L829.6 878.4 L830.5 878.3 L831.4 865.6 L832.3 876.5 L833.2 879.0 L834.1 873.0 L835.0 874.5 L835.8 875.0 L836.7 871.5 L837.6 875.7 L838.5 882.4 L839.4 878.4 L840.2 881.5 L841.1 879.7 L842.0 880.8 L842.8 876.9 L843.6 881.4 L844.5 886.6 L845.3 884.8 L846.2 880.7 L847.0 877.1 L847.9 876.4 L848.8 881.2 L849.6 882.1 L850.5 871.5 L851.4 879.5 L852.3 880.0 L853.2 880.3 L854.1 877.0 L855.1 888.1 L856.0 882.5 L856.9 874.3 L857.8 876.8 L858.7 882.8 L859.6 881.6 L860.5 879.7 L861.4 879.1 L862.3 878.3 L863.2 877.3 L864.1 877.0 L864.9 883.2 L865.8 871.8 L866.7 876.4 L867.6 884.0 L868.5 876.0 L869.4 874.3 L870.3 885.1 L871.2 881.7 L872.1 877.1 L873.0 875.5 L873.9 877.1 L874.8 876.8 L875.7 877.4 L876.6 875.7 L877.4 881.5 L878.3 877.5 L879.2 872.8 L880.0 875.1 L880.9 882.4 L881.8 878.6 L882.7 874.0 L883.6 888.8 L884.4 882.8 L885.3 879.2 L886.2 879.2 L887.1 883.4 L888.0 887.2 L888.8 879.7 L889.7 883.9 L890.6 880.3 L891.5 884.2 L892.4 878.6 L893.3 876.1 L894.2 883.1 L895.1 882.6 L896.0 885.8 L896.9 880.5 L897.8 890.6 L898.7 885.7 L899.6 891.4 L900.5 884.2 L901.4 888.9 L902.2 882.9 L903.1 883.8 L904.0 887.1 L904.9 877.7 L905.8 880.5 L906.7 891.8 L907.6 878.4 L908.5 882.4 L909.4 886.5 L910.3 890.2 L911.2 883.1 L912.1 885.6 L913.0 880.8 L913.9 883.8 L914.8 887.7 L915.7 885.1 L916.6 883.8 L917.5 885.7 L918.4 887.3 L919.3 887.6 L920.2 885.6 L921.1 883.3 L922.0 888.1 L922.9 881.1 L923.8 889.6 L924.7 894.2 L925.6 891.9 L926.5 895.1 L927.3 882.2 L928.2 886.4 L929.1 882.3 L930.0 882.8 L930.9 879.1 L931.8 881.3 L932.7 889.4 L933.6 888.9 L934.5 891.0 L935.4 891.9 L936.3 890.7 L937.2 884.7 L938.1 887.5 L939.0 891.3 L939.9 893.4 L940.8 887.2 L941.7 886.6 L942.6 887.0 L943.5 894.9 L944.4 891.0 L945.3 888.0 L946.2 886.3 L947.1 890.9 L948.0 882.6 L948.9 887.6 L949.7 886.2 L950.6 885.9 L951.5 888.8 L952.4 888.9 L953.3 896.1 L954.2 887.4 L955.1 889.6 L956.0 884.5 L956.9 881.2 L957.8 892.0 L958.7 894.9 L959.6 883.6 L960.5 887.2 L961.4 891.8 L962.3 887.3 L963.2 877.9 L964.1 890.9 L965.0 886.5 L965.9 890.7 L966.8 884.2 L967.7 891.4 L968.6 892.0 L969.5 885.8 L970.4 890.5 L971.3 886.2 L972.2 885.8 L973.1 884.3 L974.0 886.1 L974.9 885.2 L975.8 891.7 L976.7 886.3 L977.6 882.8 L978.5 892.4 L979.4 890.1 L980.3 891.8 L981.2 887.7 L982.1 890.6 L983.0 888.5 L983.9 885.2 L984.8 889.2 L985.7 889.3 L986.6 887.3 L987.5 890.0 L988.4 880.1 L989.3 888.0 L990.2 883.8 L991.1 885.7 L992.0 888.5 L992.9 887.0 L993.8 884.2 L994.7 889.7 L995.6 886.6 L996.5 891.6 L997.4 892.8 L998.3 886.7 L999.2 883.9 L1000.1 885.6 L1001.0 888.5 L1001.9 886.6 L1002.8 882.8 L1003.7 880.8 L1004.6 883.7 L1005.5 883.7 L1006.4 890.4 L1007.3 888.2 L1008.2 891.2 L1009.1 887.5 L1010.0 892.3 L1010.9 885.9 L1011.8 887.8 L1012.7 884.0 L1013.5 889.2 L1014.4 891.6 L1015.3 890.3 L1016.2 892.1 L1017.1 883.9 L1018.0 887.9 L1018.9 892.6 L1019.8 886.0 L1020.7 884.4 L1021.6 884.1 L1022.5 882.9 L1023.4 886.1 L1024.3 890.8 L1025.2 887.2 L1026.1 885.3 L1027.0 880.8 L1027.9 879.5 L1028.8 892.5 L1029.7 881.9 L1030.6 884.9 L1031.5 882.7 L1032.4 885.1 L1033.3 884.9 L1034.2 886.9 L1035.1 891.9 L1036.0 883.6 L1036.9 885.9 L1037.8 883.5 L1038.7 886.4 L1039.6 881.0 L1040.5 887.6 L1041.4 882.2 L1042.3 878.9 L1043.2 880.7 L1044.1 880.3 L1045.0 879.5 L1045.9 882.4 L1046.8 887.7 L1047.7 880.0 L1048.5 885.8 L1049.4 884.5 L1050.3 881.0 L1051.1 878.9 L1051.9 883.6 L1052.7 883.4 L1053.5 879.8 L1054.3 878.1 L1055.1 878.3 L1056.0 873.2 L1056.9 878.5 L1057.8 880.9 L1058.7 886.5 L1059.5 875.3 L1060.4 877.1 L1061.3 881.6 L1062.1 879.3 L1063.0 880.2 L1063.9 880.6 L1064.8 879.5 L1065.7 880.4 L1066.6 882.2 L1067.5 874.3 L1068.4 882.5 L1069.3 871.9 L1070.2 886.8 L1071.1 885.4 L1072.0 879.6 L1072.9 885.5 L1073.7 880.8 L1074.5 881.6 L1075.3 882.3 L1076.0 880.3 L1076.8 878.5 L1077.5 879.4 L1078.3 875.9 L1079.1 874.8 L1080.0 872.3 L1080.8 868.7 L1081.6 882.0 L1082.4 878.6 L1083.3 870.1 L1084.1 876.5 L1084.9 876.9 L1085.8 867.6 L1086.7 872.5 L1087.5 875.0 L1088.4 880.5 L1089.3 878.0 L1090.2 878.4 L1091.1 874.7 L1092.0 878.4 L1092.9 870.1 L1093.7 876.6 L1094.6 877.4 L1095.5 869.8 L1096.4 875.3 L1097.3 879.8 L1098.2 879.8 L1099.0 877.8 L1099.9 869.6 L1100.8 871.8 L1101.7 869.0 L1102.6 875.3 L1103.5 867.4 L1104.4 866.5 L1105.2 864.1 L1106.1 870.7 L1107.0 871.4 L1107.9 867.3 L1108.7 867.6 L1109.6 869.4 L1110.4 874.7 L1111.1 864.1 L1111.9 869.3 L1112.6 869.8 L1113.4 869.9 L1114.2 872.8 L1115.0 870.3 L1115.9 868.1 L1116.8 872.6 L1117.7 871.5 L1118.6 868.6 L1119.5 868.5 L1120.4 863.3 L1121.3 868.4 L1122.2 864.2 L1123.1 863.0 L1124.0 866.3 L1124.8 861.1 L1125.7 865.1 L1126.6 866.7 L1127.4 870.1 L1128.3 867.9 L1129.2 870.0 L1130.1 874.6 L1131.0 871.8 L1131.9 864.3 L1132.8 861.9 L1133.6 864.8 L1134.5 864.6 L1135.3 859.3 L1136.1 859.9 L1137.0 859.6 L1137.8 863.4 L1138.7 870.7 L1139.5 871.2 L1140.4 860.6 L1141.2 862.4 L1142.1 858.6 L1142.9 858.3 L1143.8 863.9 L1144.7 864.1 L1145.6 860.9 L1146.5 865.6 L1147.4 862.1 L1148.3 867.4 L1149.2 861.7 L1150.1 866.9 L1150.9 863.0 L1151.8 864.3 L1152.7 867.8 L1153.6 860.6 L1154.5 862.8 L1155.4 865.4 L1156.3 864.0 L1157.2 866.1 L1158.1 862.2 L1159.0 860.4 L1159.9 867.4 L1160.8 869.0 L1161.7 865.2 L1162.5 873.1 L1163.3 870.1 L1164.1 871.1 L1164.9 871.3 L1165.7 865.5 L1166.6 875.5 L1167.5 865.1 L1168.4 869.3 L1169.3 870.7 L1170.2 870.6 L1171.1 870.1 L1172.0 866.5 L1172.9 867.7 L1173.8 869.4 L1174.7 874.2 L1175.6 866.9 L1176.5 871.1 L1177.4 870.2 L1178.3 869.0 L1179.2 866.7 L1180.1 870.0 L1181.0 864.2 L1181.9 871.2 L1182.7 872.2 L1183.6 867.7 L1184.5 871.8 L1185.3 871.4 L1186.2 867.8 L1187.0 872.5 L1187.8 867.7 L1188.7 878.7 L1189.5 866.6 L1190.3 870.8 L1191.1 871.8 L1192.0 875.4 L1192.8 879.1 L1193.7 874.2 L1194.5 872.6 L1195.4 881.5 L1196.2 878.4 L1197.1 875.7 L1198.0 876.5 L1198.9 871.4 L1199.7 877.4 L1200.6 882.0 L1201.5 871.4 L1202.4 870.6 L1203.3 876.5 L1204.2 866.8 L1205.1 881.1 L1205.9 870.4 L1206.8 876.0 L1207.7 878.2 L1208.6 883.4 L1209.5 880.5 L1210.4 869.8 L1211.3 870.7 L1212.1 877.9 L1213.0 869.5 L1213.9 877.5 L1214.8 875.7 L1215.7 881.9 L1216.5 883.6 L1217.4 871.5 L1218.3 882.2 L1219.2 883.1 L1220.1 878.1 L1221.0 877.7 L1221.8 875.6 L1222.7 878.9 L1223.6 881.9 L1224.5 885.4 L1225.4 885.9 L1226.3 879.6 L1227.2 877.9 L1228.0 884.9 L1228.9 872.5 L1229.8 876.2 L1230.7 884.6 L1231.6 890.7 L1232.5 879.6 L1233.4 883.0 L1234.3 877.2 L1235.2 881.2 L1236.0 881.3 L1236.9 878.9 L1237.8 884.6 L1238.7 882.6 L1239.6 885.3 L1240.5 882.8 L1241.4 879.2 L1242.3 884.3 L1243.2 887.1 L1244.1 881.2 L1245.0 890.8 L1245.9 887.6 L1246.7 884.7 L1247.6 883.9 L1248.5 882.3 L1249.4 880.7 L1250.3 887.6 L1251.2 887.1 L1252.1 882.2 L1253.0 883.3 L1253.9 883.4 L1254.8 888.4 L1255.7 891.4 L1256.5 883.6 L1257.4 887.4 L1258.3 885.3 L1259.2 887.7 L1260.1 891.1 L1261.0 882.7 L1261.8 879.2 L1262.7 886.4 L1263.6 881.3 L1264.5 893.7 L1265.3 885.0 L1266.2 886.8 L1267.1 889.0 L1267.9 890.1 L1268.8 888.0 L1269.7 889.8 L1270.5 893.5 L1271.4 887.4 L1272.3 895.7 L1273.2 890.3 L1274.0 880.5 L1274.9 893.2 L1275.8 883.6 L1276.7 891.5 L1277.6 898.9 L1278.5 892.5 L1279.3 884.5 L1280.2 885.8 L1281.1 889.1 L1282.0 896.0 L1282.9 888.1 L1283.8 895.1 L1284.6 892.3 L1285.5 893.1 L1286.4 893.1 L1287.3 900.1 L1288.2 888.4 L1289.1 888.0 L1289.9 895.7 L1290.8 896.3 L1291.7 887.9 L1292.6 889.5 L1293.5 888.8 L1294.4 895.3 L1295.2 890.6 L1296.1 898.5 L1297.0 896.2 L1297.9 894.5 L1298.8 896.1 L1299.6 897.5 L1300.5 898.8 L1301.4 895.9 L1302.3 896.6 L1303.2 898.8 L1304.1 895.7 L1305.0 899.9 L1305.9 894.5 L1306.7 892.3 L1307.6 896.0 L1308.5 901.6 L1309.4 902.8 L1310.3 891.5 L1311.2 898.7 L1312.1 895.8 L1313.0 896.2 L1313.9 896.2 L1314.8 896.8 L1315.7 896.3 L1316.5 897.3 L1317.4 899.3 L1318.3 894.1 L1319.2 892.9 L1320.1 893.4 L1321.0 893.5 L1321.9 900.0 L1322.8 896.0 L1323.7 899.9 L1324.6 900.6 L1325.5 903.1 L1326.4 899.5 L1327.3 903.4 L1328.1 899.4 L1329.0 900.7 L1329.9 902.2 L1330.8 894.2 L1331.7 901.1 L1332.6 905.1 L1333.5 900.0 L1334.4 898.9 L1335.3 907.0 L1336.2 900.7 L1337.0 905.1 L1337.9 891.8 L1338.8 901.2 L1339.7 900.2 L1340.6 903.6 L1341.4 906.8 L1342.3 902.1 L1343.2 901.0 L1344.1 893.1 L1345.0 905.1 L1345.8 907.3 L1346.7 904.3 L1347.6 902.2 L1348.5 905.5 L1349.4 908.1 L1350.3 906.4 L1351.2 911.8 L1352.1 902.1 L1353.0 899.9 L1353.8 906.9 L1354.7 909.9 L1355.6 903.6 L1356.5 904.9 L1357.4 902.5 L1358.3 900.3 L1359.2 902.3 L1360.1 896.7 L1361.0 905.4 L1361.9 906.2 L1362.8 907.9 L1363.7 899.9 L1364.6 900.7 L1365.5 897.0 L1366.4 897.9 L1367.3 908.7 L1368.2 914.4 L1369.1 901.7 L1370.0 904.7 L1370.9 909.7 L1371.8 903.8 L1372.7 908.7 L1373.5 905.0 L1374.4 905.2 L1375.3 909.8 L1376.2 905.6 L1377.1 902.4" fill="none" stroke="#cc00ff" stroke-width="2.0" stroke-linejoin="miter" stroke-miterlimit="3"/>
<text x="40.2" y="1075" text-anchor="middle" font-size="59.5">30</text>
<text x="263.4" y="1075" text-anchor="middle" font-size="59.5">40</text>
<text x="486.6" y="1075" text-anchor="middle" font-size="59.5">50</text>
<text x="709.8" y="1075" text-anchor="middle" font-size="59.5">60</text>
<text x="933.0" y="1075" text-anchor="middle" font-size="59.5">70</text>
<text x="1156.2" y="1075" text-anchor="middle" font-size="59.5">80</text>
<text x="1379.4" y="1075" text-anchor="middle" font-size="59.5">90</text>
<text x="709" y="1176" text-anchor="middle" font-size="68">2θ (°)</text>
<path d="M156.9 345.0L169.3 360.2L156.9 375.4L144.5 360.2Z M155.1 465.6L167.5 480.8L155.1 496.0L142.7 480.8Z M339.9 262.2L352.3 277.4L339.9 292.6L327.5 277.4Z M338.6 388.8L351.0 404.0L338.6 419.2L326.2 404.0Z M547.2 528.0L559.6 543.2L547.2 558.4L534.8 543.2Z M1175.0 275.4L1187.4 291.0L1175.0 306.6L1162.6 291.0Z" fill="#000"/>
<text x="1152.6" y="97.4" font-size="58.5">1</text><text x="1181.8" y="97.4" font-size="58.5">-</text><text x="1200.1" y="97.4" font-size="58.5">C</text><text x="1237.4" y="97.4" font-size="58.5">F</text><text x="1266.1" y="97.4" font-size="58.5">1</text>
<text x="1152.8" y="168.0" font-size="58.5">2</text><text x="1181.8" y="168.0" font-size="58.5">-</text><text x="1200.5" y="168.0" font-size="58.5">C</text><text x="1237.9" y="168.0" font-size="58.5">F</text><text x="1267.2" y="168.0" font-size="58.5">2</text>
<text x="1156.9" y="241.4" font-size="58.5">3</text><text x="1185.0" y="241.4" font-size="58.5">-</text><text x="1203.7" y="241.4" font-size="58.5">C</text><text x="1241.1" y="241.4" font-size="58.5">F</text><text x="1271.3" y="241.4" font-size="58.5">3</text>
<rect x="1197.3" y="289.3" width="28.2" height="3.6" fill="#000"/>
<text x="1225.5" y="308.0" font-size="58.5">A</text><text x="1266.1" y="308.0" font-size="58.5">l</text><text x="1299.6" y="308.0" font-size="58.5">O</text>
<text x="1280.9" y="322.0" font-size="40.3">2</text>
<text x="1340.2" y="322.3" font-size="40.3">3</text>
<text x="1239.6" y="574.6" font-size="57.5">3</text>
<text x="1241.2" y="725.0" font-size="58">2</text>
<text x="1245.0" y="875.3" font-size="58">1</text>
</svg></body></html>
